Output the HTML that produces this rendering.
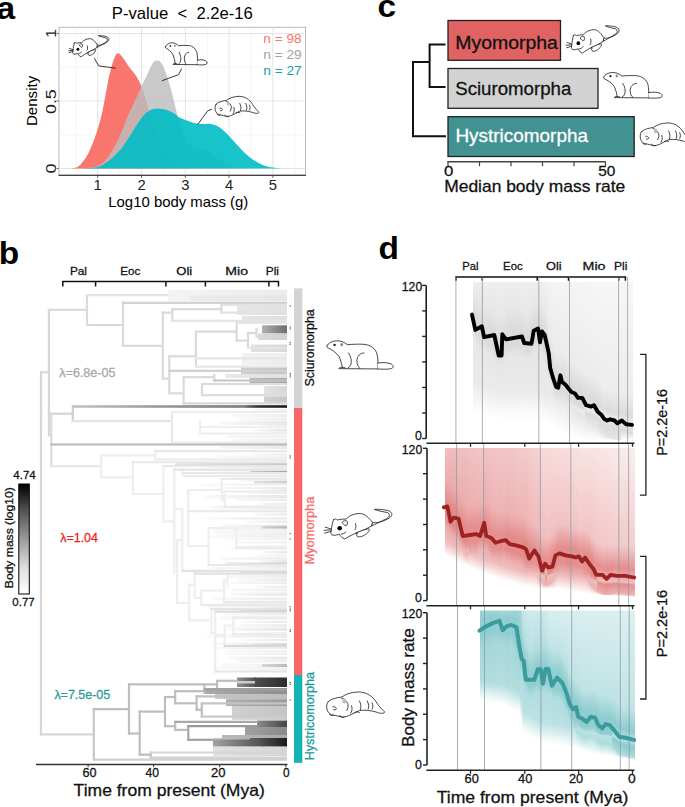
<!DOCTYPE html>
<html><head><meta charset="utf-8"><style>
html,body{margin:0;padding:0;background:#fff;width:685px;height:807px;overflow:hidden}
svg text{font-family:"Liberation Sans",sans-serif;stroke-width:0}
.cal text{stroke-width:0.28px;paint-order:stroke}
</style></head><body>
<svg width="685" height="807" viewBox="0 0 685 807" style="display:block">
<defs>
<linearGradient id="bg0" x1="0" x2="1" y1="0" y2="0"><stop offset="0" stop-color="#f4f4f4"/><stop offset="1" stop-color="#ececec"/></linearGradient>
<linearGradient id="bg1" x1="0" x2="1" y1="0" y2="0"><stop offset="0" stop-color="#ebebeb"/><stop offset="1" stop-color="#e6e6e6"/></linearGradient>
<linearGradient id="bg2" x1="0" x2="1" y1="0" y2="0"><stop offset="0" stop-color="#e6e6e6"/><stop offset="1" stop-color="#e0e0e0"/></linearGradient>
<linearGradient id="bg3" x1="0" x2="1" y1="0" y2="0"><stop offset="0" stop-color="#e4e4e4"/><stop offset="1" stop-color="#dedede"/></linearGradient>
<linearGradient id="bg4" x1="0" x2="1" y1="0" y2="0"><stop offset="0" stop-color="#b0b0b0"/><stop offset="1" stop-color="#6e6e6e"/></linearGradient>
<linearGradient id="bg5" x1="0" x2="1" y1="0" y2="0"><stop offset="0" stop-color="#dadada"/><stop offset="1" stop-color="#d0d0d0"/></linearGradient>
<linearGradient id="bg6" x1="0" x2="1" y1="0" y2="0"><stop offset="0" stop-color="#e2e2e2"/><stop offset="1" stop-color="#d8d8d8"/></linearGradient>
<linearGradient id="bg7" x1="0" x2="1" y1="0" y2="0"><stop offset="0" stop-color="#f2f2f2"/><stop offset="1" stop-color="#ececec"/></linearGradient>
<linearGradient id="bg8" x1="0" x2="1" y1="0" y2="0"><stop offset="0" stop-color="#cecece"/><stop offset="1" stop-color="#c4c4c4"/></linearGradient>
<linearGradient id="bg9" x1="0" x2="1" y1="0" y2="0"><stop offset="0" stop-color="#e8e8e8"/><stop offset="1" stop-color="#e0e0e0"/></linearGradient>
<linearGradient id="bg10" x1="0" x2="1" y1="0" y2="0"><stop offset="0" stop-color="#b8b8b8"/><stop offset="1" stop-color="#aaaaaa"/></linearGradient>
<linearGradient id="bg11" x1="0" x2="1" y1="0" y2="0"><stop offset="0" stop-color="#e2e2e2"/><stop offset="1" stop-color="#d8d8d8"/></linearGradient>
<linearGradient id="bg12" x1="0" x2="1" y1="0" y2="0"><stop offset="0" stop-color="#d0d0d0"/><stop offset="1" stop-color="#c8c8c8"/></linearGradient>
<linearGradient id="bg13" x1="0" x2="1" y1="0" y2="0"><stop offset="0" stop-color="#8e8e8e"/><stop offset="1" stop-color="#4e4e4e"/></linearGradient>
<linearGradient id="bg14" x1="0" x2="1" y1="0" y2="0"><stop offset="0" stop-color="#4e4e4e"/><stop offset="1" stop-color="#2c2c2c"/></linearGradient>
<linearGradient id="bg15" x1="0" x2="1" y1="0" y2="0"><stop offset="0" stop-color="#f9f9f9"/><stop offset="1" stop-color="#f0f0f0"/></linearGradient>
<linearGradient id="bg16" x1="0" x2="1" y1="0" y2="0"><stop offset="0" stop-color="#f9f9f9"/><stop offset="1" stop-color="#ededed"/></linearGradient>
<linearGradient id="bg17" x1="0" x2="1" y1="0" y2="0"><stop offset="0" stop-color="#f9f9f9"/><stop offset="1" stop-color="#f0f0f0"/></linearGradient>
<linearGradient id="bg18" x1="0" x2="1" y1="0" y2="0"><stop offset="0" stop-color="#f9f9f9"/><stop offset="1" stop-color="#e6e6e6"/></linearGradient>
<linearGradient id="bg19" x1="0" x2="1" y1="0" y2="0"><stop offset="0" stop-color="#f9f9f9"/><stop offset="1" stop-color="#eeeeee"/></linearGradient>
<linearGradient id="bg20" x1="0" x2="1" y1="0" y2="0"><stop offset="0" stop-color="#f9f9f9"/><stop offset="1" stop-color="#e5e5e5"/></linearGradient>
<linearGradient id="bg21" x1="0" x2="1" y1="0" y2="0"><stop offset="0" stop-color="#f9f9f9"/><stop offset="1" stop-color="#ededed"/></linearGradient>
<linearGradient id="bg22" x1="0" x2="1" y1="0" y2="0"><stop offset="0" stop-color="#f9f9f9"/><stop offset="1" stop-color="#f0f0f0"/></linearGradient>
<linearGradient id="bg23" x1="0" x2="1" y1="0" y2="0"><stop offset="0" stop-color="#f9f9f9"/><stop offset="1" stop-color="#eeeeee"/></linearGradient>
<linearGradient id="bg24" x1="0" x2="1" y1="0" y2="0"><stop offset="0" stop-color="#f9f9f9"/><stop offset="1" stop-color="#ececec"/></linearGradient>
<linearGradient id="bg25" x1="0" x2="1" y1="0" y2="0"><stop offset="0" stop-color="#f9f9f9"/><stop offset="1" stop-color="#e8e8e8"/></linearGradient>
<linearGradient id="bg26" x1="0" x2="1" y1="0" y2="0"><stop offset="0" stop-color="#f9f9f9"/><stop offset="1" stop-color="#efefef"/></linearGradient>
<linearGradient id="bg27" x1="0" x2="1" y1="0" y2="0"><stop offset="0" stop-color="#f9f9f9"/><stop offset="1" stop-color="#eaeaea"/></linearGradient>
<linearGradient id="bg28" x1="0" x2="1" y1="0" y2="0"><stop offset="0" stop-color="#f9f9f9"/><stop offset="1" stop-color="#f1f1f1"/></linearGradient>
<linearGradient id="bg29" x1="0" x2="1" y1="0" y2="0"><stop offset="0" stop-color="#f9f9f9"/><stop offset="1" stop-color="#eeeeee"/></linearGradient>
<linearGradient id="bg30" x1="0" x2="1" y1="0" y2="0"><stop offset="0" stop-color="#f9f9f9"/><stop offset="1" stop-color="#e7e7e7"/></linearGradient>
<linearGradient id="bg31" x1="0" x2="1" y1="0" y2="0"><stop offset="0" stop-color="#f9f9f9"/><stop offset="1" stop-color="#e9e9e9"/></linearGradient>
<linearGradient id="bg32" x1="0" x2="1" y1="0" y2="0"><stop offset="0" stop-color="#f9f9f9"/><stop offset="1" stop-color="#eeeeee"/></linearGradient>
<linearGradient id="bg33" x1="0" x2="1" y1="0" y2="0"><stop offset="0" stop-color="#f9f9f9"/><stop offset="1" stop-color="#ebebeb"/></linearGradient>
<linearGradient id="bg34" x1="0" x2="1" y1="0" y2="0"><stop offset="0" stop-color="#f9f9f9"/><stop offset="1" stop-color="#f2f2f2"/></linearGradient>
<linearGradient id="bg35" x1="0" x2="1" y1="0" y2="0"><stop offset="0" stop-color="#f9f9f9"/><stop offset="1" stop-color="#e6e6e6"/></linearGradient>
<linearGradient id="bg36" x1="0" x2="1" y1="0" y2="0"><stop offset="0" stop-color="#f9f9f9"/><stop offset="1" stop-color="#f1f1f1"/></linearGradient>
<linearGradient id="bg37" x1="0" x2="1" y1="0" y2="0"><stop offset="0" stop-color="#f9f9f9"/><stop offset="1" stop-color="#eaeaea"/></linearGradient>
<linearGradient id="bg38" x1="0" x2="1" y1="0" y2="0"><stop offset="0" stop-color="#f9f9f9"/><stop offset="1" stop-color="#e7e7e7"/></linearGradient>
<linearGradient id="bg39" x1="0" x2="1" y1="0" y2="0"><stop offset="0" stop-color="#f9f9f9"/><stop offset="1" stop-color="#e9e9e9"/></linearGradient>
<linearGradient id="bg40" x1="0" x2="1" y1="0" y2="0"><stop offset="0" stop-color="#f9f9f9"/><stop offset="1" stop-color="#e6e6e6"/></linearGradient>
<linearGradient id="bg41" x1="0" x2="1" y1="0" y2="0"><stop offset="0" stop-color="#f9f9f9"/><stop offset="1" stop-color="#eaeaea"/></linearGradient>
<linearGradient id="bg42" x1="0" x2="1" y1="0" y2="0"><stop offset="0" stop-color="#f9f9f9"/><stop offset="1" stop-color="#ebebeb"/></linearGradient>
<linearGradient id="bg43" x1="0" x2="1" y1="0" y2="0"><stop offset="0" stop-color="#f9f9f9"/><stop offset="1" stop-color="#e7e7e7"/></linearGradient>
<linearGradient id="bg44" x1="0" x2="1" y1="0" y2="0"><stop offset="0" stop-color="#f9f9f9"/><stop offset="1" stop-color="#e7e7e7"/></linearGradient>
<linearGradient id="bg45" x1="0" x2="1" y1="0" y2="0"><stop offset="0" stop-color="#f9f9f9"/><stop offset="1" stop-color="#ededed"/></linearGradient>
<linearGradient id="bg46" x1="0" x2="1" y1="0" y2="0"><stop offset="0" stop-color="#f9f9f9"/><stop offset="1" stop-color="#e5e5e5"/></linearGradient>
<linearGradient id="bg47" x1="0" x2="1" y1="0" y2="0"><stop offset="0" stop-color="#f9f9f9"/><stop offset="1" stop-color="#eaeaea"/></linearGradient>
<linearGradient id="bg48" x1="0" x2="1" y1="0" y2="0"><stop offset="0" stop-color="#f9f9f9"/><stop offset="1" stop-color="#e7e7e7"/></linearGradient>
<linearGradient id="bg49" x1="0" x2="1" y1="0" y2="0"><stop offset="0" stop-color="#f9f9f9"/><stop offset="1" stop-color="#ececec"/></linearGradient>
<linearGradient id="bg50" x1="0" x2="1" y1="0" y2="0"><stop offset="0" stop-color="#f9f9f9"/><stop offset="1" stop-color="#f1f1f1"/></linearGradient>
<linearGradient id="bg51" x1="0" x2="1" y1="0" y2="0"><stop offset="0" stop-color="#f9f9f9"/><stop offset="1" stop-color="#ebebeb"/></linearGradient>
<linearGradient id="bg52" x1="0" x2="1" y1="0" y2="0"><stop offset="0" stop-color="#f9f9f9"/><stop offset="1" stop-color="#eaeaea"/></linearGradient>
<linearGradient id="bg53" x1="0" x2="1" y1="0" y2="0"><stop offset="0" stop-color="#f9f9f9"/><stop offset="1" stop-color="#f1f1f1"/></linearGradient>
<linearGradient id="bg54" x1="0" x2="1" y1="0" y2="0"><stop offset="0" stop-color="#f9f9f9"/><stop offset="1" stop-color="#f1f1f1"/></linearGradient>
<linearGradient id="bg55" x1="0" x2="1" y1="0" y2="0"><stop offset="0" stop-color="#f9f9f9"/><stop offset="1" stop-color="#f2f2f2"/></linearGradient>
<linearGradient id="bg56" x1="0" x2="1" y1="0" y2="0"><stop offset="0" stop-color="#f9f9f9"/><stop offset="1" stop-color="#efefef"/></linearGradient>
<linearGradient id="bg57" x1="0" x2="1" y1="0" y2="0"><stop offset="0" stop-color="#f9f9f9"/><stop offset="1" stop-color="#e6e6e6"/></linearGradient>
<linearGradient id="bg58" x1="0" x2="1" y1="0" y2="0"><stop offset="0" stop-color="#f9f9f9"/><stop offset="1" stop-color="#efefef"/></linearGradient>
<linearGradient id="bg59" x1="0" x2="1" y1="0" y2="0"><stop offset="0" stop-color="#f9f9f9"/><stop offset="1" stop-color="#eeeeee"/></linearGradient>
<linearGradient id="bg60" x1="0" x2="1" y1="0" y2="0"><stop offset="0" stop-color="#f9f9f9"/><stop offset="1" stop-color="#e5e5e5"/></linearGradient>
<linearGradient id="bg61" x1="0" x2="1" y1="0" y2="0"><stop offset="0" stop-color="#f9f9f9"/><stop offset="1" stop-color="#eaeaea"/></linearGradient>
<linearGradient id="bg62" x1="0" x2="1" y1="0" y2="0"><stop offset="0" stop-color="#f9f9f9"/><stop offset="1" stop-color="#ededed"/></linearGradient>
<linearGradient id="bg63" x1="0" x2="1" y1="0" y2="0"><stop offset="0" stop-color="#f9f9f9"/><stop offset="1" stop-color="#eaeaea"/></linearGradient>
<linearGradient id="bg64" x1="0" x2="1" y1="0" y2="0"><stop offset="0" stop-color="#f9f9f9"/><stop offset="1" stop-color="#ececec"/></linearGradient>
<linearGradient id="bg65" x1="0" x2="1" y1="0" y2="0"><stop offset="0" stop-color="#f9f9f9"/><stop offset="1" stop-color="#ebebeb"/></linearGradient>
<linearGradient id="bg66" x1="0" x2="1" y1="0" y2="0"><stop offset="0" stop-color="#f9f9f9"/><stop offset="1" stop-color="#ededed"/></linearGradient>
<linearGradient id="bg67" x1="0" x2="1" y1="0" y2="0"><stop offset="0" stop-color="#f9f9f9"/><stop offset="1" stop-color="#eaeaea"/></linearGradient>
<linearGradient id="bg68" x1="0" x2="1" y1="0" y2="0"><stop offset="0" stop-color="#f9f9f9"/><stop offset="1" stop-color="#efefef"/></linearGradient>
<linearGradient id="bg69" x1="0" x2="1" y1="0" y2="0"><stop offset="0" stop-color="#f9f9f9"/><stop offset="1" stop-color="#e8e8e8"/></linearGradient>
<linearGradient id="bg70" x1="0" x2="1" y1="0" y2="0"><stop offset="0" stop-color="#f9f9f9"/><stop offset="1" stop-color="#ebebeb"/></linearGradient>
<linearGradient id="bg71" x1="0" x2="1" y1="0" y2="0"><stop offset="0" stop-color="#f9f9f9"/><stop offset="1" stop-color="#ededed"/></linearGradient>
<linearGradient id="bg72" x1="0" x2="1" y1="0" y2="0"><stop offset="0" stop-color="#f9f9f9"/><stop offset="1" stop-color="#ebebeb"/></linearGradient>
<linearGradient id="bg73" x1="0" x2="1" y1="0" y2="0"><stop offset="0" stop-color="#f9f9f9"/><stop offset="1" stop-color="#e8e8e8"/></linearGradient>
<linearGradient id="bg74" x1="0" x2="1" y1="0" y2="0"><stop offset="0" stop-color="#f9f9f9"/><stop offset="1" stop-color="#e8e8e8"/></linearGradient>
<linearGradient id="bg75" x1="0" x2="1" y1="0" y2="0"><stop offset="0" stop-color="#f9f9f9"/><stop offset="1" stop-color="#ececec"/></linearGradient>
<linearGradient id="bg76" x1="0" x2="1" y1="0" y2="0"><stop offset="0" stop-color="#f9f9f9"/><stop offset="1" stop-color="#f0f0f0"/></linearGradient>
<linearGradient id="bg77" x1="0" x2="1" y1="0" y2="0"><stop offset="0" stop-color="#f9f9f9"/><stop offset="1" stop-color="#e8e8e8"/></linearGradient>
<linearGradient id="bg78" x1="0" x2="1" y1="0" y2="0"><stop offset="0" stop-color="#f9f9f9"/><stop offset="1" stop-color="#ececec"/></linearGradient>
<linearGradient id="bg79" x1="0" x2="1" y1="0" y2="0"><stop offset="0" stop-color="#f9f9f9"/><stop offset="1" stop-color="#e5e5e5"/></linearGradient>
<linearGradient id="bg80" x1="0" x2="1" y1="0" y2="0"><stop offset="0" stop-color="#f9f9f9"/><stop offset="1" stop-color="#f0f0f0"/></linearGradient>
<linearGradient id="bg81" x1="0" x2="1" y1="0" y2="0"><stop offset="0" stop-color="#f9f9f9"/><stop offset="1" stop-color="#ececec"/></linearGradient>
<linearGradient id="bg82" x1="0" x2="1" y1="0" y2="0"><stop offset="0" stop-color="#f9f9f9"/><stop offset="1" stop-color="#e7e7e7"/></linearGradient>
<linearGradient id="bg83" x1="0" x2="1" y1="0" y2="0"><stop offset="0" stop-color="#f9f9f9"/><stop offset="1" stop-color="#e5e5e5"/></linearGradient>
<linearGradient id="bg84" x1="0" x2="1" y1="0" y2="0"><stop offset="0" stop-color="#f9f9f9"/><stop offset="1" stop-color="#e8e8e8"/></linearGradient>
<linearGradient id="bg85" x1="0" x2="1" y1="0" y2="0"><stop offset="0" stop-color="#f9f9f9"/><stop offset="1" stop-color="#f0f0f0"/></linearGradient>
<linearGradient id="bg86" x1="0" x2="1" y1="0" y2="0"><stop offset="0" stop-color="#f9f9f9"/><stop offset="1" stop-color="#f1f1f1"/></linearGradient>
<linearGradient id="bg87" x1="0" x2="1" y1="0" y2="0"><stop offset="0" stop-color="#f9f9f9"/><stop offset="1" stop-color="#e7e7e7"/></linearGradient>
<linearGradient id="bg88" x1="0" x2="1" y1="0" y2="0"><stop offset="0" stop-color="#f9f9f9"/><stop offset="1" stop-color="#eeeeee"/></linearGradient>
<linearGradient id="bg89" x1="0" x2="1" y1="0" y2="0"><stop offset="0" stop-color="#f9f9f9"/><stop offset="1" stop-color="#f2f2f2"/></linearGradient>
<linearGradient id="bg90" x1="0" x2="1" y1="0" y2="0"><stop offset="0" stop-color="#f9f9f9"/><stop offset="1" stop-color="#f1f1f1"/></linearGradient>
<linearGradient id="bg91" x1="0" x2="1" y1="0" y2="0"><stop offset="0" stop-color="#f9f9f9"/><stop offset="1" stop-color="#f0f0f0"/></linearGradient>
<linearGradient id="bg92" x1="0" x2="1" y1="0" y2="0"><stop offset="0" stop-color="#e2e2e2"/><stop offset="1" stop-color="#c8c8c8"/></linearGradient>
<linearGradient id="bg93" x1="0" x2="1" y1="0" y2="0"><stop offset="0" stop-color="#cfcfcf"/><stop offset="1" stop-color="#a0a0a0"/></linearGradient>
<linearGradient id="bg94" x1="0" x2="1" y1="0" y2="0"><stop offset="0" stop-color="#e0e0e0"/><stop offset="1" stop-color="#cfcfcf"/></linearGradient>
<linearGradient id="bg95" x1="0" x2="1" y1="0" y2="0"><stop offset="0" stop-color="#d4d4d4"/><stop offset="1" stop-color="#b8b8b8"/></linearGradient>
<linearGradient id="bg96" x1="0" x2="1" y1="0" y2="0"><stop offset="0" stop-color="#e8e8e8"/><stop offset="1" stop-color="#d2d2d2"/></linearGradient>
<linearGradient id="bg97" x1="0" x2="1" y1="0" y2="0"><stop offset="0" stop-color="#dcdcdc"/><stop offset="1" stop-color="#c8c8c8"/></linearGradient>
<linearGradient id="bg98" x1="0" x2="1" y1="0" y2="0"><stop offset="0" stop-color="#dadada"/><stop offset="1" stop-color="#c0c0c0"/></linearGradient>
<linearGradient id="bg99" x1="0" x2="1" y1="0" y2="0"><stop offset="0" stop-color="#d4d4d4"/><stop offset="1" stop-color="#b4b4b4"/></linearGradient>
<linearGradient id="bg100" x1="0" x2="1" y1="0" y2="0"><stop offset="0" stop-color="#d8d8d8"/><stop offset="1" stop-color="#b8b8b8"/></linearGradient>
<linearGradient id="bg101" x1="0" x2="1" y1="0" y2="0"><stop offset="0" stop-color="#d0d0d0"/><stop offset="1" stop-color="#c8c8c8"/></linearGradient>
<linearGradient id="bg102" x1="0" x2="1" y1="0" y2="0"><stop offset="0" stop-color="#aaaaaa"/><stop offset="1" stop-color="#8e8e8e"/></linearGradient>
<linearGradient id="bg103" x1="0" x2="1" y1="0" y2="0"><stop offset="0" stop-color="#c8c8c8"/><stop offset="1" stop-color="#bbbbbb"/></linearGradient>
<linearGradient id="bg104" x1="0" x2="1" y1="0" y2="0"><stop offset="0" stop-color="#b0b0b0"/><stop offset="1" stop-color="#9a9a9a"/></linearGradient>
<linearGradient id="bg105" x1="0" x2="1" y1="0" y2="0"><stop offset="0" stop-color="#d0d0d0"/><stop offset="1" stop-color="#c4c4c4"/></linearGradient>
<linearGradient id="bg106" x1="0" x2="1" y1="0" y2="0"><stop offset="0" stop-color="#d8d8d8"/><stop offset="1" stop-color="#cccccc"/></linearGradient>
<linearGradient id="bg107" x1="0" x2="1" y1="0" y2="0"><stop offset="0" stop-color="#8a8a8a"/><stop offset="1" stop-color="#444444"/></linearGradient>
<linearGradient id="bg108" x1="0" x2="1" y1="0" y2="0"><stop offset="0" stop-color="#a0a0a0"/><stop offset="1" stop-color="#8a8a8a"/></linearGradient>
<linearGradient id="bg109" x1="0" x2="1" y1="0" y2="0"><stop offset="0" stop-color="#b8b8b8"/><stop offset="1" stop-color="#aaaaaa"/></linearGradient>
<linearGradient id="bg110" x1="0" x2="1" y1="0" y2="0"><stop offset="0" stop-color="#a2a2a2"/><stop offset="1" stop-color="#4c4c4c"/></linearGradient>
<linearGradient id="bg111" x1="0" x2="1" y1="0" y2="0"><stop offset="0" stop-color="#4c4c4c"/><stop offset="1" stop-color="#1c1c1c"/></linearGradient>
<linearGradient id="bg112" x1="0" x2="1" y1="0" y2="0"><stop offset="0" stop-color="#c8c8c8"/><stop offset="1" stop-color="#b0b0b0"/></linearGradient>
<linearGradient id="bg113" x1="0" x2="1" y1="0" y2="0"><stop offset="0" stop-color="#e0e0e0"/><stop offset="1" stop-color="#d6d6d6"/></linearGradient>
<linearGradient id="darkl" x1="0" x2="1" y1="0" y2="0"><stop offset="0" stop-color="#c4c4c4"/><stop offset="0.4" stop-color="#9a9a9a"/><stop offset="0.8" stop-color="#7a7a7a"/><stop offset="0.86" stop-color="#333"/><stop offset="1" stop-color="#1a1a1a"/></linearGradient>
<linearGradient id="cbar" x1="0" x2="0" y1="0" y2="1"><stop offset="0" stop-color="#000"/><stop offset="0.25" stop-color="#555"/><stop offset="0.5" stop-color="#9a9a9a"/><stop offset="0.75" stop-color="#dcdcdc"/><stop offset="1" stop-color="#fff"/></linearGradient>
<linearGradient id="gt0" x1="0" x2="0" y1="0" y2="1"><stop offset="0.000" stop-color="#000" stop-opacity="0.069"/><stop offset="0.065" stop-color="#000" stop-opacity="0.093"/><stop offset="0.204" stop-color="#000" stop-opacity="0.138"/><stop offset="0.305" stop-color="#000" stop-opacity="0.138"/><stop offset="0.368" stop-color="#000" stop-opacity="0.093"/><stop offset="0.641" stop-color="#000" stop-opacity="0.079"/><stop offset="0.831" stop-color="#000" stop-opacity="0.000"/><stop offset="1.000" stop-color="#000" stop-opacity="0.000"/></linearGradient>
<linearGradient id="gt1" x1="0" x2="0" y1="0" y2="1"><stop offset="0.000" stop-color="#000" stop-opacity="0.069"/><stop offset="0.081" stop-color="#000" stop-opacity="0.094"/><stop offset="0.220" stop-color="#000" stop-opacity="0.139"/><stop offset="0.321" stop-color="#000" stop-opacity="0.139"/><stop offset="0.384" stop-color="#000" stop-opacity="0.094"/><stop offset="0.644" stop-color="#000" stop-opacity="0.080"/><stop offset="0.834" stop-color="#000" stop-opacity="0.000"/><stop offset="1.000" stop-color="#000" stop-opacity="0.000"/></linearGradient>
<linearGradient id="gt2" x1="0" x2="0" y1="0" y2="1"><stop offset="0.000" stop-color="#000" stop-opacity="0.069"/><stop offset="0.096" stop-color="#000" stop-opacity="0.093"/><stop offset="0.235" stop-color="#000" stop-opacity="0.138"/><stop offset="0.337" stop-color="#000" stop-opacity="0.138"/><stop offset="0.400" stop-color="#000" stop-opacity="0.094"/><stop offset="0.647" stop-color="#000" stop-opacity="0.080"/><stop offset="0.837" stop-color="#000" stop-opacity="0.000"/><stop offset="1.000" stop-color="#000" stop-opacity="0.000"/></linearGradient>
<linearGradient id="gt3" x1="0" x2="0" y1="0" y2="1"><stop offset="0.000" stop-color="#000" stop-opacity="0.069"/><stop offset="0.112" stop-color="#000" stop-opacity="0.094"/><stop offset="0.252" stop-color="#000" stop-opacity="0.140"/><stop offset="0.353" stop-color="#000" stop-opacity="0.140"/><stop offset="0.416" stop-color="#000" stop-opacity="0.095"/><stop offset="0.651" stop-color="#000" stop-opacity="0.081"/><stop offset="0.841" stop-color="#000" stop-opacity="0.000"/><stop offset="1.000" stop-color="#000" stop-opacity="0.000"/></linearGradient>
<linearGradient id="gt4" x1="0" x2="0" y1="0" y2="1"><stop offset="0.000" stop-color="#000" stop-opacity="0.070"/><stop offset="0.122" stop-color="#000" stop-opacity="0.095"/><stop offset="0.261" stop-color="#000" stop-opacity="0.141"/><stop offset="0.362" stop-color="#000" stop-opacity="0.141"/><stop offset="0.425" stop-color="#000" stop-opacity="0.096"/><stop offset="0.654" stop-color="#000" stop-opacity="0.081"/><stop offset="0.844" stop-color="#000" stop-opacity="0.000"/><stop offset="1.000" stop-color="#000" stop-opacity="0.000"/></linearGradient>
<linearGradient id="gt5" x1="0" x2="0" y1="0" y2="1"><stop offset="0.000" stop-color="#000" stop-opacity="0.068"/><stop offset="0.132" stop-color="#000" stop-opacity="0.092"/><stop offset="0.271" stop-color="#000" stop-opacity="0.137"/><stop offset="0.372" stop-color="#000" stop-opacity="0.137"/><stop offset="0.435" stop-color="#000" stop-opacity="0.093"/><stop offset="0.657" stop-color="#000" stop-opacity="0.079"/><stop offset="0.847" stop-color="#000" stop-opacity="0.000"/><stop offset="1.000" stop-color="#000" stop-opacity="0.000"/></linearGradient>
<linearGradient id="gt6" x1="0" x2="0" y1="0" y2="1"><stop offset="0.000" stop-color="#000" stop-opacity="0.066"/><stop offset="0.143" stop-color="#000" stop-opacity="0.090"/><stop offset="0.282" stop-color="#000" stop-opacity="0.134"/><stop offset="0.383" stop-color="#000" stop-opacity="0.134"/><stop offset="0.446" stop-color="#000" stop-opacity="0.091"/><stop offset="0.661" stop-color="#000" stop-opacity="0.077"/><stop offset="0.850" stop-color="#000" stop-opacity="0.000"/><stop offset="1.000" stop-color="#000" stop-opacity="0.000"/></linearGradient>
<linearGradient id="gt7" x1="0" x2="0" y1="0" y2="1"><stop offset="0.000" stop-color="#000" stop-opacity="0.069"/><stop offset="0.154" stop-color="#000" stop-opacity="0.093"/><stop offset="0.293" stop-color="#000" stop-opacity="0.139"/><stop offset="0.394" stop-color="#000" stop-opacity="0.139"/><stop offset="0.457" stop-color="#000" stop-opacity="0.094"/><stop offset="0.664" stop-color="#000" stop-opacity="0.080"/><stop offset="0.854" stop-color="#000" stop-opacity="0.000"/><stop offset="1.000" stop-color="#000" stop-opacity="0.000"/></linearGradient>
<linearGradient id="gt8" x1="0" x2="0" y1="0" y2="1"><stop offset="0.000" stop-color="#000" stop-opacity="0.067"/><stop offset="0.151" stop-color="#000" stop-opacity="0.092"/><stop offset="0.291" stop-color="#000" stop-opacity="0.137"/><stop offset="0.392" stop-color="#000" stop-opacity="0.137"/><stop offset="0.455" stop-color="#000" stop-opacity="0.093"/><stop offset="0.667" stop-color="#000" stop-opacity="0.079"/><stop offset="0.857" stop-color="#000" stop-opacity="0.000"/><stop offset="1.000" stop-color="#000" stop-opacity="0.000"/></linearGradient>
<linearGradient id="gt9" x1="0" x2="0" y1="0" y2="1"><stop offset="0.000" stop-color="#000" stop-opacity="0.067"/><stop offset="0.159" stop-color="#000" stop-opacity="0.091"/><stop offset="0.298" stop-color="#000" stop-opacity="0.136"/><stop offset="0.400" stop-color="#000" stop-opacity="0.136"/><stop offset="0.463" stop-color="#000" stop-opacity="0.092"/><stop offset="0.670" stop-color="#000" stop-opacity="0.078"/><stop offset="0.860" stop-color="#000" stop-opacity="0.000"/><stop offset="1.000" stop-color="#000" stop-opacity="0.000"/></linearGradient>
<linearGradient id="gt10" x1="0" x2="0" y1="0" y2="1"><stop offset="0.000" stop-color="#000" stop-opacity="0.069"/><stop offset="0.179" stop-color="#000" stop-opacity="0.095"/><stop offset="0.319" stop-color="#000" stop-opacity="0.142"/><stop offset="0.420" stop-color="#000" stop-opacity="0.142"/><stop offset="0.483" stop-color="#000" stop-opacity="0.096"/><stop offset="0.674" stop-color="#000" stop-opacity="0.082"/><stop offset="0.864" stop-color="#000" stop-opacity="0.000"/><stop offset="1.000" stop-color="#000" stop-opacity="0.000"/></linearGradient>
<linearGradient id="gt11" x1="0" x2="0" y1="0" y2="1"><stop offset="0.000" stop-color="#000" stop-opacity="0.069"/><stop offset="0.204" stop-color="#000" stop-opacity="0.094"/><stop offset="0.343" stop-color="#000" stop-opacity="0.141"/><stop offset="0.445" stop-color="#000" stop-opacity="0.141"/><stop offset="0.508" stop-color="#000" stop-opacity="0.096"/><stop offset="0.677" stop-color="#000" stop-opacity="0.081"/><stop offset="0.867" stop-color="#000" stop-opacity="0.000"/><stop offset="1.000" stop-color="#000" stop-opacity="0.000"/></linearGradient>
<linearGradient id="gt12" x1="0" x2="0" y1="0" y2="1"><stop offset="0.000" stop-color="#000" stop-opacity="0.070"/><stop offset="0.214" stop-color="#000" stop-opacity="0.096"/><stop offset="0.353" stop-color="#000" stop-opacity="0.144"/><stop offset="0.455" stop-color="#000" stop-opacity="0.144"/><stop offset="0.518" stop-color="#000" stop-opacity="0.097"/><stop offset="0.680" stop-color="#000" stop-opacity="0.083"/><stop offset="0.870" stop-color="#000" stop-opacity="0.000"/><stop offset="1.000" stop-color="#000" stop-opacity="0.000"/></linearGradient>
<linearGradient id="gt13" x1="0" x2="0" y1="0" y2="1"><stop offset="0.000" stop-color="#000" stop-opacity="0.069"/><stop offset="0.216" stop-color="#000" stop-opacity="0.094"/><stop offset="0.355" stop-color="#000" stop-opacity="0.142"/><stop offset="0.457" stop-color="#000" stop-opacity="0.142"/><stop offset="0.520" stop-color="#000" stop-opacity="0.096"/><stop offset="0.684" stop-color="#000" stop-opacity="0.082"/><stop offset="0.873" stop-color="#000" stop-opacity="0.000"/><stop offset="1.000" stop-color="#000" stop-opacity="0.000"/></linearGradient>
<linearGradient id="gt14" x1="0" x2="0" y1="0" y2="1"><stop offset="0.000" stop-color="#000" stop-opacity="0.069"/><stop offset="0.212" stop-color="#000" stop-opacity="0.095"/><stop offset="0.351" stop-color="#000" stop-opacity="0.142"/><stop offset="0.452" stop-color="#000" stop-opacity="0.142"/><stop offset="0.515" stop-color="#000" stop-opacity="0.097"/><stop offset="0.684" stop-color="#000" stop-opacity="0.082"/><stop offset="0.873" stop-color="#000" stop-opacity="0.000"/><stop offset="1.000" stop-color="#000" stop-opacity="0.000"/></linearGradient>
<linearGradient id="gt15" x1="0" x2="0" y1="0" y2="1"><stop offset="0.000" stop-color="#000" stop-opacity="0.067"/><stop offset="0.195" stop-color="#000" stop-opacity="0.092"/><stop offset="0.334" stop-color="#000" stop-opacity="0.138"/><stop offset="0.435" stop-color="#000" stop-opacity="0.138"/><stop offset="0.499" stop-color="#000" stop-opacity="0.094"/><stop offset="0.684" stop-color="#000" stop-opacity="0.080"/><stop offset="0.873" stop-color="#000" stop-opacity="0.000"/><stop offset="1.000" stop-color="#000" stop-opacity="0.000"/></linearGradient>
<linearGradient id="gt16" x1="0" x2="0" y1="0" y2="1"><stop offset="0.000" stop-color="#000" stop-opacity="0.068"/><stop offset="0.174" stop-color="#000" stop-opacity="0.093"/><stop offset="0.313" stop-color="#000" stop-opacity="0.140"/><stop offset="0.414" stop-color="#000" stop-opacity="0.140"/><stop offset="0.477" stop-color="#000" stop-opacity="0.095"/><stop offset="0.684" stop-color="#000" stop-opacity="0.081"/><stop offset="0.873" stop-color="#000" stop-opacity="0.000"/><stop offset="1.000" stop-color="#000" stop-opacity="0.000"/></linearGradient>
<linearGradient id="gt17" x1="0" x2="0" y1="0" y2="1"><stop offset="0.000" stop-color="#000" stop-opacity="0.069"/><stop offset="0.167" stop-color="#000" stop-opacity="0.095"/><stop offset="0.306" stop-color="#000" stop-opacity="0.143"/><stop offset="0.408" stop-color="#000" stop-opacity="0.143"/><stop offset="0.471" stop-color="#000" stop-opacity="0.097"/><stop offset="0.684" stop-color="#000" stop-opacity="0.083"/><stop offset="0.873" stop-color="#000" stop-opacity="0.000"/><stop offset="1.000" stop-color="#000" stop-opacity="0.000"/></linearGradient>
<linearGradient id="gt18" x1="0" x2="0" y1="0" y2="1"><stop offset="0.000" stop-color="#000" stop-opacity="0.068"/><stop offset="0.169" stop-color="#000" stop-opacity="0.094"/><stop offset="0.308" stop-color="#000" stop-opacity="0.142"/><stop offset="0.409" stop-color="#000" stop-opacity="0.142"/><stop offset="0.473" stop-color="#000" stop-opacity="0.097"/><stop offset="0.684" stop-color="#000" stop-opacity="0.082"/><stop offset="0.873" stop-color="#000" stop-opacity="0.000"/><stop offset="1.000" stop-color="#000" stop-opacity="0.000"/></linearGradient>
<linearGradient id="gt19" x1="0" x2="0" y1="0" y2="1"><stop offset="0.000" stop-color="#000" stop-opacity="0.069"/><stop offset="0.167" stop-color="#000" stop-opacity="0.095"/><stop offset="0.306" stop-color="#000" stop-opacity="0.144"/><stop offset="0.407" stop-color="#000" stop-opacity="0.144"/><stop offset="0.470" stop-color="#000" stop-opacity="0.097"/><stop offset="0.684" stop-color="#000" stop-opacity="0.083"/><stop offset="0.873" stop-color="#000" stop-opacity="0.000"/><stop offset="1.000" stop-color="#000" stop-opacity="0.000"/></linearGradient>
<linearGradient id="gt20" x1="0" x2="0" y1="0" y2="1"><stop offset="0.000" stop-color="#000" stop-opacity="0.069"/><stop offset="0.164" stop-color="#000" stop-opacity="0.095"/><stop offset="0.303" stop-color="#000" stop-opacity="0.144"/><stop offset="0.405" stop-color="#000" stop-opacity="0.144"/><stop offset="0.468" stop-color="#000" stop-opacity="0.097"/><stop offset="0.684" stop-color="#000" stop-opacity="0.083"/><stop offset="0.873" stop-color="#000" stop-opacity="0.000"/><stop offset="1.000" stop-color="#000" stop-opacity="0.000"/></linearGradient>
<linearGradient id="gt21" x1="0" x2="0" y1="0" y2="1"><stop offset="0.000" stop-color="#000" stop-opacity="0.066"/><stop offset="0.162" stop-color="#000" stop-opacity="0.091"/><stop offset="0.301" stop-color="#000" stop-opacity="0.138"/><stop offset="0.402" stop-color="#000" stop-opacity="0.138"/><stop offset="0.466" stop-color="#000" stop-opacity="0.094"/><stop offset="0.684" stop-color="#000" stop-opacity="0.080"/><stop offset="0.873" stop-color="#000" stop-opacity="0.000"/><stop offset="1.000" stop-color="#000" stop-opacity="0.000"/></linearGradient>
<linearGradient id="gt22" x1="0" x2="0" y1="0" y2="1"><stop offset="0.000" stop-color="#000" stop-opacity="0.067"/><stop offset="0.160" stop-color="#000" stop-opacity="0.093"/><stop offset="0.299" stop-color="#000" stop-opacity="0.141"/><stop offset="0.400" stop-color="#000" stop-opacity="0.141"/><stop offset="0.463" stop-color="#000" stop-opacity="0.096"/><stop offset="0.684" stop-color="#000" stop-opacity="0.081"/><stop offset="0.873" stop-color="#000" stop-opacity="0.000"/><stop offset="1.000" stop-color="#000" stop-opacity="0.000"/></linearGradient>
<linearGradient id="gt23" x1="0" x2="0" y1="0" y2="1"><stop offset="0.000" stop-color="#000" stop-opacity="0.067"/><stop offset="0.165" stop-color="#000" stop-opacity="0.093"/><stop offset="0.305" stop-color="#000" stop-opacity="0.142"/><stop offset="0.406" stop-color="#000" stop-opacity="0.142"/><stop offset="0.469" stop-color="#000" stop-opacity="0.096"/><stop offset="0.684" stop-color="#000" stop-opacity="0.082"/><stop offset="0.873" stop-color="#000" stop-opacity="0.000"/><stop offset="1.000" stop-color="#000" stop-opacity="0.000"/></linearGradient>
<linearGradient id="gt24" x1="0" x2="0" y1="0" y2="1"><stop offset="0.000" stop-color="#000" stop-opacity="0.066"/><stop offset="0.172" stop-color="#000" stop-opacity="0.092"/><stop offset="0.312" stop-color="#000" stop-opacity="0.139"/><stop offset="0.413" stop-color="#000" stop-opacity="0.139"/><stop offset="0.476" stop-color="#000" stop-opacity="0.094"/><stop offset="0.684" stop-color="#000" stop-opacity="0.080"/><stop offset="0.873" stop-color="#000" stop-opacity="0.000"/><stop offset="1.000" stop-color="#000" stop-opacity="0.000"/></linearGradient>
<linearGradient id="gt25" x1="0" x2="0" y1="0" y2="1"><stop offset="0.000" stop-color="#000" stop-opacity="0.064"/><stop offset="0.180" stop-color="#000" stop-opacity="0.089"/><stop offset="0.319" stop-color="#000" stop-opacity="0.135"/><stop offset="0.421" stop-color="#000" stop-opacity="0.135"/><stop offset="0.484" stop-color="#000" stop-opacity="0.092"/><stop offset="0.684" stop-color="#000" stop-opacity="0.078"/><stop offset="0.873" stop-color="#000" stop-opacity="0.000"/><stop offset="1.000" stop-color="#000" stop-opacity="0.000"/></linearGradient>
<linearGradient id="gt26" x1="0" x2="0" y1="0" y2="1"><stop offset="0.000" stop-color="#000" stop-opacity="0.066"/><stop offset="0.189" stop-color="#000" stop-opacity="0.092"/><stop offset="0.328" stop-color="#000" stop-opacity="0.140"/><stop offset="0.429" stop-color="#000" stop-opacity="0.140"/><stop offset="0.493" stop-color="#000" stop-opacity="0.095"/><stop offset="0.684" stop-color="#000" stop-opacity="0.081"/><stop offset="0.873" stop-color="#000" stop-opacity="0.000"/><stop offset="1.000" stop-color="#000" stop-opacity="0.000"/></linearGradient>
<linearGradient id="gt27" x1="0" x2="0" y1="0" y2="1"><stop offset="0.000" stop-color="#000" stop-opacity="0.066"/><stop offset="0.194" stop-color="#000" stop-opacity="0.092"/><stop offset="0.334" stop-color="#000" stop-opacity="0.140"/><stop offset="0.435" stop-color="#000" stop-opacity="0.140"/><stop offset="0.498" stop-color="#000" stop-opacity="0.095"/><stop offset="0.684" stop-color="#000" stop-opacity="0.081"/><stop offset="0.873" stop-color="#000" stop-opacity="0.000"/><stop offset="1.000" stop-color="#000" stop-opacity="0.000"/></linearGradient>
<linearGradient id="gt28" x1="0" x2="0" y1="0" y2="1"><stop offset="0.000" stop-color="#000" stop-opacity="0.067"/><stop offset="0.179" stop-color="#000" stop-opacity="0.093"/><stop offset="0.319" stop-color="#000" stop-opacity="0.142"/><stop offset="0.420" stop-color="#000" stop-opacity="0.142"/><stop offset="0.483" stop-color="#000" stop-opacity="0.096"/><stop offset="0.684" stop-color="#000" stop-opacity="0.082"/><stop offset="0.873" stop-color="#000" stop-opacity="0.000"/><stop offset="1.000" stop-color="#000" stop-opacity="0.000"/></linearGradient>
<linearGradient id="gt29" x1="0" x2="0" y1="0" y2="1"><stop offset="0.000" stop-color="#000" stop-opacity="0.068"/><stop offset="0.162" stop-color="#000" stop-opacity="0.095"/><stop offset="0.301" stop-color="#000" stop-opacity="0.145"/><stop offset="0.402" stop-color="#000" stop-opacity="0.145"/><stop offset="0.466" stop-color="#000" stop-opacity="0.098"/><stop offset="0.684" stop-color="#000" stop-opacity="0.083"/><stop offset="0.873" stop-color="#000" stop-opacity="0.000"/><stop offset="1.000" stop-color="#000" stop-opacity="0.000"/></linearGradient>
<linearGradient id="gt30" x1="0" x2="0" y1="0" y2="1"><stop offset="0.000" stop-color="#000" stop-opacity="0.068"/><stop offset="0.143" stop-color="#000" stop-opacity="0.095"/><stop offset="0.282" stop-color="#000" stop-opacity="0.145"/><stop offset="0.384" stop-color="#000" stop-opacity="0.145"/><stop offset="0.447" stop-color="#000" stop-opacity="0.098"/><stop offset="0.684" stop-color="#000" stop-opacity="0.083"/><stop offset="0.873" stop-color="#000" stop-opacity="0.000"/><stop offset="1.000" stop-color="#000" stop-opacity="0.000"/></linearGradient>
<linearGradient id="gt31" x1="0" x2="0" y1="0" y2="1"><stop offset="0.000" stop-color="#000" stop-opacity="0.068"/><stop offset="0.141" stop-color="#000" stop-opacity="0.096"/><stop offset="0.281" stop-color="#000" stop-opacity="0.147"/><stop offset="0.382" stop-color="#000" stop-opacity="0.147"/><stop offset="0.445" stop-color="#000" stop-opacity="0.099"/><stop offset="0.684" stop-color="#000" stop-opacity="0.085"/><stop offset="0.873" stop-color="#000" stop-opacity="0.000"/><stop offset="1.000" stop-color="#000" stop-opacity="0.000"/></linearGradient>
<linearGradient id="gt32" x1="0" x2="0" y1="0" y2="1"><stop offset="0.000" stop-color="#000" stop-opacity="0.067"/><stop offset="0.130" stop-color="#000" stop-opacity="0.093"/><stop offset="0.269" stop-color="#000" stop-opacity="0.143"/><stop offset="0.370" stop-color="#000" stop-opacity="0.143"/><stop offset="0.433" stop-color="#000" stop-opacity="0.097"/><stop offset="0.684" stop-color="#000" stop-opacity="0.082"/><stop offset="0.873" stop-color="#000" stop-opacity="0.000"/><stop offset="1.000" stop-color="#000" stop-opacity="0.000"/></linearGradient>
<linearGradient id="gt33" x1="0" x2="0" y1="0" y2="1"><stop offset="0.000" stop-color="#000" stop-opacity="0.067"/><stop offset="0.134" stop-color="#000" stop-opacity="0.094"/><stop offset="0.273" stop-color="#000" stop-opacity="0.144"/><stop offset="0.375" stop-color="#000" stop-opacity="0.144"/><stop offset="0.438" stop-color="#000" stop-opacity="0.098"/><stop offset="0.684" stop-color="#000" stop-opacity="0.083"/><stop offset="0.873" stop-color="#000" stop-opacity="0.000"/><stop offset="1.000" stop-color="#000" stop-opacity="0.000"/></linearGradient>
<linearGradient id="gt34" x1="0" x2="0" y1="0" y2="1"><stop offset="0.000" stop-color="#000" stop-opacity="0.062"/><stop offset="0.148" stop-color="#000" stop-opacity="0.090"/><stop offset="0.288" stop-color="#000" stop-opacity="0.142"/><stop offset="0.389" stop-color="#000" stop-opacity="0.142"/><stop offset="0.452" stop-color="#000" stop-opacity="0.096"/><stop offset="0.692" stop-color="#000" stop-opacity="0.082"/><stop offset="0.882" stop-color="#000" stop-opacity="0.000"/><stop offset="1.000" stop-color="#000" stop-opacity="0.000"/></linearGradient>
<linearGradient id="gt35" x1="0" x2="0" y1="0" y2="1"><stop offset="0.000" stop-color="#000" stop-opacity="0.059"/><stop offset="0.175" stop-color="#000" stop-opacity="0.089"/><stop offset="0.314" stop-color="#000" stop-opacity="0.145"/><stop offset="0.416" stop-color="#000" stop-opacity="0.145"/><stop offset="0.479" stop-color="#000" stop-opacity="0.099"/><stop offset="0.700" stop-color="#000" stop-opacity="0.084"/><stop offset="0.890" stop-color="#000" stop-opacity="0.000"/><stop offset="1.000" stop-color="#000" stop-opacity="0.000"/></linearGradient>
<linearGradient id="gt36" x1="0" x2="0" y1="0" y2="1"><stop offset="0.000" stop-color="#000" stop-opacity="0.055"/><stop offset="0.205" stop-color="#000" stop-opacity="0.087"/><stop offset="0.344" stop-color="#000" stop-opacity="0.147"/><stop offset="0.446" stop-color="#000" stop-opacity="0.147"/><stop offset="0.509" stop-color="#000" stop-opacity="0.099"/><stop offset="0.708" stop-color="#000" stop-opacity="0.085"/><stop offset="0.898" stop-color="#000" stop-opacity="0.000"/><stop offset="1.000" stop-color="#000" stop-opacity="0.000"/></linearGradient>
<linearGradient id="gt37" x1="0" x2="0" y1="0" y2="1"><stop offset="0.000" stop-color="#000" stop-opacity="0.049"/><stop offset="0.259" stop-color="#000" stop-opacity="0.081"/><stop offset="0.399" stop-color="#000" stop-opacity="0.140"/><stop offset="0.500" stop-color="#000" stop-opacity="0.140"/><stop offset="0.563" stop-color="#000" stop-opacity="0.095"/><stop offset="0.716" stop-color="#000" stop-opacity="0.081"/><stop offset="0.906" stop-color="#000" stop-opacity="0.000"/><stop offset="1.000" stop-color="#000" stop-opacity="0.000"/></linearGradient>
<linearGradient id="gt38" x1="0" x2="0" y1="0" y2="1"><stop offset="0.000" stop-color="#000" stop-opacity="0.044"/><stop offset="0.319" stop-color="#000" stop-opacity="0.077"/><stop offset="0.458" stop-color="#000" stop-opacity="0.137"/><stop offset="0.559" stop-color="#000" stop-opacity="0.137"/><stop offset="0.622" stop-color="#000" stop-opacity="0.093"/><stop offset="0.725" stop-color="#000" stop-opacity="0.079"/><stop offset="0.915" stop-color="#000" stop-opacity="0.000"/><stop offset="1.000" stop-color="#000" stop-opacity="0.000"/></linearGradient>
<linearGradient id="gt39" x1="0" x2="0" y1="0" y2="1"><stop offset="0.000" stop-color="#000" stop-opacity="0.043"/><stop offset="0.377" stop-color="#000" stop-opacity="0.076"/><stop offset="0.516" stop-color="#000" stop-opacity="0.136"/><stop offset="0.617" stop-color="#000" stop-opacity="0.136"/><stop offset="0.680" stop-color="#000" stop-opacity="0.092"/><stop offset="0.733" stop-color="#000" stop-opacity="0.078"/><stop offset="0.923" stop-color="#000" stop-opacity="0.000"/><stop offset="1.000" stop-color="#000" stop-opacity="0.000"/></linearGradient>
<linearGradient id="gt40" x1="0" x2="0" y1="0" y2="1"><stop offset="0.000" stop-color="#000" stop-opacity="0.045"/><stop offset="0.424" stop-color="#000" stop-opacity="0.079"/><stop offset="0.564" stop-color="#000" stop-opacity="0.142"/><stop offset="0.665" stop-color="#000" stop-opacity="0.142"/><stop offset="0.728" stop-color="#000" stop-opacity="0.096"/><stop offset="0.741" stop-color="#000" stop-opacity="0.082"/><stop offset="0.931" stop-color="#000" stop-opacity="0.000"/><stop offset="1.000" stop-color="#000" stop-opacity="0.000"/></linearGradient>
<linearGradient id="gt41" x1="0" x2="0" y1="0" y2="1"><stop offset="0.000" stop-color="#000" stop-opacity="0.044"/><stop offset="0.439" stop-color="#000" stop-opacity="0.078"/><stop offset="0.578" stop-color="#000" stop-opacity="0.140"/><stop offset="0.680" stop-color="#000" stop-opacity="0.140"/><stop offset="0.743" stop-color="#000" stop-opacity="0.095"/><stop offset="0.749" stop-color="#000" stop-opacity="0.081"/><stop offset="0.939" stop-color="#000" stop-opacity="0.000"/><stop offset="1.000" stop-color="#000" stop-opacity="0.000"/></linearGradient>
<linearGradient id="gt42" x1="0" x2="0" y1="0" y2="1"><stop offset="0.000" stop-color="#000" stop-opacity="0.044"/><stop offset="0.449" stop-color="#000" stop-opacity="0.078"/><stop offset="0.588" stop-color="#000" stop-opacity="0.141"/><stop offset="0.689" stop-color="#000" stop-opacity="0.141"/><stop offset="0.753" stop-color="#000" stop-opacity="0.096"/><stop offset="0.758" stop-color="#000" stop-opacity="0.082"/><stop offset="0.947" stop-color="#000" stop-opacity="0.000"/><stop offset="1.000" stop-color="#000" stop-opacity="0.000"/></linearGradient>
<linearGradient id="gt43" x1="0" x2="0" y1="0" y2="1"><stop offset="0.000" stop-color="#000" stop-opacity="0.043"/><stop offset="0.452" stop-color="#000" stop-opacity="0.076"/><stop offset="0.591" stop-color="#000" stop-opacity="0.139"/><stop offset="0.693" stop-color="#000" stop-opacity="0.139"/><stop offset="0.756" stop-color="#000" stop-opacity="0.094"/><stop offset="0.766" stop-color="#000" stop-opacity="0.080"/><stop offset="0.956" stop-color="#000" stop-opacity="0.000"/><stop offset="1.000" stop-color="#000" stop-opacity="0.000"/></linearGradient>
<linearGradient id="gt44" x1="0" x2="0" y1="0" y2="1"><stop offset="0.000" stop-color="#000" stop-opacity="0.042"/><stop offset="0.450" stop-color="#000" stop-opacity="0.076"/><stop offset="0.590" stop-color="#000" stop-opacity="0.139"/><stop offset="0.691" stop-color="#000" stop-opacity="0.139"/><stop offset="0.754" stop-color="#000" stop-opacity="0.095"/><stop offset="0.770" stop-color="#000" stop-opacity="0.080"/><stop offset="0.959" stop-color="#000" stop-opacity="0.000"/><stop offset="1.000" stop-color="#000" stop-opacity="0.000"/></linearGradient>
<linearGradient id="gt45" x1="0" x2="0" y1="0" y2="1"><stop offset="0.000" stop-color="#000" stop-opacity="0.042"/><stop offset="0.451" stop-color="#000" stop-opacity="0.076"/><stop offset="0.590" stop-color="#000" stop-opacity="0.139"/><stop offset="0.691" stop-color="#000" stop-opacity="0.139"/><stop offset="0.754" stop-color="#000" stop-opacity="0.094"/><stop offset="0.773" stop-color="#000" stop-opacity="0.080"/><stop offset="0.963" stop-color="#000" stop-opacity="0.000"/><stop offset="1.000" stop-color="#000" stop-opacity="0.000"/></linearGradient>
<linearGradient id="gt46" x1="0" x2="0" y1="0" y2="1"><stop offset="0.000" stop-color="#000" stop-opacity="0.041"/><stop offset="0.467" stop-color="#000" stop-opacity="0.075"/><stop offset="0.606" stop-color="#000" stop-opacity="0.138"/><stop offset="0.707" stop-color="#000" stop-opacity="0.138"/><stop offset="0.771" stop-color="#000" stop-opacity="0.094"/><stop offset="0.777" stop-color="#000" stop-opacity="0.080"/><stop offset="0.967" stop-color="#000" stop-opacity="0.000"/><stop offset="1.000" stop-color="#000" stop-opacity="0.000"/></linearGradient>
<linearGradient id="gt47" x1="0" x2="0" y1="0" y2="1"><stop offset="0.000" stop-color="#000" stop-opacity="0.041"/><stop offset="0.480" stop-color="#000" stop-opacity="0.076"/><stop offset="0.619" stop-color="#000" stop-opacity="0.139"/><stop offset="0.720" stop-color="#000" stop-opacity="0.139"/><stop offset="0.781" stop-color="#000" stop-opacity="0.080"/><stop offset="0.784" stop-color="#000" stop-opacity="0.095"/><stop offset="0.971" stop-color="#000" stop-opacity="0.000"/><stop offset="1.000" stop-color="#000" stop-opacity="0.000"/></linearGradient>
<linearGradient id="gt48" x1="0" x2="0" y1="0" y2="1"><stop offset="0.000" stop-color="#000" stop-opacity="0.041"/><stop offset="0.492" stop-color="#000" stop-opacity="0.076"/><stop offset="0.631" stop-color="#000" stop-opacity="0.140"/><stop offset="0.733" stop-color="#000" stop-opacity="0.140"/><stop offset="0.785" stop-color="#000" stop-opacity="0.081"/><stop offset="0.796" stop-color="#000" stop-opacity="0.095"/><stop offset="0.975" stop-color="#000" stop-opacity="0.000"/><stop offset="1.000" stop-color="#000" stop-opacity="0.000"/></linearGradient>
<linearGradient id="gt49" x1="0" x2="0" y1="0" y2="1"><stop offset="0.000" stop-color="#000" stop-opacity="0.042"/><stop offset="0.504" stop-color="#000" stop-opacity="0.077"/><stop offset="0.643" stop-color="#000" stop-opacity="0.144"/><stop offset="0.745" stop-color="#000" stop-opacity="0.144"/><stop offset="0.789" stop-color="#000" stop-opacity="0.083"/><stop offset="0.808" stop-color="#000" stop-opacity="0.098"/><stop offset="0.978" stop-color="#000" stop-opacity="0.000"/><stop offset="1.000" stop-color="#000" stop-opacity="0.000"/></linearGradient>
<linearGradient id="gt50" x1="0" x2="0" y1="0" y2="1"><stop offset="0.000" stop-color="#000" stop-opacity="0.041"/><stop offset="0.517" stop-color="#000" stop-opacity="0.077"/><stop offset="0.656" stop-color="#000" stop-opacity="0.144"/><stop offset="0.758" stop-color="#000" stop-opacity="0.144"/><stop offset="0.792" stop-color="#000" stop-opacity="0.083"/><stop offset="0.821" stop-color="#000" stop-opacity="0.098"/><stop offset="0.982" stop-color="#000" stop-opacity="0.000"/><stop offset="1.000" stop-color="#000" stop-opacity="0.000"/></linearGradient>
<linearGradient id="gt51" x1="0" x2="0" y1="0" y2="1"><stop offset="0.000" stop-color="#000" stop-opacity="0.042"/><stop offset="0.527" stop-color="#000" stop-opacity="0.078"/><stop offset="0.666" stop-color="#000" stop-opacity="0.146"/><stop offset="0.767" stop-color="#000" stop-opacity="0.146"/><stop offset="0.796" stop-color="#000" stop-opacity="0.084"/><stop offset="0.831" stop-color="#000" stop-opacity="0.099"/><stop offset="0.986" stop-color="#000" stop-opacity="0.000"/><stop offset="1.000" stop-color="#000" stop-opacity="0.000"/></linearGradient>
<linearGradient id="gt52" x1="0" x2="0" y1="0" y2="1"><stop offset="0.000" stop-color="#000" stop-opacity="0.041"/><stop offset="0.534" stop-color="#000" stop-opacity="0.078"/><stop offset="0.673" stop-color="#000" stop-opacity="0.147"/><stop offset="0.774" stop-color="#000" stop-opacity="0.147"/><stop offset="0.800" stop-color="#000" stop-opacity="0.085"/><stop offset="0.838" stop-color="#000" stop-opacity="0.100"/><stop offset="0.990" stop-color="#000" stop-opacity="0.000"/><stop offset="1.000" stop-color="#000" stop-opacity="0.000"/></linearGradient>
<linearGradient id="gt53" x1="0" x2="0" y1="0" y2="1"><stop offset="0.000" stop-color="#000" stop-opacity="0.041"/><stop offset="0.544" stop-color="#000" stop-opacity="0.079"/><stop offset="0.683" stop-color="#000" stop-opacity="0.149"/><stop offset="0.785" stop-color="#000" stop-opacity="0.149"/><stop offset="0.804" stop-color="#000" stop-opacity="0.086"/><stop offset="0.848" stop-color="#000" stop-opacity="0.101"/><stop offset="0.994" stop-color="#000" stop-opacity="0.000"/><stop offset="1.000" stop-color="#000" stop-opacity="0.000"/></linearGradient>
<linearGradient id="gt54" x1="0" x2="0" y1="0" y2="1"><stop offset="0.000" stop-color="#000" stop-opacity="0.040"/><stop offset="0.557" stop-color="#000" stop-opacity="0.078"/><stop offset="0.696" stop-color="#000" stop-opacity="0.147"/><stop offset="0.798" stop-color="#000" stop-opacity="0.147"/><stop offset="0.808" stop-color="#000" stop-opacity="0.085"/><stop offset="0.861" stop-color="#000" stop-opacity="0.100"/><stop offset="0.997" stop-color="#000" stop-opacity="0.000"/><stop offset="1.000" stop-color="#000" stop-opacity="0.000"/></linearGradient>
<linearGradient id="gt55" x1="0" x2="0" y1="0" y2="1"><stop offset="0.000" stop-color="#000" stop-opacity="0.038"/><stop offset="0.567" stop-color="#000" stop-opacity="0.074"/><stop offset="0.706" stop-color="#000" stop-opacity="0.141"/><stop offset="0.808" stop-color="#000" stop-opacity="0.141"/><stop offset="0.811" stop-color="#000" stop-opacity="0.081"/><stop offset="0.871" stop-color="#000" stop-opacity="0.096"/><stop offset="1.000" stop-color="#000" stop-opacity="0.000"/><stop offset="1.000" stop-color="#000" stop-opacity="0.000"/></linearGradient>
<linearGradient id="gt56" x1="0" x2="0" y1="0" y2="1"><stop offset="0.000" stop-color="#000" stop-opacity="0.039"/><stop offset="0.578" stop-color="#000" stop-opacity="0.076"/><stop offset="0.717" stop-color="#000" stop-opacity="0.144"/><stop offset="0.815" stop-color="#000" stop-opacity="0.083"/><stop offset="0.818" stop-color="#000" stop-opacity="0.144"/><stop offset="0.882" stop-color="#000" stop-opacity="0.098"/><stop offset="1.000" stop-color="#000" stop-opacity="0.000"/><stop offset="1.000" stop-color="#000" stop-opacity="0.000"/></linearGradient>
<linearGradient id="gt57" x1="0" x2="0" y1="0" y2="1"><stop offset="0.000" stop-color="#000" stop-opacity="0.039"/><stop offset="0.588" stop-color="#000" stop-opacity="0.077"/><stop offset="0.727" stop-color="#000" stop-opacity="0.146"/><stop offset="0.819" stop-color="#000" stop-opacity="0.084"/><stop offset="0.829" stop-color="#000" stop-opacity="0.146"/><stop offset="0.892" stop-color="#000" stop-opacity="0.099"/><stop offset="1.000" stop-color="#000" stop-opacity="0.000"/><stop offset="1.000" stop-color="#000" stop-opacity="0.000"/></linearGradient>
<linearGradient id="gt58" x1="0" x2="0" y1="0" y2="1"><stop offset="0.000" stop-color="#000" stop-opacity="0.039"/><stop offset="0.593" stop-color="#000" stop-opacity="0.077"/><stop offset="0.732" stop-color="#000" stop-opacity="0.147"/><stop offset="0.823" stop-color="#000" stop-opacity="0.085"/><stop offset="0.834" stop-color="#000" stop-opacity="0.147"/><stop offset="0.897" stop-color="#000" stop-opacity="0.100"/><stop offset="1.000" stop-color="#000" stop-opacity="0.000"/><stop offset="1.000" stop-color="#000" stop-opacity="0.000"/></linearGradient>
<linearGradient id="gt59" x1="0" x2="0" y1="0" y2="1"><stop offset="0.000" stop-color="#000" stop-opacity="0.038"/><stop offset="0.598" stop-color="#000" stop-opacity="0.075"/><stop offset="0.737" stop-color="#000" stop-opacity="0.145"/><stop offset="0.827" stop-color="#000" stop-opacity="0.084"/><stop offset="0.838" stop-color="#000" stop-opacity="0.145"/><stop offset="0.901" stop-color="#000" stop-opacity="0.098"/><stop offset="1.000" stop-color="#000" stop-opacity="0.000"/><stop offset="1.000" stop-color="#000" stop-opacity="0.000"/></linearGradient>
<linearGradient id="gt60" x1="0" x2="0" y1="0" y2="1"><stop offset="0.000" stop-color="#000" stop-opacity="0.037"/><stop offset="0.606" stop-color="#000" stop-opacity="0.075"/><stop offset="0.745" stop-color="#000" stop-opacity="0.145"/><stop offset="0.830" stop-color="#000" stop-opacity="0.084"/><stop offset="0.846" stop-color="#000" stop-opacity="0.145"/><stop offset="0.909" stop-color="#000" stop-opacity="0.098"/><stop offset="1.000" stop-color="#000" stop-opacity="0.000"/><stop offset="1.000" stop-color="#000" stop-opacity="0.000"/></linearGradient>
<linearGradient id="gt61" x1="0" x2="0" y1="0" y2="1"><stop offset="0.000" stop-color="#000" stop-opacity="0.036"/><stop offset="0.615" stop-color="#000" stop-opacity="0.072"/><stop offset="0.754" stop-color="#000" stop-opacity="0.140"/><stop offset="0.834" stop-color="#000" stop-opacity="0.081"/><stop offset="0.855" stop-color="#000" stop-opacity="0.140"/><stop offset="0.919" stop-color="#000" stop-opacity="0.095"/><stop offset="1.000" stop-color="#000" stop-opacity="0.000"/><stop offset="1.000" stop-color="#000" stop-opacity="0.000"/></linearGradient>
<linearGradient id="gt62" x1="0" x2="0" y1="0" y2="1"><stop offset="0.000" stop-color="#000" stop-opacity="0.036"/><stop offset="0.627" stop-color="#000" stop-opacity="0.074"/><stop offset="0.766" stop-color="#000" stop-opacity="0.143"/><stop offset="0.838" stop-color="#000" stop-opacity="0.083"/><stop offset="0.868" stop-color="#000" stop-opacity="0.143"/><stop offset="0.931" stop-color="#000" stop-opacity="0.097"/><stop offset="1.000" stop-color="#000" stop-opacity="0.000"/><stop offset="1.000" stop-color="#000" stop-opacity="0.000"/></linearGradient>
<linearGradient id="gt63" x1="0" x2="0" y1="0" y2="1"><stop offset="0.000" stop-color="#000" stop-opacity="0.036"/><stop offset="0.644" stop-color="#000" stop-opacity="0.073"/><stop offset="0.783" stop-color="#000" stop-opacity="0.143"/><stop offset="0.842" stop-color="#000" stop-opacity="0.082"/><stop offset="0.885" stop-color="#000" stop-opacity="0.143"/><stop offset="0.948" stop-color="#000" stop-opacity="0.097"/><stop offset="1.000" stop-color="#000" stop-opacity="0.000"/><stop offset="1.000" stop-color="#000" stop-opacity="0.000"/></linearGradient>
<linearGradient id="gt64" x1="0" x2="0" y1="0" y2="1"><stop offset="0.000" stop-color="#000" stop-opacity="0.035"/><stop offset="0.658" stop-color="#000" stop-opacity="0.072"/><stop offset="0.798" stop-color="#000" stop-opacity="0.140"/><stop offset="0.844" stop-color="#000" stop-opacity="0.081"/><stop offset="0.899" stop-color="#000" stop-opacity="0.140"/><stop offset="0.962" stop-color="#000" stop-opacity="0.095"/><stop offset="1.000" stop-color="#000" stop-opacity="0.000"/><stop offset="1.000" stop-color="#000" stop-opacity="0.000"/></linearGradient>
<linearGradient id="gt65" x1="0" x2="0" y1="0" y2="1"><stop offset="0.000" stop-color="#000" stop-opacity="0.034"/><stop offset="0.669" stop-color="#000" stop-opacity="0.070"/><stop offset="0.808" stop-color="#000" stop-opacity="0.136"/><stop offset="0.846" stop-color="#000" stop-opacity="0.078"/><stop offset="0.909" stop-color="#000" stop-opacity="0.136"/><stop offset="0.972" stop-color="#000" stop-opacity="0.092"/><stop offset="1.000" stop-color="#000" stop-opacity="0.000"/><stop offset="1.000" stop-color="#000" stop-opacity="0.000"/></linearGradient>
<linearGradient id="gt66" x1="0" x2="0" y1="0" y2="1"><stop offset="0.000" stop-color="#000" stop-opacity="0.035"/><stop offset="0.676" stop-color="#000" stop-opacity="0.072"/><stop offset="0.815" stop-color="#000" stop-opacity="0.141"/><stop offset="0.849" stop-color="#000" stop-opacity="0.081"/><stop offset="0.916" stop-color="#000" stop-opacity="0.141"/><stop offset="0.980" stop-color="#000" stop-opacity="0.095"/><stop offset="1.000" stop-color="#000" stop-opacity="0.000"/><stop offset="1.000" stop-color="#000" stop-opacity="0.000"/></linearGradient>
<linearGradient id="gt67" x1="0" x2="0" y1="0" y2="1"><stop offset="0.000" stop-color="#000" stop-opacity="0.036"/><stop offset="0.681" stop-color="#000" stop-opacity="0.074"/><stop offset="0.820" stop-color="#000" stop-opacity="0.145"/><stop offset="0.851" stop-color="#000" stop-opacity="0.084"/><stop offset="0.921" stop-color="#000" stop-opacity="0.145"/><stop offset="0.985" stop-color="#000" stop-opacity="0.098"/><stop offset="1.000" stop-color="#000" stop-opacity="0.000"/><stop offset="1.000" stop-color="#000" stop-opacity="0.000"/></linearGradient>
<linearGradient id="gt68" x1="0" x2="0" y1="0" y2="1"><stop offset="0.000" stop-color="#000" stop-opacity="0.035"/><stop offset="0.683" stop-color="#000" stop-opacity="0.071"/><stop offset="0.822" stop-color="#000" stop-opacity="0.139"/><stop offset="0.853" stop-color="#000" stop-opacity="0.080"/><stop offset="0.924" stop-color="#000" stop-opacity="0.139"/><stop offset="0.987" stop-color="#000" stop-opacity="0.094"/><stop offset="1.000" stop-color="#000" stop-opacity="0.000"/><stop offset="1.000" stop-color="#000" stop-opacity="0.000"/></linearGradient>
<linearGradient id="gt69" x1="0" x2="0" y1="0" y2="1"><stop offset="0.000" stop-color="#000" stop-opacity="0.036"/><stop offset="0.686" stop-color="#000" stop-opacity="0.073"/><stop offset="0.825" stop-color="#000" stop-opacity="0.142"/><stop offset="0.856" stop-color="#000" stop-opacity="0.082"/><stop offset="0.926" stop-color="#000" stop-opacity="0.142"/><stop offset="0.989" stop-color="#000" stop-opacity="0.096"/><stop offset="1.000" stop-color="#000" stop-opacity="0.000"/><stop offset="1.000" stop-color="#000" stop-opacity="0.000"/></linearGradient>
<linearGradient id="gt70" x1="0" x2="0" y1="0" y2="1"><stop offset="0.000" stop-color="#000" stop-opacity="0.035"/><stop offset="0.689" stop-color="#000" stop-opacity="0.072"/><stop offset="0.829" stop-color="#000" stop-opacity="0.141"/><stop offset="0.858" stop-color="#000" stop-opacity="0.081"/><stop offset="0.930" stop-color="#000" stop-opacity="0.141"/><stop offset="0.993" stop-color="#000" stop-opacity="0.095"/><stop offset="1.000" stop-color="#000" stop-opacity="0.000"/><stop offset="1.000" stop-color="#000" stop-opacity="0.000"/></linearGradient>
<linearGradient id="gt71" x1="0" x2="0" y1="0" y2="1"><stop offset="0.000" stop-color="#000" stop-opacity="0.034"/><stop offset="0.692" stop-color="#000" stop-opacity="0.070"/><stop offset="0.831" stop-color="#000" stop-opacity="0.137"/><stop offset="0.860" stop-color="#000" stop-opacity="0.079"/><stop offset="0.933" stop-color="#000" stop-opacity="0.137"/><stop offset="0.996" stop-color="#000" stop-opacity="0.093"/><stop offset="1.000" stop-color="#000" stop-opacity="0.000"/><stop offset="1.000" stop-color="#000" stop-opacity="0.000"/></linearGradient>
<linearGradient id="gt72" x1="0" x2="0" y1="0" y2="1"><stop offset="0.000" stop-color="#000" stop-opacity="0.034"/><stop offset="0.693" stop-color="#000" stop-opacity="0.070"/><stop offset="0.833" stop-color="#000" stop-opacity="0.136"/><stop offset="0.862" stop-color="#000" stop-opacity="0.079"/><stop offset="0.934" stop-color="#000" stop-opacity="0.136"/><stop offset="0.997" stop-color="#000" stop-opacity="0.093"/><stop offset="1.000" stop-color="#000" stop-opacity="0.000"/><stop offset="1.000" stop-color="#000" stop-opacity="0.000"/></linearGradient>
<linearGradient id="gt73" x1="0" x2="0" y1="0" y2="1"><stop offset="0.000" stop-color="#000" stop-opacity="0.035"/><stop offset="0.696" stop-color="#000" stop-opacity="0.072"/><stop offset="0.835" stop-color="#000" stop-opacity="0.140"/><stop offset="0.865" stop-color="#000" stop-opacity="0.081"/><stop offset="0.936" stop-color="#000" stop-opacity="0.140"/><stop offset="1.000" stop-color="#000" stop-opacity="0.095"/><stop offset="1.000" stop-color="#000" stop-opacity="0.000"/><stop offset="1.000" stop-color="#000" stop-opacity="0.000"/></linearGradient>
<linearGradient id="gt74" x1="0" x2="0" y1="0" y2="1"><stop offset="0.000" stop-color="#000" stop-opacity="0.036"/><stop offset="0.699" stop-color="#000" stop-opacity="0.074"/><stop offset="0.838" stop-color="#000" stop-opacity="0.144"/><stop offset="0.867" stop-color="#000" stop-opacity="0.083"/><stop offset="0.939" stop-color="#000" stop-opacity="0.144"/><stop offset="1.000" stop-color="#000" stop-opacity="0.000"/><stop offset="1.000" stop-color="#000" stop-opacity="0.000"/><stop offset="1.000" stop-color="#000" stop-opacity="0.097"/></linearGradient>
<linearGradient id="gt75" x1="0" x2="0" y1="0" y2="1"><stop offset="0.000" stop-color="#000" stop-opacity="0.035"/><stop offset="0.700" stop-color="#000" stop-opacity="0.071"/><stop offset="0.840" stop-color="#000" stop-opacity="0.138"/><stop offset="0.869" stop-color="#000" stop-opacity="0.080"/><stop offset="0.941" stop-color="#000" stop-opacity="0.138"/><stop offset="1.000" stop-color="#000" stop-opacity="0.000"/><stop offset="1.000" stop-color="#000" stop-opacity="0.000"/><stop offset="1.000" stop-color="#000" stop-opacity="0.094"/></linearGradient>
<linearGradient id="gt76" x1="0" x2="0" y1="0" y2="1"><stop offset="0.000" stop-color="#000" stop-opacity="0.035"/><stop offset="0.704" stop-color="#000" stop-opacity="0.072"/><stop offset="0.843" stop-color="#000" stop-opacity="0.140"/><stop offset="0.872" stop-color="#000" stop-opacity="0.081"/><stop offset="0.945" stop-color="#000" stop-opacity="0.140"/><stop offset="1.000" stop-color="#000" stop-opacity="0.000"/><stop offset="1.000" stop-color="#000" stop-opacity="0.000"/><stop offset="1.000" stop-color="#000" stop-opacity="0.095"/></linearGradient>
<linearGradient id="gt77" x1="0" x2="0" y1="0" y2="1"><stop offset="0.000" stop-color="#000" stop-opacity="0.034"/><stop offset="0.709" stop-color="#000" stop-opacity="0.070"/><stop offset="0.849" stop-color="#000" stop-opacity="0.136"/><stop offset="0.874" stop-color="#000" stop-opacity="0.078"/><stop offset="0.950" stop-color="#000" stop-opacity="0.136"/><stop offset="1.000" stop-color="#000" stop-opacity="0.000"/><stop offset="1.000" stop-color="#000" stop-opacity="0.000"/><stop offset="1.000" stop-color="#000" stop-opacity="0.092"/></linearGradient>
<linearGradient id="gt78" x1="0" x2="0" y1="0" y2="1"><stop offset="0.000" stop-color="#000" stop-opacity="0.035"/><stop offset="0.713" stop-color="#000" stop-opacity="0.071"/><stop offset="0.852" stop-color="#000" stop-opacity="0.139"/><stop offset="0.876" stop-color="#000" stop-opacity="0.080"/><stop offset="0.953" stop-color="#000" stop-opacity="0.139"/><stop offset="1.000" stop-color="#000" stop-opacity="0.000"/><stop offset="1.000" stop-color="#000" stop-opacity="0.000"/><stop offset="1.000" stop-color="#000" stop-opacity="0.095"/></linearGradient>
<linearGradient id="gt79" x1="0" x2="0" y1="0" y2="1"><stop offset="0.000" stop-color="#000" stop-opacity="0.035"/><stop offset="0.714" stop-color="#000" stop-opacity="0.071"/><stop offset="0.853" stop-color="#000" stop-opacity="0.138"/><stop offset="0.879" stop-color="#000" stop-opacity="0.080"/><stop offset="0.954" stop-color="#000" stop-opacity="0.138"/><stop offset="1.000" stop-color="#000" stop-opacity="0.000"/><stop offset="1.000" stop-color="#000" stop-opacity="0.000"/><stop offset="1.000" stop-color="#000" stop-opacity="0.094"/></linearGradient>
<linearGradient id="gm0" x1="0" x2="0" y1="0" y2="1"><stop offset="0.000" stop-color="#D23C3C" stop-opacity="0.332"/><stop offset="0.211" stop-color="#D23C3C" stop-opacity="0.420"/><stop offset="0.355" stop-color="#D23C3C" stop-opacity="0.585"/><stop offset="0.461" stop-color="#D23C3C" stop-opacity="0.585"/><stop offset="0.527" stop-color="#D23C3C" stop-opacity="0.403"/><stop offset="0.615" stop-color="#D23C3C" stop-opacity="0.343"/><stop offset="0.707" stop-color="#D23C3C" stop-opacity="0.000"/><stop offset="1.000" stop-color="#D23C3C" stop-opacity="0.000"/></linearGradient>
<linearGradient id="gm1" x1="0" x2="0" y1="0" y2="1"><stop offset="0.000" stop-color="#D23C3C" stop-opacity="0.335"/><stop offset="0.227" stop-color="#D23C3C" stop-opacity="0.425"/><stop offset="0.372" stop-color="#D23C3C" stop-opacity="0.592"/><stop offset="0.477" stop-color="#D23C3C" stop-opacity="0.592"/><stop offset="0.543" stop-color="#D23C3C" stop-opacity="0.408"/><stop offset="0.622" stop-color="#D23C3C" stop-opacity="0.347"/><stop offset="0.714" stop-color="#D23C3C" stop-opacity="0.000"/><stop offset="1.000" stop-color="#D23C3C" stop-opacity="0.000"/></linearGradient>
<linearGradient id="gm2" x1="0" x2="0" y1="0" y2="1"><stop offset="0.000" stop-color="#D23C3C" stop-opacity="0.337"/><stop offset="0.240" stop-color="#D23C3C" stop-opacity="0.429"/><stop offset="0.385" stop-color="#D23C3C" stop-opacity="0.598"/><stop offset="0.490" stop-color="#D23C3C" stop-opacity="0.598"/><stop offset="0.556" stop-color="#D23C3C" stop-opacity="0.412"/><stop offset="0.629" stop-color="#D23C3C" stop-opacity="0.351"/><stop offset="0.721" stop-color="#D23C3C" stop-opacity="0.000"/><stop offset="1.000" stop-color="#D23C3C" stop-opacity="0.000"/></linearGradient>
<linearGradient id="gm3" x1="0" x2="0" y1="0" y2="1"><stop offset="0.000" stop-color="#D23C3C" stop-opacity="0.341"/><stop offset="0.255" stop-color="#D23C3C" stop-opacity="0.434"/><stop offset="0.400" stop-color="#D23C3C" stop-opacity="0.607"/><stop offset="0.505" stop-color="#D23C3C" stop-opacity="0.607"/><stop offset="0.571" stop-color="#D23C3C" stop-opacity="0.419"/><stop offset="0.636" stop-color="#D23C3C" stop-opacity="0.356"/><stop offset="0.729" stop-color="#D23C3C" stop-opacity="0.000"/><stop offset="1.000" stop-color="#D23C3C" stop-opacity="0.000"/></linearGradient>
<linearGradient id="gm4" x1="0" x2="0" y1="0" y2="1"><stop offset="0.000" stop-color="#D23C3C" stop-opacity="0.339"/><stop offset="0.267" stop-color="#D23C3C" stop-opacity="0.432"/><stop offset="0.412" stop-color="#D23C3C" stop-opacity="0.605"/><stop offset="0.517" stop-color="#D23C3C" stop-opacity="0.605"/><stop offset="0.583" stop-color="#D23C3C" stop-opacity="0.417"/><stop offset="0.643" stop-color="#D23C3C" stop-opacity="0.355"/><stop offset="0.736" stop-color="#D23C3C" stop-opacity="0.000"/><stop offset="1.000" stop-color="#D23C3C" stop-opacity="0.000"/></linearGradient>
<linearGradient id="gm5" x1="0" x2="0" y1="0" y2="1"><stop offset="0.000" stop-color="#D23C3C" stop-opacity="0.341"/><stop offset="0.275" stop-color="#D23C3C" stop-opacity="0.436"/><stop offset="0.419" stop-color="#D23C3C" stop-opacity="0.611"/><stop offset="0.525" stop-color="#D23C3C" stop-opacity="0.611"/><stop offset="0.590" stop-color="#D23C3C" stop-opacity="0.421"/><stop offset="0.650" stop-color="#D23C3C" stop-opacity="0.358"/><stop offset="0.743" stop-color="#D23C3C" stop-opacity="0.000"/><stop offset="1.000" stop-color="#D23C3C" stop-opacity="0.000"/></linearGradient>
<linearGradient id="gm6" x1="0" x2="0" y1="0" y2="1"><stop offset="0.000" stop-color="#D23C3C" stop-opacity="0.323"/><stop offset="0.292" stop-color="#D23C3C" stop-opacity="0.414"/><stop offset="0.437" stop-color="#D23C3C" stop-opacity="0.581"/><stop offset="0.542" stop-color="#D23C3C" stop-opacity="0.581"/><stop offset="0.608" stop-color="#D23C3C" stop-opacity="0.401"/><stop offset="0.657" stop-color="#D23C3C" stop-opacity="0.341"/><stop offset="0.750" stop-color="#D23C3C" stop-opacity="0.000"/><stop offset="1.000" stop-color="#D23C3C" stop-opacity="0.000"/></linearGradient>
<linearGradient id="gm7" x1="0" x2="0" y1="0" y2="1"><stop offset="0.000" stop-color="#D23C3C" stop-opacity="0.321"/><stop offset="0.316" stop-color="#D23C3C" stop-opacity="0.412"/><stop offset="0.461" stop-color="#D23C3C" stop-opacity="0.579"/><stop offset="0.566" stop-color="#D23C3C" stop-opacity="0.579"/><stop offset="0.632" stop-color="#D23C3C" stop-opacity="0.400"/><stop offset="0.664" stop-color="#D23C3C" stop-opacity="0.340"/><stop offset="0.757" stop-color="#D23C3C" stop-opacity="0.000"/><stop offset="1.000" stop-color="#D23C3C" stop-opacity="0.000"/></linearGradient>
<linearGradient id="gm8" x1="0" x2="0" y1="0" y2="1"><stop offset="0.000" stop-color="#D23C3C" stop-opacity="0.330"/><stop offset="0.339" stop-color="#D23C3C" stop-opacity="0.423"/><stop offset="0.484" stop-color="#D23C3C" stop-opacity="0.596"/><stop offset="0.589" stop-color="#D23C3C" stop-opacity="0.596"/><stop offset="0.655" stop-color="#D23C3C" stop-opacity="0.411"/><stop offset="0.670" stop-color="#D23C3C" stop-opacity="0.349"/><stop offset="0.763" stop-color="#D23C3C" stop-opacity="0.000"/><stop offset="1.000" stop-color="#D23C3C" stop-opacity="0.000"/></linearGradient>
<linearGradient id="gm9" x1="0" x2="0" y1="0" y2="1"><stop offset="0.000" stop-color="#D23C3C" stop-opacity="0.328"/><stop offset="0.361" stop-color="#D23C3C" stop-opacity="0.422"/><stop offset="0.506" stop-color="#D23C3C" stop-opacity="0.595"/><stop offset="0.611" stop-color="#D23C3C" stop-opacity="0.595"/><stop offset="0.676" stop-color="#D23C3C" stop-opacity="0.349"/><stop offset="0.677" stop-color="#D23C3C" stop-opacity="0.410"/><stop offset="0.768" stop-color="#D23C3C" stop-opacity="0.000"/><stop offset="1.000" stop-color="#D23C3C" stop-opacity="0.000"/></linearGradient>
<linearGradient id="gm10" x1="0" x2="0" y1="0" y2="1"><stop offset="0.000" stop-color="#D23C3C" stop-opacity="0.332"/><stop offset="0.375" stop-color="#D23C3C" stop-opacity="0.427"/><stop offset="0.520" stop-color="#D23C3C" stop-opacity="0.604"/><stop offset="0.625" stop-color="#D23C3C" stop-opacity="0.604"/><stop offset="0.682" stop-color="#D23C3C" stop-opacity="0.354"/><stop offset="0.691" stop-color="#D23C3C" stop-opacity="0.417"/><stop offset="0.774" stop-color="#D23C3C" stop-opacity="0.000"/><stop offset="1.000" stop-color="#D23C3C" stop-opacity="0.000"/></linearGradient>
<linearGradient id="gm11" x1="0" x2="0" y1="0" y2="1"><stop offset="0.000" stop-color="#D23C3C" stop-opacity="0.317"/><stop offset="0.377" stop-color="#D23C3C" stop-opacity="0.409"/><stop offset="0.522" stop-color="#D23C3C" stop-opacity="0.580"/><stop offset="0.627" stop-color="#D23C3C" stop-opacity="0.580"/><stop offset="0.688" stop-color="#D23C3C" stop-opacity="0.340"/><stop offset="0.693" stop-color="#D23C3C" stop-opacity="0.400"/><stop offset="0.780" stop-color="#D23C3C" stop-opacity="0.000"/><stop offset="1.000" stop-color="#D23C3C" stop-opacity="0.000"/></linearGradient>
<linearGradient id="gm12" x1="0" x2="0" y1="0" y2="1"><stop offset="0.000" stop-color="#D23C3C" stop-opacity="0.316"/><stop offset="0.375" stop-color="#D23C3C" stop-opacity="0.408"/><stop offset="0.520" stop-color="#D23C3C" stop-opacity="0.579"/><stop offset="0.625" stop-color="#D23C3C" stop-opacity="0.579"/><stop offset="0.691" stop-color="#D23C3C" stop-opacity="0.399"/><stop offset="0.694" stop-color="#D23C3C" stop-opacity="0.339"/><stop offset="0.786" stop-color="#D23C3C" stop-opacity="0.000"/><stop offset="1.000" stop-color="#D23C3C" stop-opacity="0.000"/></linearGradient>
<linearGradient id="gm13" x1="0" x2="0" y1="0" y2="1"><stop offset="0.000" stop-color="#D23C3C" stop-opacity="0.310"/><stop offset="0.373" stop-color="#D23C3C" stop-opacity="0.401"/><stop offset="0.517" stop-color="#D23C3C" stop-opacity="0.570"/><stop offset="0.623" stop-color="#D23C3C" stop-opacity="0.570"/><stop offset="0.688" stop-color="#D23C3C" stop-opacity="0.393"/><stop offset="0.700" stop-color="#D23C3C" stop-opacity="0.334"/><stop offset="0.792" stop-color="#D23C3C" stop-opacity="0.000"/><stop offset="1.000" stop-color="#D23C3C" stop-opacity="0.000"/></linearGradient>
<linearGradient id="gm14" x1="0" x2="0" y1="0" y2="1"><stop offset="0.000" stop-color="#D23C3C" stop-opacity="0.312"/><stop offset="0.372" stop-color="#D23C3C" stop-opacity="0.404"/><stop offset="0.517" stop-color="#D23C3C" stop-opacity="0.576"/><stop offset="0.622" stop-color="#D23C3C" stop-opacity="0.576"/><stop offset="0.688" stop-color="#D23C3C" stop-opacity="0.397"/><stop offset="0.706" stop-color="#D23C3C" stop-opacity="0.337"/><stop offset="0.798" stop-color="#D23C3C" stop-opacity="0.000"/><stop offset="1.000" stop-color="#D23C3C" stop-opacity="0.000"/></linearGradient>
<linearGradient id="gm15" x1="0" x2="0" y1="0" y2="1"><stop offset="0.000" stop-color="#D23C3C" stop-opacity="0.313"/><stop offset="0.374" stop-color="#D23C3C" stop-opacity="0.407"/><stop offset="0.518" stop-color="#D23C3C" stop-opacity="0.580"/><stop offset="0.624" stop-color="#D23C3C" stop-opacity="0.580"/><stop offset="0.690" stop-color="#D23C3C" stop-opacity="0.400"/><stop offset="0.712" stop-color="#D23C3C" stop-opacity="0.340"/><stop offset="0.804" stop-color="#D23C3C" stop-opacity="0.000"/><stop offset="1.000" stop-color="#D23C3C" stop-opacity="0.000"/></linearGradient>
<linearGradient id="gm16" x1="0" x2="0" y1="0" y2="1"><stop offset="0.000" stop-color="#D23C3C" stop-opacity="0.302"/><stop offset="0.368" stop-color="#D23C3C" stop-opacity="0.393"/><stop offset="0.512" stop-color="#D23C3C" stop-opacity="0.562"/><stop offset="0.618" stop-color="#D23C3C" stop-opacity="0.562"/><stop offset="0.683" stop-color="#D23C3C" stop-opacity="0.388"/><stop offset="0.718" stop-color="#D23C3C" stop-opacity="0.329"/><stop offset="0.810" stop-color="#D23C3C" stop-opacity="0.000"/><stop offset="1.000" stop-color="#D23C3C" stop-opacity="0.000"/></linearGradient>
<linearGradient id="gm17" x1="0" x2="0" y1="0" y2="1"><stop offset="0.000" stop-color="#D23C3C" stop-opacity="0.299"/><stop offset="0.353" stop-color="#D23C3C" stop-opacity="0.390"/><stop offset="0.498" stop-color="#D23C3C" stop-opacity="0.559"/><stop offset="0.603" stop-color="#D23C3C" stop-opacity="0.559"/><stop offset="0.669" stop-color="#D23C3C" stop-opacity="0.385"/><stop offset="0.724" stop-color="#D23C3C" stop-opacity="0.327"/><stop offset="0.816" stop-color="#D23C3C" stop-opacity="0.000"/><stop offset="1.000" stop-color="#D23C3C" stop-opacity="0.000"/></linearGradient>
<linearGradient id="gm18" x1="0" x2="0" y1="0" y2="1"><stop offset="0.000" stop-color="#D23C3C" stop-opacity="0.299"/><stop offset="0.353" stop-color="#D23C3C" stop-opacity="0.390"/><stop offset="0.498" stop-color="#D23C3C" stop-opacity="0.559"/><stop offset="0.603" stop-color="#D23C3C" stop-opacity="0.559"/><stop offset="0.669" stop-color="#D23C3C" stop-opacity="0.386"/><stop offset="0.728" stop-color="#D23C3C" stop-opacity="0.328"/><stop offset="0.820" stop-color="#D23C3C" stop-opacity="0.000"/><stop offset="1.000" stop-color="#D23C3C" stop-opacity="0.000"/></linearGradient>
<linearGradient id="gm19" x1="0" x2="0" y1="0" y2="1"><stop offset="0.000" stop-color="#D23C3C" stop-opacity="0.310"/><stop offset="0.356" stop-color="#D23C3C" stop-opacity="0.406"/><stop offset="0.501" stop-color="#D23C3C" stop-opacity="0.583"/><stop offset="0.606" stop-color="#D23C3C" stop-opacity="0.583"/><stop offset="0.672" stop-color="#D23C3C" stop-opacity="0.402"/><stop offset="0.733" stop-color="#D23C3C" stop-opacity="0.342"/><stop offset="0.825" stop-color="#D23C3C" stop-opacity="0.000"/><stop offset="1.000" stop-color="#D23C3C" stop-opacity="0.000"/></linearGradient>
<linearGradient id="gm20" x1="0" x2="0" y1="0" y2="1"><stop offset="0.000" stop-color="#D23C3C" stop-opacity="0.314"/><stop offset="0.358" stop-color="#D23C3C" stop-opacity="0.411"/><stop offset="0.503" stop-color="#D23C3C" stop-opacity="0.592"/><stop offset="0.608" stop-color="#D23C3C" stop-opacity="0.592"/><stop offset="0.674" stop-color="#D23C3C" stop-opacity="0.408"/><stop offset="0.738" stop-color="#D23C3C" stop-opacity="0.347"/><stop offset="0.830" stop-color="#D23C3C" stop-opacity="0.000"/><stop offset="1.000" stop-color="#D23C3C" stop-opacity="0.000"/></linearGradient>
<linearGradient id="gm21" x1="0" x2="0" y1="0" y2="1"><stop offset="0.000" stop-color="#D23C3C" stop-opacity="0.304"/><stop offset="0.369" stop-color="#D23C3C" stop-opacity="0.398"/><stop offset="0.514" stop-color="#D23C3C" stop-opacity="0.574"/><stop offset="0.619" stop-color="#D23C3C" stop-opacity="0.574"/><stop offset="0.685" stop-color="#D23C3C" stop-opacity="0.396"/><stop offset="0.742" stop-color="#D23C3C" stop-opacity="0.337"/><stop offset="0.834" stop-color="#D23C3C" stop-opacity="0.000"/><stop offset="1.000" stop-color="#D23C3C" stop-opacity="0.000"/></linearGradient>
<linearGradient id="gm22" x1="0" x2="0" y1="0" y2="1"><stop offset="0.000" stop-color="#D23C3C" stop-opacity="0.309"/><stop offset="0.393" stop-color="#D23C3C" stop-opacity="0.407"/><stop offset="0.537" stop-color="#D23C3C" stop-opacity="0.588"/><stop offset="0.643" stop-color="#D23C3C" stop-opacity="0.588"/><stop offset="0.708" stop-color="#D23C3C" stop-opacity="0.405"/><stop offset="0.747" stop-color="#D23C3C" stop-opacity="0.344"/><stop offset="0.839" stop-color="#D23C3C" stop-opacity="0.000"/><stop offset="1.000" stop-color="#D23C3C" stop-opacity="0.000"/></linearGradient>
<linearGradient id="gm23" x1="0" x2="0" y1="0" y2="1"><stop offset="0.000" stop-color="#D23C3C" stop-opacity="0.300"/><stop offset="0.404" stop-color="#D23C3C" stop-opacity="0.395"/><stop offset="0.548" stop-color="#D23C3C" stop-opacity="0.571"/><stop offset="0.654" stop-color="#D23C3C" stop-opacity="0.571"/><stop offset="0.720" stop-color="#D23C3C" stop-opacity="0.394"/><stop offset="0.751" stop-color="#D23C3C" stop-opacity="0.335"/><stop offset="0.843" stop-color="#D23C3C" stop-opacity="0.000"/><stop offset="1.000" stop-color="#D23C3C" stop-opacity="0.000"/></linearGradient>
<linearGradient id="gm24" x1="0" x2="0" y1="0" y2="1"><stop offset="0.000" stop-color="#D23C3C" stop-opacity="0.303"/><stop offset="0.411" stop-color="#D23C3C" stop-opacity="0.399"/><stop offset="0.555" stop-color="#D23C3C" stop-opacity="0.579"/><stop offset="0.661" stop-color="#D23C3C" stop-opacity="0.579"/><stop offset="0.726" stop-color="#D23C3C" stop-opacity="0.399"/><stop offset="0.756" stop-color="#D23C3C" stop-opacity="0.339"/><stop offset="0.848" stop-color="#D23C3C" stop-opacity="0.000"/><stop offset="1.000" stop-color="#D23C3C" stop-opacity="0.000"/></linearGradient>
<linearGradient id="gm25" x1="0" x2="0" y1="0" y2="1"><stop offset="0.000" stop-color="#D23C3C" stop-opacity="0.295"/><stop offset="0.416" stop-color="#D23C3C" stop-opacity="0.389"/><stop offset="0.560" stop-color="#D23C3C" stop-opacity="0.566"/><stop offset="0.666" stop-color="#D23C3C" stop-opacity="0.566"/><stop offset="0.731" stop-color="#D23C3C" stop-opacity="0.390"/><stop offset="0.761" stop-color="#D23C3C" stop-opacity="0.332"/><stop offset="0.853" stop-color="#D23C3C" stop-opacity="0.000"/><stop offset="1.000" stop-color="#D23C3C" stop-opacity="0.000"/></linearGradient>
<linearGradient id="gm26" x1="0" x2="0" y1="0" y2="1"><stop offset="0.000" stop-color="#D23C3C" stop-opacity="0.287"/><stop offset="0.418" stop-color="#D23C3C" stop-opacity="0.380"/><stop offset="0.563" stop-color="#D23C3C" stop-opacity="0.553"/><stop offset="0.668" stop-color="#D23C3C" stop-opacity="0.553"/><stop offset="0.734" stop-color="#D23C3C" stop-opacity="0.381"/><stop offset="0.765" stop-color="#D23C3C" stop-opacity="0.324"/><stop offset="0.857" stop-color="#D23C3C" stop-opacity="0.000"/><stop offset="1.000" stop-color="#D23C3C" stop-opacity="0.000"/></linearGradient>
<linearGradient id="gm27" x1="0" x2="0" y1="0" y2="1"><stop offset="0.000" stop-color="#D23C3C" stop-opacity="0.299"/><stop offset="0.418" stop-color="#D23C3C" stop-opacity="0.396"/><stop offset="0.562" stop-color="#D23C3C" stop-opacity="0.577"/><stop offset="0.668" stop-color="#D23C3C" stop-opacity="0.577"/><stop offset="0.733" stop-color="#D23C3C" stop-opacity="0.398"/><stop offset="0.770" stop-color="#D23C3C" stop-opacity="0.339"/><stop offset="0.862" stop-color="#D23C3C" stop-opacity="0.000"/><stop offset="1.000" stop-color="#D23C3C" stop-opacity="0.000"/></linearGradient>
<linearGradient id="gm28" x1="0" x2="0" y1="0" y2="1"><stop offset="0.000" stop-color="#D23C3C" stop-opacity="0.291"/><stop offset="0.415" stop-color="#D23C3C" stop-opacity="0.388"/><stop offset="0.559" stop-color="#D23C3C" stop-opacity="0.568"/><stop offset="0.665" stop-color="#D23C3C" stop-opacity="0.568"/><stop offset="0.730" stop-color="#D23C3C" stop-opacity="0.392"/><stop offset="0.774" stop-color="#D23C3C" stop-opacity="0.333"/><stop offset="0.866" stop-color="#D23C3C" stop-opacity="0.000"/><stop offset="1.000" stop-color="#D23C3C" stop-opacity="0.000"/></linearGradient>
<linearGradient id="gm29" x1="0" x2="0" y1="0" y2="1"><stop offset="0.000" stop-color="#D23C3C" stop-opacity="0.285"/><stop offset="0.415" stop-color="#D23C3C" stop-opacity="0.382"/><stop offset="0.560" stop-color="#D23C3C" stop-opacity="0.562"/><stop offset="0.665" stop-color="#D23C3C" stop-opacity="0.562"/><stop offset="0.731" stop-color="#D23C3C" stop-opacity="0.388"/><stop offset="0.778" stop-color="#D23C3C" stop-opacity="0.329"/><stop offset="0.870" stop-color="#D23C3C" stop-opacity="0.000"/><stop offset="1.000" stop-color="#D23C3C" stop-opacity="0.000"/></linearGradient>
<linearGradient id="gm30" x1="0" x2="0" y1="0" y2="1"><stop offset="0.000" stop-color="#D23C3C" stop-opacity="0.294"/><stop offset="0.419" stop-color="#D23C3C" stop-opacity="0.397"/><stop offset="0.564" stop-color="#D23C3C" stop-opacity="0.587"/><stop offset="0.669" stop-color="#D23C3C" stop-opacity="0.587"/><stop offset="0.735" stop-color="#D23C3C" stop-opacity="0.405"/><stop offset="0.782" stop-color="#D23C3C" stop-opacity="0.344"/><stop offset="0.874" stop-color="#D23C3C" stop-opacity="0.000"/><stop offset="1.000" stop-color="#D23C3C" stop-opacity="0.000"/></linearGradient>
<linearGradient id="gm31" x1="0" x2="0" y1="0" y2="1"><stop offset="0.000" stop-color="#D23C3C" stop-opacity="0.296"/><stop offset="0.424" stop-color="#D23C3C" stop-opacity="0.402"/><stop offset="0.569" stop-color="#D23C3C" stop-opacity="0.598"/><stop offset="0.674" stop-color="#D23C3C" stop-opacity="0.598"/><stop offset="0.740" stop-color="#D23C3C" stop-opacity="0.412"/><stop offset="0.786" stop-color="#D23C3C" stop-opacity="0.351"/><stop offset="0.878" stop-color="#D23C3C" stop-opacity="0.000"/><stop offset="1.000" stop-color="#D23C3C" stop-opacity="0.000"/></linearGradient>
<linearGradient id="gm32" x1="0" x2="0" y1="0" y2="1"><stop offset="0.000" stop-color="#D23C3C" stop-opacity="0.286"/><stop offset="0.430" stop-color="#D23C3C" stop-opacity="0.390"/><stop offset="0.574" stop-color="#D23C3C" stop-opacity="0.583"/><stop offset="0.680" stop-color="#D23C3C" stop-opacity="0.583"/><stop offset="0.746" stop-color="#D23C3C" stop-opacity="0.402"/><stop offset="0.789" stop-color="#D23C3C" stop-opacity="0.342"/><stop offset="0.882" stop-color="#D23C3C" stop-opacity="0.000"/><stop offset="1.000" stop-color="#D23C3C" stop-opacity="0.000"/></linearGradient>
<linearGradient id="gm33" x1="0" x2="0" y1="0" y2="1"><stop offset="0.000" stop-color="#D23C3C" stop-opacity="0.290"/><stop offset="0.436" stop-color="#D23C3C" stop-opacity="0.398"/><stop offset="0.581" stop-color="#D23C3C" stop-opacity="0.599"/><stop offset="0.686" stop-color="#D23C3C" stop-opacity="0.599"/><stop offset="0.752" stop-color="#D23C3C" stop-opacity="0.413"/><stop offset="0.793" stop-color="#D23C3C" stop-opacity="0.351"/><stop offset="0.886" stop-color="#D23C3C" stop-opacity="0.000"/><stop offset="1.000" stop-color="#D23C3C" stop-opacity="0.000"/></linearGradient>
<linearGradient id="gm34" x1="0" x2="0" y1="0" y2="1"><stop offset="0.000" stop-color="#D23C3C" stop-opacity="0.284"/><stop offset="0.441" stop-color="#D23C3C" stop-opacity="0.392"/><stop offset="0.586" stop-color="#D23C3C" stop-opacity="0.593"/><stop offset="0.691" stop-color="#D23C3C" stop-opacity="0.593"/><stop offset="0.757" stop-color="#D23C3C" stop-opacity="0.409"/><stop offset="0.797" stop-color="#D23C3C" stop-opacity="0.348"/><stop offset="0.889" stop-color="#D23C3C" stop-opacity="0.000"/><stop offset="1.000" stop-color="#D23C3C" stop-opacity="0.000"/></linearGradient>
<linearGradient id="gm35" x1="0" x2="0" y1="0" y2="1"><stop offset="0.000" stop-color="#D23C3C" stop-opacity="0.282"/><stop offset="0.444" stop-color="#D23C3C" stop-opacity="0.391"/><stop offset="0.588" stop-color="#D23C3C" stop-opacity="0.594"/><stop offset="0.694" stop-color="#D23C3C" stop-opacity="0.594"/><stop offset="0.759" stop-color="#D23C3C" stop-opacity="0.410"/><stop offset="0.801" stop-color="#D23C3C" stop-opacity="0.348"/><stop offset="0.893" stop-color="#D23C3C" stop-opacity="0.000"/><stop offset="1.000" stop-color="#D23C3C" stop-opacity="0.000"/></linearGradient>
<linearGradient id="gm36" x1="0" x2="0" y1="0" y2="1"><stop offset="0.000" stop-color="#D23C3C" stop-opacity="0.270"/><stop offset="0.447" stop-color="#D23C3C" stop-opacity="0.378"/><stop offset="0.592" stop-color="#D23C3C" stop-opacity="0.578"/><stop offset="0.697" stop-color="#D23C3C" stop-opacity="0.578"/><stop offset="0.763" stop-color="#D23C3C" stop-opacity="0.398"/><stop offset="0.805" stop-color="#D23C3C" stop-opacity="0.339"/><stop offset="0.897" stop-color="#D23C3C" stop-opacity="0.000"/><stop offset="1.000" stop-color="#D23C3C" stop-opacity="0.000"/></linearGradient>
<linearGradient id="gm37" x1="0" x2="0" y1="0" y2="1"><stop offset="0.000" stop-color="#D23C3C" stop-opacity="0.275"/><stop offset="0.451" stop-color="#D23C3C" stop-opacity="0.387"/><stop offset="0.595" stop-color="#D23C3C" stop-opacity="0.595"/><stop offset="0.701" stop-color="#D23C3C" stop-opacity="0.595"/><stop offset="0.767" stop-color="#D23C3C" stop-opacity="0.410"/><stop offset="0.809" stop-color="#D23C3C" stop-opacity="0.349"/><stop offset="0.901" stop-color="#D23C3C" stop-opacity="0.000"/><stop offset="1.000" stop-color="#D23C3C" stop-opacity="0.000"/></linearGradient>
<linearGradient id="gm38" x1="0" x2="0" y1="0" y2="1"><stop offset="0.000" stop-color="#D23C3C" stop-opacity="0.273"/><stop offset="0.456" stop-color="#D23C3C" stop-opacity="0.386"/><stop offset="0.601" stop-color="#D23C3C" stop-opacity="0.596"/><stop offset="0.706" stop-color="#D23C3C" stop-opacity="0.596"/><stop offset="0.772" stop-color="#D23C3C" stop-opacity="0.411"/><stop offset="0.812" stop-color="#D23C3C" stop-opacity="0.349"/><stop offset="0.904" stop-color="#D23C3C" stop-opacity="0.000"/><stop offset="1.000" stop-color="#D23C3C" stop-opacity="0.000"/></linearGradient>
<linearGradient id="gm39" x1="0" x2="0" y1="0" y2="1"><stop offset="0.000" stop-color="#D23C3C" stop-opacity="0.274"/><stop offset="0.468" stop-color="#D23C3C" stop-opacity="0.391"/><stop offset="0.613" stop-color="#D23C3C" stop-opacity="0.607"/><stop offset="0.718" stop-color="#D23C3C" stop-opacity="0.607"/><stop offset="0.784" stop-color="#D23C3C" stop-opacity="0.419"/><stop offset="0.814" stop-color="#D23C3C" stop-opacity="0.356"/><stop offset="0.907" stop-color="#D23C3C" stop-opacity="0.000"/><stop offset="1.000" stop-color="#D23C3C" stop-opacity="0.000"/></linearGradient>
<linearGradient id="gm40" x1="0" x2="0" y1="0" y2="1"><stop offset="0.000" stop-color="#D23C3C" stop-opacity="0.273"/><stop offset="0.482" stop-color="#D23C3C" stop-opacity="0.391"/><stop offset="0.627" stop-color="#D23C3C" stop-opacity="0.611"/><stop offset="0.732" stop-color="#D23C3C" stop-opacity="0.611"/><stop offset="0.798" stop-color="#D23C3C" stop-opacity="0.421"/><stop offset="0.817" stop-color="#D23C3C" stop-opacity="0.358"/><stop offset="0.909" stop-color="#D23C3C" stop-opacity="0.000"/><stop offset="1.000" stop-color="#D23C3C" stop-opacity="0.000"/></linearGradient>
<linearGradient id="gm41" x1="0" x2="0" y1="0" y2="1"><stop offset="0.000" stop-color="#D23C3C" stop-opacity="0.261"/><stop offset="0.492" stop-color="#D23C3C" stop-opacity="0.376"/><stop offset="0.636" stop-color="#D23C3C" stop-opacity="0.591"/><stop offset="0.742" stop-color="#D23C3C" stop-opacity="0.591"/><stop offset="0.807" stop-color="#D23C3C" stop-opacity="0.408"/><stop offset="0.820" stop-color="#D23C3C" stop-opacity="0.346"/><stop offset="0.912" stop-color="#D23C3C" stop-opacity="0.000"/><stop offset="1.000" stop-color="#D23C3C" stop-opacity="0.000"/></linearGradient>
<linearGradient id="gm42" x1="0" x2="0" y1="0" y2="1"><stop offset="0.000" stop-color="#D23C3C" stop-opacity="0.253"/><stop offset="0.496" stop-color="#D23C3C" stop-opacity="0.368"/><stop offset="0.640" stop-color="#D23C3C" stop-opacity="0.581"/><stop offset="0.746" stop-color="#D23C3C" stop-opacity="0.581"/><stop offset="0.811" stop-color="#D23C3C" stop-opacity="0.401"/><stop offset="0.822" stop-color="#D23C3C" stop-opacity="0.341"/><stop offset="0.914" stop-color="#D23C3C" stop-opacity="0.000"/><stop offset="1.000" stop-color="#D23C3C" stop-opacity="0.000"/></linearGradient>
<linearGradient id="gm43" x1="0" x2="0" y1="0" y2="1"><stop offset="0.000" stop-color="#D23C3C" stop-opacity="0.245"/><stop offset="0.500" stop-color="#D23C3C" stop-opacity="0.358"/><stop offset="0.645" stop-color="#D23C3C" stop-opacity="0.568"/><stop offset="0.750" stop-color="#D23C3C" stop-opacity="0.568"/><stop offset="0.816" stop-color="#D23C3C" stop-opacity="0.392"/><stop offset="0.825" stop-color="#D23C3C" stop-opacity="0.333"/><stop offset="0.917" stop-color="#D23C3C" stop-opacity="0.000"/><stop offset="1.000" stop-color="#D23C3C" stop-opacity="0.000"/></linearGradient>
<linearGradient id="gm44" x1="0" x2="0" y1="0" y2="1"><stop offset="0.000" stop-color="#D23C3C" stop-opacity="0.238"/><stop offset="0.501" stop-color="#D23C3C" stop-opacity="0.351"/><stop offset="0.646" stop-color="#D23C3C" stop-opacity="0.560"/><stop offset="0.751" stop-color="#D23C3C" stop-opacity="0.560"/><stop offset="0.817" stop-color="#D23C3C" stop-opacity="0.386"/><stop offset="0.828" stop-color="#D23C3C" stop-opacity="0.328"/><stop offset="0.920" stop-color="#D23C3C" stop-opacity="0.000"/><stop offset="1.000" stop-color="#D23C3C" stop-opacity="0.000"/></linearGradient>
<linearGradient id="gm45" x1="0" x2="0" y1="0" y2="1"><stop offset="0.000" stop-color="#D23C3C" stop-opacity="0.231"/><stop offset="0.508" stop-color="#D23C3C" stop-opacity="0.344"/><stop offset="0.653" stop-color="#D23C3C" stop-opacity="0.552"/><stop offset="0.758" stop-color="#D23C3C" stop-opacity="0.552"/><stop offset="0.824" stop-color="#D23C3C" stop-opacity="0.381"/><stop offset="0.830" stop-color="#D23C3C" stop-opacity="0.323"/><stop offset="0.922" stop-color="#D23C3C" stop-opacity="0.000"/><stop offset="1.000" stop-color="#D23C3C" stop-opacity="0.000"/></linearGradient>
<linearGradient id="gm46" x1="0" x2="0" y1="0" y2="1"><stop offset="0.000" stop-color="#D23C3C" stop-opacity="0.230"/><stop offset="0.529" stop-color="#D23C3C" stop-opacity="0.344"/><stop offset="0.673" stop-color="#D23C3C" stop-opacity="0.556"/><stop offset="0.779" stop-color="#D23C3C" stop-opacity="0.556"/><stop offset="0.833" stop-color="#D23C3C" stop-opacity="0.326"/><stop offset="0.844" stop-color="#D23C3C" stop-opacity="0.383"/><stop offset="0.925" stop-color="#D23C3C" stop-opacity="0.000"/><stop offset="1.000" stop-color="#D23C3C" stop-opacity="0.000"/></linearGradient>
<linearGradient id="gm47" x1="0" x2="0" y1="0" y2="1"><stop offset="0.000" stop-color="#D23C3C" stop-opacity="0.222"/><stop offset="0.549" stop-color="#D23C3C" stop-opacity="0.343"/><stop offset="0.694" stop-color="#D23C3C" stop-opacity="0.569"/><stop offset="0.799" stop-color="#D23C3C" stop-opacity="0.569"/><stop offset="0.836" stop-color="#D23C3C" stop-opacity="0.334"/><stop offset="0.865" stop-color="#D23C3C" stop-opacity="0.393"/><stop offset="0.928" stop-color="#D23C3C" stop-opacity="0.000"/><stop offset="1.000" stop-color="#D23C3C" stop-opacity="0.000"/></linearGradient>
<linearGradient id="gm48" x1="0" x2="0" y1="0" y2="1"><stop offset="0.000" stop-color="#D23C3C" stop-opacity="0.202"/><stop offset="0.565" stop-color="#D23C3C" stop-opacity="0.326"/><stop offset="0.709" stop-color="#D23C3C" stop-opacity="0.555"/><stop offset="0.815" stop-color="#D23C3C" stop-opacity="0.555"/><stop offset="0.836" stop-color="#D23C3C" stop-opacity="0.325"/><stop offset="0.880" stop-color="#D23C3C" stop-opacity="0.383"/><stop offset="0.928" stop-color="#D23C3C" stop-opacity="0.000"/><stop offset="1.000" stop-color="#D23C3C" stop-opacity="0.000"/></linearGradient>
<linearGradient id="gm49" x1="0" x2="0" y1="0" y2="1"><stop offset="0.000" stop-color="#D23C3C" stop-opacity="0.194"/><stop offset="0.580" stop-color="#D23C3C" stop-opacity="0.326"/><stop offset="0.724" stop-color="#D23C3C" stop-opacity="0.572"/><stop offset="0.830" stop-color="#D23C3C" stop-opacity="0.572"/><stop offset="0.836" stop-color="#D23C3C" stop-opacity="0.335"/><stop offset="0.896" stop-color="#D23C3C" stop-opacity="0.394"/><stop offset="0.928" stop-color="#D23C3C" stop-opacity="0.000"/><stop offset="1.000" stop-color="#D23C3C" stop-opacity="0.000"/></linearGradient>
<linearGradient id="gm50" x1="0" x2="0" y1="0" y2="1"><stop offset="0.000" stop-color="#D23C3C" stop-opacity="0.185"/><stop offset="0.586" stop-color="#D23C3C" stop-opacity="0.320"/><stop offset="0.731" stop-color="#D23C3C" stop-opacity="0.569"/><stop offset="0.836" stop-color="#D23C3C" stop-opacity="0.334"/><stop offset="0.836" stop-color="#D23C3C" stop-opacity="0.569"/><stop offset="0.902" stop-color="#D23C3C" stop-opacity="0.392"/><stop offset="0.928" stop-color="#D23C3C" stop-opacity="0.000"/><stop offset="1.000" stop-color="#D23C3C" stop-opacity="0.000"/></linearGradient>
<linearGradient id="gm51" x1="0" x2="0" y1="0" y2="1"><stop offset="0.000" stop-color="#D23C3C" stop-opacity="0.182"/><stop offset="0.582" stop-color="#D23C3C" stop-opacity="0.317"/><stop offset="0.727" stop-color="#D23C3C" stop-opacity="0.566"/><stop offset="0.832" stop-color="#D23C3C" stop-opacity="0.566"/><stop offset="0.836" stop-color="#D23C3C" stop-opacity="0.332"/><stop offset="0.898" stop-color="#D23C3C" stop-opacity="0.391"/><stop offset="0.928" stop-color="#D23C3C" stop-opacity="0.000"/><stop offset="1.000" stop-color="#D23C3C" stop-opacity="0.000"/></linearGradient>
<linearGradient id="gm52" x1="0" x2="0" y1="0" y2="1"><stop offset="0.000" stop-color="#D23C3C" stop-opacity="0.186"/><stop offset="0.575" stop-color="#D23C3C" stop-opacity="0.325"/><stop offset="0.719" stop-color="#D23C3C" stop-opacity="0.584"/><stop offset="0.825" stop-color="#D23C3C" stop-opacity="0.584"/><stop offset="0.836" stop-color="#D23C3C" stop-opacity="0.342"/><stop offset="0.890" stop-color="#D23C3C" stop-opacity="0.403"/><stop offset="0.928" stop-color="#D23C3C" stop-opacity="0.000"/><stop offset="1.000" stop-color="#D23C3C" stop-opacity="0.000"/></linearGradient>
<linearGradient id="gm53" x1="0" x2="0" y1="0" y2="1"><stop offset="0.000" stop-color="#D23C3C" stop-opacity="0.183"/><stop offset="0.562" stop-color="#D23C3C" stop-opacity="0.322"/><stop offset="0.707" stop-color="#D23C3C" stop-opacity="0.581"/><stop offset="0.812" stop-color="#D23C3C" stop-opacity="0.581"/><stop offset="0.836" stop-color="#D23C3C" stop-opacity="0.341"/><stop offset="0.878" stop-color="#D23C3C" stop-opacity="0.401"/><stop offset="0.928" stop-color="#D23C3C" stop-opacity="0.000"/><stop offset="1.000" stop-color="#D23C3C" stop-opacity="0.000"/></linearGradient>
<linearGradient id="gm54" x1="0" x2="0" y1="0" y2="1"><stop offset="0.000" stop-color="#D23C3C" stop-opacity="0.178"/><stop offset="0.545" stop-color="#D23C3C" stop-opacity="0.317"/><stop offset="0.689" stop-color="#D23C3C" stop-opacity="0.574"/><stop offset="0.795" stop-color="#D23C3C" stop-opacity="0.574"/><stop offset="0.836" stop-color="#D23C3C" stop-opacity="0.337"/><stop offset="0.861" stop-color="#D23C3C" stop-opacity="0.396"/><stop offset="0.928" stop-color="#D23C3C" stop-opacity="0.000"/><stop offset="1.000" stop-color="#D23C3C" stop-opacity="0.000"/></linearGradient>
<linearGradient id="gm55" x1="0" x2="0" y1="0" y2="1"><stop offset="0.000" stop-color="#D23C3C" stop-opacity="0.177"/><stop offset="0.527" stop-color="#D23C3C" stop-opacity="0.316"/><stop offset="0.671" stop-color="#D23C3C" stop-opacity="0.576"/><stop offset="0.777" stop-color="#D23C3C" stop-opacity="0.576"/><stop offset="0.836" stop-color="#D23C3C" stop-opacity="0.337"/><stop offset="0.842" stop-color="#D23C3C" stop-opacity="0.397"/><stop offset="0.928" stop-color="#D23C3C" stop-opacity="0.000"/><stop offset="1.000" stop-color="#D23C3C" stop-opacity="0.000"/></linearGradient>
<linearGradient id="gm56" x1="0" x2="0" y1="0" y2="1"><stop offset="0.000" stop-color="#D23C3C" stop-opacity="0.177"/><stop offset="0.510" stop-color="#D23C3C" stop-opacity="0.320"/><stop offset="0.655" stop-color="#D23C3C" stop-opacity="0.585"/><stop offset="0.760" stop-color="#D23C3C" stop-opacity="0.585"/><stop offset="0.826" stop-color="#D23C3C" stop-opacity="0.403"/><stop offset="0.836" stop-color="#D23C3C" stop-opacity="0.343"/><stop offset="0.928" stop-color="#D23C3C" stop-opacity="0.000"/><stop offset="1.000" stop-color="#D23C3C" stop-opacity="0.000"/></linearGradient>
<linearGradient id="gm57" x1="0" x2="0" y1="0" y2="1"><stop offset="0.000" stop-color="#D23C3C" stop-opacity="0.170"/><stop offset="0.502" stop-color="#D23C3C" stop-opacity="0.309"/><stop offset="0.647" stop-color="#D23C3C" stop-opacity="0.567"/><stop offset="0.752" stop-color="#D23C3C" stop-opacity="0.567"/><stop offset="0.818" stop-color="#D23C3C" stop-opacity="0.391"/><stop offset="0.836" stop-color="#D23C3C" stop-opacity="0.332"/><stop offset="0.928" stop-color="#D23C3C" stop-opacity="0.000"/><stop offset="1.000" stop-color="#D23C3C" stop-opacity="0.000"/></linearGradient>
<linearGradient id="gm58" x1="0" x2="0" y1="0" y2="1"><stop offset="0.000" stop-color="#D23C3C" stop-opacity="0.174"/><stop offset="0.503" stop-color="#D23C3C" stop-opacity="0.320"/><stop offset="0.648" stop-color="#D23C3C" stop-opacity="0.590"/><stop offset="0.753" stop-color="#D23C3C" stop-opacity="0.590"/><stop offset="0.819" stop-color="#D23C3C" stop-opacity="0.407"/><stop offset="0.838" stop-color="#D23C3C" stop-opacity="0.346"/><stop offset="0.930" stop-color="#D23C3C" stop-opacity="0.000"/><stop offset="1.000" stop-color="#D23C3C" stop-opacity="0.000"/></linearGradient>
<linearGradient id="gm59" x1="0" x2="0" y1="0" y2="1"><stop offset="0.000" stop-color="#D23C3C" stop-opacity="0.166"/><stop offset="0.505" stop-color="#D23C3C" stop-opacity="0.307"/><stop offset="0.650" stop-color="#D23C3C" stop-opacity="0.568"/><stop offset="0.755" stop-color="#D23C3C" stop-opacity="0.568"/><stop offset="0.821" stop-color="#D23C3C" stop-opacity="0.392"/><stop offset="0.841" stop-color="#D23C3C" stop-opacity="0.333"/><stop offset="0.933" stop-color="#D23C3C" stop-opacity="0.000"/><stop offset="1.000" stop-color="#D23C3C" stop-opacity="0.000"/></linearGradient>
<linearGradient id="gm60" x1="0" x2="0" y1="0" y2="1"><stop offset="0.000" stop-color="#D23C3C" stop-opacity="0.168"/><stop offset="0.508" stop-color="#D23C3C" stop-opacity="0.313"/><stop offset="0.653" stop-color="#D23C3C" stop-opacity="0.582"/><stop offset="0.758" stop-color="#D23C3C" stop-opacity="0.582"/><stop offset="0.824" stop-color="#D23C3C" stop-opacity="0.401"/><stop offset="0.843" stop-color="#D23C3C" stop-opacity="0.341"/><stop offset="0.936" stop-color="#D23C3C" stop-opacity="0.000"/><stop offset="1.000" stop-color="#D23C3C" stop-opacity="0.000"/></linearGradient>
<linearGradient id="gm61" x1="0" x2="0" y1="0" y2="1"><stop offset="0.000" stop-color="#D23C3C" stop-opacity="0.169"/><stop offset="0.511" stop-color="#D23C3C" stop-opacity="0.318"/><stop offset="0.656" stop-color="#D23C3C" stop-opacity="0.594"/><stop offset="0.761" stop-color="#D23C3C" stop-opacity="0.594"/><stop offset="0.827" stop-color="#D23C3C" stop-opacity="0.410"/><stop offset="0.846" stop-color="#D23C3C" stop-opacity="0.348"/><stop offset="0.938" stop-color="#D23C3C" stop-opacity="0.000"/><stop offset="1.000" stop-color="#D23C3C" stop-opacity="0.000"/></linearGradient>
<linearGradient id="gm62" x1="0" x2="0" y1="0" y2="1"><stop offset="0.000" stop-color="#D23C3C" stop-opacity="0.160"/><stop offset="0.514" stop-color="#D23C3C" stop-opacity="0.304"/><stop offset="0.659" stop-color="#D23C3C" stop-opacity="0.571"/><stop offset="0.764" stop-color="#D23C3C" stop-opacity="0.571"/><stop offset="0.830" stop-color="#D23C3C" stop-opacity="0.393"/><stop offset="0.849" stop-color="#D23C3C" stop-opacity="0.334"/><stop offset="0.941" stop-color="#D23C3C" stop-opacity="0.000"/><stop offset="1.000" stop-color="#D23C3C" stop-opacity="0.000"/></linearGradient>
<linearGradient id="gm63" x1="0" x2="0" y1="0" y2="1"><stop offset="0.000" stop-color="#D23C3C" stop-opacity="0.162"/><stop offset="0.517" stop-color="#D23C3C" stop-opacity="0.310"/><stop offset="0.662" stop-color="#D23C3C" stop-opacity="0.585"/><stop offset="0.767" stop-color="#D23C3C" stop-opacity="0.585"/><stop offset="0.833" stop-color="#D23C3C" stop-opacity="0.403"/><stop offset="0.851" stop-color="#D23C3C" stop-opacity="0.343"/><stop offset="0.943" stop-color="#D23C3C" stop-opacity="0.000"/><stop offset="1.000" stop-color="#D23C3C" stop-opacity="0.000"/></linearGradient>
<linearGradient id="gm64" x1="0" x2="0" y1="0" y2="1"><stop offset="0.000" stop-color="#D23C3C" stop-opacity="0.158"/><stop offset="0.518" stop-color="#D23C3C" stop-opacity="0.305"/><stop offset="0.663" stop-color="#D23C3C" stop-opacity="0.578"/><stop offset="0.768" stop-color="#D23C3C" stop-opacity="0.578"/><stop offset="0.834" stop-color="#D23C3C" stop-opacity="0.399"/><stop offset="0.854" stop-color="#D23C3C" stop-opacity="0.339"/><stop offset="0.946" stop-color="#D23C3C" stop-opacity="0.000"/><stop offset="1.000" stop-color="#D23C3C" stop-opacity="0.000"/></linearGradient>
<linearGradient id="gm65" x1="0" x2="0" y1="0" y2="1"><stop offset="0.000" stop-color="#D23C3C" stop-opacity="0.157"/><stop offset="0.521" stop-color="#D23C3C" stop-opacity="0.305"/><stop offset="0.665" stop-color="#D23C3C" stop-opacity="0.582"/><stop offset="0.771" stop-color="#D23C3C" stop-opacity="0.582"/><stop offset="0.837" stop-color="#D23C3C" stop-opacity="0.401"/><stop offset="0.857" stop-color="#D23C3C" stop-opacity="0.341"/><stop offset="0.949" stop-color="#D23C3C" stop-opacity="0.000"/><stop offset="1.000" stop-color="#D23C3C" stop-opacity="0.000"/></linearGradient>
<linearGradient id="gm66" x1="0" x2="0" y1="0" y2="1"><stop offset="0.000" stop-color="#D23C3C" stop-opacity="0.149"/><stop offset="0.527" stop-color="#D23C3C" stop-opacity="0.294"/><stop offset="0.672" stop-color="#D23C3C" stop-opacity="0.563"/><stop offset="0.777" stop-color="#D23C3C" stop-opacity="0.563"/><stop offset="0.843" stop-color="#D23C3C" stop-opacity="0.388"/><stop offset="0.859" stop-color="#D23C3C" stop-opacity="0.330"/><stop offset="0.951" stop-color="#D23C3C" stop-opacity="0.000"/><stop offset="1.000" stop-color="#D23C3C" stop-opacity="0.000"/></linearGradient>
<linearGradient id="gm67" x1="0" x2="0" y1="0" y2="1"><stop offset="0.000" stop-color="#D23C3C" stop-opacity="0.145"/><stop offset="0.530" stop-color="#D23C3C" stop-opacity="0.288"/><stop offset="0.675" stop-color="#D23C3C" stop-opacity="0.553"/><stop offset="0.780" stop-color="#D23C3C" stop-opacity="0.553"/><stop offset="0.846" stop-color="#D23C3C" stop-opacity="0.381"/><stop offset="0.862" stop-color="#D23C3C" stop-opacity="0.324"/><stop offset="0.954" stop-color="#D23C3C" stop-opacity="0.000"/><stop offset="1.000" stop-color="#D23C3C" stop-opacity="0.000"/></linearGradient>
<linearGradient id="gm68" x1="0" x2="0" y1="0" y2="1"><stop offset="0.000" stop-color="#D23C3C" stop-opacity="0.142"/><stop offset="0.532" stop-color="#D23C3C" stop-opacity="0.286"/><stop offset="0.676" stop-color="#D23C3C" stop-opacity="0.552"/><stop offset="0.782" stop-color="#D23C3C" stop-opacity="0.552"/><stop offset="0.848" stop-color="#D23C3C" stop-opacity="0.381"/><stop offset="0.863" stop-color="#D23C3C" stop-opacity="0.324"/><stop offset="0.955" stop-color="#D23C3C" stop-opacity="0.000"/><stop offset="1.000" stop-color="#D23C3C" stop-opacity="0.000"/></linearGradient>
<linearGradient id="gm69" x1="0" x2="0" y1="0" y2="1"><stop offset="0.000" stop-color="#D23C3C" stop-opacity="0.147"/><stop offset="0.538" stop-color="#D23C3C" stop-opacity="0.299"/><stop offset="0.683" stop-color="#D23C3C" stop-opacity="0.580"/><stop offset="0.788" stop-color="#D23C3C" stop-opacity="0.580"/><stop offset="0.854" stop-color="#D23C3C" stop-opacity="0.400"/><stop offset="0.864" stop-color="#D23C3C" stop-opacity="0.340"/><stop offset="0.957" stop-color="#D23C3C" stop-opacity="0.000"/><stop offset="1.000" stop-color="#D23C3C" stop-opacity="0.000"/></linearGradient>
<linearGradient id="gm70" x1="0" x2="0" y1="0" y2="1"><stop offset="0.000" stop-color="#D23C3C" stop-opacity="0.142"/><stop offset="0.547" stop-color="#D23C3C" stop-opacity="0.292"/><stop offset="0.692" stop-color="#D23C3C" stop-opacity="0.569"/><stop offset="0.797" stop-color="#D23C3C" stop-opacity="0.569"/><stop offset="0.863" stop-color="#D23C3C" stop-opacity="0.392"/><stop offset="0.866" stop-color="#D23C3C" stop-opacity="0.333"/><stop offset="0.958" stop-color="#D23C3C" stop-opacity="0.000"/><stop offset="1.000" stop-color="#D23C3C" stop-opacity="0.000"/></linearGradient>
<linearGradient id="gm71" x1="0" x2="0" y1="0" y2="1"><stop offset="0.000" stop-color="#D23C3C" stop-opacity="0.144"/><stop offset="0.554" stop-color="#D23C3C" stop-opacity="0.297"/><stop offset="0.699" stop-color="#D23C3C" stop-opacity="0.583"/><stop offset="0.804" stop-color="#D23C3C" stop-opacity="0.583"/><stop offset="0.867" stop-color="#D23C3C" stop-opacity="0.342"/><stop offset="0.870" stop-color="#D23C3C" stop-opacity="0.402"/><stop offset="0.959" stop-color="#D23C3C" stop-opacity="0.000"/><stop offset="1.000" stop-color="#D23C3C" stop-opacity="0.000"/></linearGradient>
<linearGradient id="gm72" x1="0" x2="0" y1="0" y2="1"><stop offset="0.000" stop-color="#D23C3C" stop-opacity="0.145"/><stop offset="0.569" stop-color="#D23C3C" stop-opacity="0.304"/><stop offset="0.714" stop-color="#D23C3C" stop-opacity="0.598"/><stop offset="0.819" stop-color="#D23C3C" stop-opacity="0.598"/><stop offset="0.868" stop-color="#D23C3C" stop-opacity="0.350"/><stop offset="0.885" stop-color="#D23C3C" stop-opacity="0.412"/><stop offset="0.961" stop-color="#D23C3C" stop-opacity="0.000"/><stop offset="1.000" stop-color="#D23C3C" stop-opacity="0.000"/></linearGradient>
<linearGradient id="gm73" x1="0" x2="0" y1="0" y2="1"><stop offset="0.000" stop-color="#D23C3C" stop-opacity="0.145"/><stop offset="0.589" stop-color="#D23C3C" stop-opacity="0.307"/><stop offset="0.734" stop-color="#D23C3C" stop-opacity="0.607"/><stop offset="0.839" stop-color="#D23C3C" stop-opacity="0.607"/><stop offset="0.870" stop-color="#D23C3C" stop-opacity="0.356"/><stop offset="0.905" stop-color="#D23C3C" stop-opacity="0.419"/><stop offset="0.962" stop-color="#D23C3C" stop-opacity="0.000"/><stop offset="1.000" stop-color="#D23C3C" stop-opacity="0.000"/></linearGradient>
<linearGradient id="gm74" x1="0" x2="0" y1="0" y2="1"><stop offset="0.000" stop-color="#D23C3C" stop-opacity="0.139"/><stop offset="0.606" stop-color="#D23C3C" stop-opacity="0.297"/><stop offset="0.751" stop-color="#D23C3C" stop-opacity="0.590"/><stop offset="0.856" stop-color="#D23C3C" stop-opacity="0.590"/><stop offset="0.871" stop-color="#D23C3C" stop-opacity="0.346"/><stop offset="0.922" stop-color="#D23C3C" stop-opacity="0.407"/><stop offset="0.963" stop-color="#D23C3C" stop-opacity="0.000"/><stop offset="1.000" stop-color="#D23C3C" stop-opacity="0.000"/></linearGradient>
<linearGradient id="gm75" x1="0" x2="0" y1="0" y2="1"><stop offset="0.000" stop-color="#D23C3C" stop-opacity="0.135"/><stop offset="0.620" stop-color="#D23C3C" stop-opacity="0.291"/><stop offset="0.764" stop-color="#D23C3C" stop-opacity="0.581"/><stop offset="0.870" stop-color="#D23C3C" stop-opacity="0.581"/><stop offset="0.872" stop-color="#D23C3C" stop-opacity="0.340"/><stop offset="0.936" stop-color="#D23C3C" stop-opacity="0.401"/><stop offset="0.964" stop-color="#D23C3C" stop-opacity="0.000"/><stop offset="1.000" stop-color="#D23C3C" stop-opacity="0.000"/></linearGradient>
<linearGradient id="gm76" x1="0" x2="0" y1="0" y2="1"><stop offset="0.000" stop-color="#D23C3C" stop-opacity="0.133"/><stop offset="0.630" stop-color="#D23C3C" stop-opacity="0.290"/><stop offset="0.775" stop-color="#D23C3C" stop-opacity="0.581"/><stop offset="0.874" stop-color="#D23C3C" stop-opacity="0.341"/><stop offset="0.880" stop-color="#D23C3C" stop-opacity="0.581"/><stop offset="0.946" stop-color="#D23C3C" stop-opacity="0.401"/><stop offset="0.966" stop-color="#D23C3C" stop-opacity="0.000"/><stop offset="1.000" stop-color="#D23C3C" stop-opacity="0.000"/></linearGradient>
<linearGradient id="gm77" x1="0" x2="0" y1="0" y2="1"><stop offset="0.000" stop-color="#D23C3C" stop-opacity="0.132"/><stop offset="0.638" stop-color="#D23C3C" stop-opacity="0.293"/><stop offset="0.783" stop-color="#D23C3C" stop-opacity="0.591"/><stop offset="0.875" stop-color="#D23C3C" stop-opacity="0.346"/><stop offset="0.888" stop-color="#D23C3C" stop-opacity="0.591"/><stop offset="0.954" stop-color="#D23C3C" stop-opacity="0.408"/><stop offset="0.967" stop-color="#D23C3C" stop-opacity="0.000"/><stop offset="1.000" stop-color="#D23C3C" stop-opacity="0.000"/></linearGradient>
<linearGradient id="gm78" x1="0" x2="0" y1="0" y2="1"><stop offset="0.000" stop-color="#D23C3C" stop-opacity="0.126"/><stop offset="0.643" stop-color="#D23C3C" stop-opacity="0.282"/><stop offset="0.788" stop-color="#D23C3C" stop-opacity="0.572"/><stop offset="0.876" stop-color="#D23C3C" stop-opacity="0.335"/><stop offset="0.893" stop-color="#D23C3C" stop-opacity="0.572"/><stop offset="0.959" stop-color="#D23C3C" stop-opacity="0.395"/><stop offset="0.968" stop-color="#D23C3C" stop-opacity="0.000"/><stop offset="1.000" stop-color="#D23C3C" stop-opacity="0.000"/></linearGradient>
<linearGradient id="gm79" x1="0" x2="0" y1="0" y2="1"><stop offset="0.000" stop-color="#D23C3C" stop-opacity="0.126"/><stop offset="0.647" stop-color="#D23C3C" stop-opacity="0.287"/><stop offset="0.792" stop-color="#D23C3C" stop-opacity="0.584"/><stop offset="0.877" stop-color="#D23C3C" stop-opacity="0.343"/><stop offset="0.897" stop-color="#D23C3C" stop-opacity="0.584"/><stop offset="0.963" stop-color="#D23C3C" stop-opacity="0.403"/><stop offset="0.969" stop-color="#D23C3C" stop-opacity="0.000"/><stop offset="1.000" stop-color="#D23C3C" stop-opacity="0.000"/></linearGradient>
<linearGradient id="gm80" x1="0" x2="0" y1="0" y2="1"><stop offset="0.000" stop-color="#D23C3C" stop-opacity="0.126"/><stop offset="0.648" stop-color="#D23C3C" stop-opacity="0.290"/><stop offset="0.792" stop-color="#D23C3C" stop-opacity="0.594"/><stop offset="0.877" stop-color="#D23C3C" stop-opacity="0.348"/><stop offset="0.898" stop-color="#D23C3C" stop-opacity="0.594"/><stop offset="0.964" stop-color="#D23C3C" stop-opacity="0.409"/><stop offset="0.969" stop-color="#D23C3C" stop-opacity="0.000"/><stop offset="1.000" stop-color="#D23C3C" stop-opacity="0.000"/></linearGradient>
<linearGradient id="gm81" x1="0" x2="0" y1="0" y2="1"><stop offset="0.000" stop-color="#D23C3C" stop-opacity="0.125"/><stop offset="0.648" stop-color="#D23C3C" stop-opacity="0.292"/><stop offset="0.793" stop-color="#D23C3C" stop-opacity="0.602"/><stop offset="0.878" stop-color="#D23C3C" stop-opacity="0.353"/><stop offset="0.898" stop-color="#D23C3C" stop-opacity="0.602"/><stop offset="0.964" stop-color="#D23C3C" stop-opacity="0.415"/><stop offset="0.970" stop-color="#D23C3C" stop-opacity="0.000"/><stop offset="1.000" stop-color="#D23C3C" stop-opacity="0.000"/></linearGradient>
<linearGradient id="gm82" x1="0" x2="0" y1="0" y2="1"><stop offset="0.000" stop-color="#D23C3C" stop-opacity="0.118"/><stop offset="0.647" stop-color="#D23C3C" stop-opacity="0.278"/><stop offset="0.792" stop-color="#D23C3C" stop-opacity="0.576"/><stop offset="0.879" stop-color="#D23C3C" stop-opacity="0.338"/><stop offset="0.897" stop-color="#D23C3C" stop-opacity="0.576"/><stop offset="0.963" stop-color="#D23C3C" stop-opacity="0.397"/><stop offset="0.971" stop-color="#D23C3C" stop-opacity="0.000"/><stop offset="1.000" stop-color="#D23C3C" stop-opacity="0.000"/></linearGradient>
<linearGradient id="gm83" x1="0" x2="0" y1="0" y2="1"><stop offset="0.000" stop-color="#D23C3C" stop-opacity="0.119"/><stop offset="0.644" stop-color="#D23C3C" stop-opacity="0.285"/><stop offset="0.788" stop-color="#D23C3C" stop-opacity="0.594"/><stop offset="0.880" stop-color="#D23C3C" stop-opacity="0.348"/><stop offset="0.894" stop-color="#D23C3C" stop-opacity="0.594"/><stop offset="0.959" stop-color="#D23C3C" stop-opacity="0.410"/><stop offset="0.972" stop-color="#D23C3C" stop-opacity="0.000"/><stop offset="1.000" stop-color="#D23C3C" stop-opacity="0.000"/></linearGradient>
<linearGradient id="gm84" x1="0" x2="0" y1="0" y2="1"><stop offset="0.000" stop-color="#D23C3C" stop-opacity="0.113"/><stop offset="0.641" stop-color="#D23C3C" stop-opacity="0.274"/><stop offset="0.786" stop-color="#D23C3C" stop-opacity="0.573"/><stop offset="0.880" stop-color="#D23C3C" stop-opacity="0.336"/><stop offset="0.891" stop-color="#D23C3C" stop-opacity="0.573"/><stop offset="0.957" stop-color="#D23C3C" stop-opacity="0.395"/><stop offset="0.972" stop-color="#D23C3C" stop-opacity="0.000"/><stop offset="1.000" stop-color="#D23C3C" stop-opacity="0.000"/></linearGradient>
<linearGradient id="gm85" x1="0" x2="0" y1="0" y2="1"><stop offset="0.000" stop-color="#D23C3C" stop-opacity="0.110"/><stop offset="0.642" stop-color="#D23C3C" stop-opacity="0.271"/><stop offset="0.787" stop-color="#D23C3C" stop-opacity="0.570"/><stop offset="0.881" stop-color="#D23C3C" stop-opacity="0.334"/><stop offset="0.892" stop-color="#D23C3C" stop-opacity="0.570"/><stop offset="0.958" stop-color="#D23C3C" stop-opacity="0.393"/><stop offset="0.973" stop-color="#D23C3C" stop-opacity="0.000"/><stop offset="1.000" stop-color="#D23C3C" stop-opacity="0.000"/></linearGradient>
<linearGradient id="gm86" x1="0" x2="0" y1="0" y2="1"><stop offset="0.000" stop-color="#D23C3C" stop-opacity="0.109"/><stop offset="0.643" stop-color="#D23C3C" stop-opacity="0.273"/><stop offset="0.788" stop-color="#D23C3C" stop-opacity="0.578"/><stop offset="0.882" stop-color="#D23C3C" stop-opacity="0.339"/><stop offset="0.893" stop-color="#D23C3C" stop-opacity="0.578"/><stop offset="0.959" stop-color="#D23C3C" stop-opacity="0.399"/><stop offset="0.974" stop-color="#D23C3C" stop-opacity="0.000"/><stop offset="1.000" stop-color="#D23C3C" stop-opacity="0.000"/></linearGradient>
<linearGradient id="gm87" x1="0" x2="0" y1="0" y2="1"><stop offset="0.000" stop-color="#D23C3C" stop-opacity="0.110"/><stop offset="0.644" stop-color="#D23C3C" stop-opacity="0.279"/><stop offset="0.789" stop-color="#D23C3C" stop-opacity="0.594"/><stop offset="0.883" stop-color="#D23C3C" stop-opacity="0.348"/><stop offset="0.894" stop-color="#D23C3C" stop-opacity="0.594"/><stop offset="0.960" stop-color="#D23C3C" stop-opacity="0.410"/><stop offset="0.975" stop-color="#D23C3C" stop-opacity="0.000"/><stop offset="1.000" stop-color="#D23C3C" stop-opacity="0.000"/></linearGradient>
<linearGradient id="gm88" x1="0" x2="0" y1="0" y2="1"><stop offset="0.000" stop-color="#D23C3C" stop-opacity="0.105"/><stop offset="0.644" stop-color="#D23C3C" stop-opacity="0.272"/><stop offset="0.789" stop-color="#D23C3C" stop-opacity="0.583"/><stop offset="0.883" stop-color="#D23C3C" stop-opacity="0.342"/><stop offset="0.894" stop-color="#D23C3C" stop-opacity="0.583"/><stop offset="0.960" stop-color="#D23C3C" stop-opacity="0.402"/><stop offset="0.975" stop-color="#D23C3C" stop-opacity="0.000"/><stop offset="1.000" stop-color="#D23C3C" stop-opacity="0.000"/></linearGradient>
<linearGradient id="gm89" x1="0" x2="0" y1="0" y2="1"><stop offset="0.000" stop-color="#D23C3C" stop-opacity="0.106"/><stop offset="0.645" stop-color="#D23C3C" stop-opacity="0.278"/><stop offset="0.790" stop-color="#D23C3C" stop-opacity="0.597"/><stop offset="0.884" stop-color="#D23C3C" stop-opacity="0.350"/><stop offset="0.895" stop-color="#D23C3C" stop-opacity="0.597"/><stop offset="0.961" stop-color="#D23C3C" stop-opacity="0.412"/><stop offset="0.976" stop-color="#D23C3C" stop-opacity="0.000"/><stop offset="1.000" stop-color="#D23C3C" stop-opacity="0.000"/></linearGradient>
<linearGradient id="gm90" x1="0" x2="0" y1="0" y2="1"><stop offset="0.000" stop-color="#D23C3C" stop-opacity="0.102"/><stop offset="0.646" stop-color="#D23C3C" stop-opacity="0.274"/><stop offset="0.791" stop-color="#D23C3C" stop-opacity="0.592"/><stop offset="0.885" stop-color="#D23C3C" stop-opacity="0.347"/><stop offset="0.896" stop-color="#D23C3C" stop-opacity="0.592"/><stop offset="0.962" stop-color="#D23C3C" stop-opacity="0.408"/><stop offset="0.977" stop-color="#D23C3C" stop-opacity="0.000"/><stop offset="1.000" stop-color="#D23C3C" stop-opacity="0.000"/></linearGradient>
<linearGradient id="gm91" x1="0" x2="0" y1="0" y2="1"><stop offset="0.000" stop-color="#D23C3C" stop-opacity="0.098"/><stop offset="0.648" stop-color="#D23C3C" stop-opacity="0.267"/><stop offset="0.792" stop-color="#D23C3C" stop-opacity="0.580"/><stop offset="0.886" stop-color="#D23C3C" stop-opacity="0.340"/><stop offset="0.898" stop-color="#D23C3C" stop-opacity="0.580"/><stop offset="0.964" stop-color="#D23C3C" stop-opacity="0.400"/><stop offset="0.978" stop-color="#D23C3C" stop-opacity="0.000"/><stop offset="1.000" stop-color="#D23C3C" stop-opacity="0.000"/></linearGradient>
<linearGradient id="gm92" x1="0" x2="0" y1="0" y2="1"><stop offset="0.000" stop-color="#D23C3C" stop-opacity="0.095"/><stop offset="0.650" stop-color="#D23C3C" stop-opacity="0.262"/><stop offset="0.795" stop-color="#D23C3C" stop-opacity="0.573"/><stop offset="0.886" stop-color="#D23C3C" stop-opacity="0.336"/><stop offset="0.900" stop-color="#D23C3C" stop-opacity="0.573"/><stop offset="0.966" stop-color="#D23C3C" stop-opacity="0.395"/><stop offset="0.978" stop-color="#D23C3C" stop-opacity="0.000"/><stop offset="1.000" stop-color="#D23C3C" stop-opacity="0.000"/></linearGradient>
<linearGradient id="gm93" x1="0" x2="0" y1="0" y2="1"><stop offset="0.000" stop-color="#D23C3C" stop-opacity="0.091"/><stop offset="0.652" stop-color="#D23C3C" stop-opacity="0.256"/><stop offset="0.796" stop-color="#D23C3C" stop-opacity="0.564"/><stop offset="0.887" stop-color="#D23C3C" stop-opacity="0.331"/><stop offset="0.902" stop-color="#D23C3C" stop-opacity="0.564"/><stop offset="0.967" stop-color="#D23C3C" stop-opacity="0.389"/><stop offset="0.979" stop-color="#D23C3C" stop-opacity="0.000"/><stop offset="1.000" stop-color="#D23C3C" stop-opacity="0.000"/></linearGradient>
<linearGradient id="gm94" x1="0" x2="0" y1="0" y2="1"><stop offset="0.000" stop-color="#D23C3C" stop-opacity="0.087"/><stop offset="0.653" stop-color="#D23C3C" stop-opacity="0.251"/><stop offset="0.798" stop-color="#D23C3C" stop-opacity="0.555"/><stop offset="0.888" stop-color="#D23C3C" stop-opacity="0.325"/><stop offset="0.903" stop-color="#D23C3C" stop-opacity="0.555"/><stop offset="0.969" stop-color="#D23C3C" stop-opacity="0.383"/><stop offset="0.980" stop-color="#D23C3C" stop-opacity="0.000"/><stop offset="1.000" stop-color="#D23C3C" stop-opacity="0.000"/></linearGradient>
<linearGradient id="gb0" x1="0" x2="0" y1="0" y2="1"><stop offset="0.000" stop-color="#1E9BA0" stop-opacity="0.415"/><stop offset="0.000" stop-color="#1E9BA0" stop-opacity="0.443"/><stop offset="0.070" stop-color="#1E9BA0" stop-opacity="0.494"/><stop offset="0.173" stop-color="#1E9BA0" stop-opacity="0.494"/><stop offset="0.238" stop-color="#1E9BA0" stop-opacity="0.415"/><stop offset="0.451" stop-color="#1E9BA0" stop-opacity="0.353"/><stop offset="0.581" stop-color="#1E9BA0" stop-opacity="0.000"/><stop offset="1.000" stop-color="#1E9BA0" stop-opacity="0.000"/></linearGradient>
<linearGradient id="gb1" x1="0" x2="0" y1="0" y2="1"><stop offset="0.000" stop-color="#1E9BA0" stop-opacity="0.406"/><stop offset="0.000" stop-color="#1E9BA0" stop-opacity="0.434"/><stop offset="0.064" stop-color="#1E9BA0" stop-opacity="0.485"/><stop offset="0.167" stop-color="#1E9BA0" stop-opacity="0.485"/><stop offset="0.232" stop-color="#1E9BA0" stop-opacity="0.406"/><stop offset="0.454" stop-color="#1E9BA0" stop-opacity="0.345"/><stop offset="0.583" stop-color="#1E9BA0" stop-opacity="0.000"/><stop offset="1.000" stop-color="#1E9BA0" stop-opacity="0.000"/></linearGradient>
<linearGradient id="gb2" x1="0" x2="0" y1="0" y2="1"><stop offset="0.000" stop-color="#1E9BA0" stop-opacity="0.414"/><stop offset="0.000" stop-color="#1E9BA0" stop-opacity="0.443"/><stop offset="0.056" stop-color="#1E9BA0" stop-opacity="0.496"/><stop offset="0.160" stop-color="#1E9BA0" stop-opacity="0.496"/><stop offset="0.225" stop-color="#1E9BA0" stop-opacity="0.414"/><stop offset="0.456" stop-color="#1E9BA0" stop-opacity="0.352"/><stop offset="0.586" stop-color="#1E9BA0" stop-opacity="0.000"/><stop offset="1.000" stop-color="#1E9BA0" stop-opacity="0.000"/></linearGradient>
<linearGradient id="gb3" x1="0" x2="0" y1="0" y2="1"><stop offset="0.000" stop-color="#1E9BA0" stop-opacity="0.403"/><stop offset="0.000" stop-color="#1E9BA0" stop-opacity="0.431"/><stop offset="0.049" stop-color="#1E9BA0" stop-opacity="0.484"/><stop offset="0.153" stop-color="#1E9BA0" stop-opacity="0.484"/><stop offset="0.217" stop-color="#1E9BA0" stop-opacity="0.403"/><stop offset="0.459" stop-color="#1E9BA0" stop-opacity="0.343"/><stop offset="0.588" stop-color="#1E9BA0" stop-opacity="0.000"/><stop offset="1.000" stop-color="#1E9BA0" stop-opacity="0.000"/></linearGradient>
<linearGradient id="gb4" x1="0" x2="0" y1="0" y2="1"><stop offset="0.000" stop-color="#1E9BA0" stop-opacity="0.408"/><stop offset="0.000" stop-color="#1E9BA0" stop-opacity="0.438"/><stop offset="0.042" stop-color="#1E9BA0" stop-opacity="0.492"/><stop offset="0.146" stop-color="#1E9BA0" stop-opacity="0.492"/><stop offset="0.210" stop-color="#1E9BA0" stop-opacity="0.408"/><stop offset="0.461" stop-color="#1E9BA0" stop-opacity="0.347"/><stop offset="0.591" stop-color="#1E9BA0" stop-opacity="0.000"/><stop offset="1.000" stop-color="#1E9BA0" stop-opacity="0.000"/></linearGradient>
<linearGradient id="gb5" x1="0" x2="0" y1="0" y2="1"><stop offset="0.000" stop-color="#1E9BA0" stop-opacity="0.407"/><stop offset="0.000" stop-color="#1E9BA0" stop-opacity="0.436"/><stop offset="0.036" stop-color="#1E9BA0" stop-opacity="0.491"/><stop offset="0.140" stop-color="#1E9BA0" stop-opacity="0.491"/><stop offset="0.204" stop-color="#1E9BA0" stop-opacity="0.407"/><stop offset="0.464" stop-color="#1E9BA0" stop-opacity="0.346"/><stop offset="0.594" stop-color="#1E9BA0" stop-opacity="0.000"/><stop offset="1.000" stop-color="#1E9BA0" stop-opacity="0.000"/></linearGradient>
<linearGradient id="gb6" x1="0" x2="0" y1="0" y2="1"><stop offset="0.000" stop-color="#1E9BA0" stop-opacity="0.397"/><stop offset="0.000" stop-color="#1E9BA0" stop-opacity="0.426"/><stop offset="0.030" stop-color="#1E9BA0" stop-opacity="0.480"/><stop offset="0.134" stop-color="#1E9BA0" stop-opacity="0.480"/><stop offset="0.199" stop-color="#1E9BA0" stop-opacity="0.397"/><stop offset="0.467" stop-color="#1E9BA0" stop-opacity="0.338"/><stop offset="0.596" stop-color="#1E9BA0" stop-opacity="0.000"/><stop offset="1.000" stop-color="#1E9BA0" stop-opacity="0.000"/></linearGradient>
<linearGradient id="gb7" x1="0" x2="0" y1="0" y2="1"><stop offset="0.000" stop-color="#1E9BA0" stop-opacity="0.403"/><stop offset="0.000" stop-color="#1E9BA0" stop-opacity="0.433"/><stop offset="0.025" stop-color="#1E9BA0" stop-opacity="0.488"/><stop offset="0.129" stop-color="#1E9BA0" stop-opacity="0.488"/><stop offset="0.193" stop-color="#1E9BA0" stop-opacity="0.403"/><stop offset="0.469" stop-color="#1E9BA0" stop-opacity="0.342"/><stop offset="0.599" stop-color="#1E9BA0" stop-opacity="0.000"/><stop offset="1.000" stop-color="#1E9BA0" stop-opacity="0.000"/></linearGradient>
<linearGradient id="gb8" x1="0" x2="0" y1="0" y2="1"><stop offset="0.000" stop-color="#1E9BA0" stop-opacity="0.394"/><stop offset="0.000" stop-color="#1E9BA0" stop-opacity="0.423"/><stop offset="0.027" stop-color="#1E9BA0" stop-opacity="0.478"/><stop offset="0.130" stop-color="#1E9BA0" stop-opacity="0.478"/><stop offset="0.195" stop-color="#1E9BA0" stop-opacity="0.394"/><stop offset="0.472" stop-color="#1E9BA0" stop-opacity="0.335"/><stop offset="0.601" stop-color="#1E9BA0" stop-opacity="0.000"/><stop offset="1.000" stop-color="#1E9BA0" stop-opacity="0.000"/></linearGradient>
<linearGradient id="gb9" x1="0" x2="0" y1="0" y2="1"><stop offset="0.000" stop-color="#1E9BA0" stop-opacity="0.398"/><stop offset="0.000" stop-color="#1E9BA0" stop-opacity="0.428"/><stop offset="0.036" stop-color="#1E9BA0" stop-opacity="0.485"/><stop offset="0.139" stop-color="#1E9BA0" stop-opacity="0.485"/><stop offset="0.204" stop-color="#1E9BA0" stop-opacity="0.398"/><stop offset="0.474" stop-color="#1E9BA0" stop-opacity="0.338"/><stop offset="0.604" stop-color="#1E9BA0" stop-opacity="0.000"/><stop offset="1.000" stop-color="#1E9BA0" stop-opacity="0.000"/></linearGradient>
<linearGradient id="gb10" x1="0" x2="0" y1="0" y2="1"><stop offset="0.000" stop-color="#1E9BA0" stop-opacity="0.391"/><stop offset="0.000" stop-color="#1E9BA0" stop-opacity="0.421"/><stop offset="0.043" stop-color="#1E9BA0" stop-opacity="0.477"/><stop offset="0.147" stop-color="#1E9BA0" stop-opacity="0.477"/><stop offset="0.211" stop-color="#1E9BA0" stop-opacity="0.391"/><stop offset="0.477" stop-color="#1E9BA0" stop-opacity="0.332"/><stop offset="0.606" stop-color="#1E9BA0" stop-opacity="0.000"/><stop offset="1.000" stop-color="#1E9BA0" stop-opacity="0.000"/></linearGradient>
<linearGradient id="gb11" x1="0" x2="0" y1="0" y2="1"><stop offset="0.000" stop-color="#1E9BA0" stop-opacity="0.387"/><stop offset="0.000" stop-color="#1E9BA0" stop-opacity="0.417"/><stop offset="0.049" stop-color="#1E9BA0" stop-opacity="0.473"/><stop offset="0.152" stop-color="#1E9BA0" stop-opacity="0.473"/><stop offset="0.217" stop-color="#1E9BA0" stop-opacity="0.387"/><stop offset="0.480" stop-color="#1E9BA0" stop-opacity="0.329"/><stop offset="0.609" stop-color="#1E9BA0" stop-opacity="0.000"/><stop offset="1.000" stop-color="#1E9BA0" stop-opacity="0.000"/></linearGradient>
<linearGradient id="gb12" x1="0" x2="0" y1="0" y2="1"><stop offset="0.000" stop-color="#1E9BA0" stop-opacity="0.392"/><stop offset="0.000" stop-color="#1E9BA0" stop-opacity="0.424"/><stop offset="0.055" stop-color="#1E9BA0" stop-opacity="0.481"/><stop offset="0.158" stop-color="#1E9BA0" stop-opacity="0.481"/><stop offset="0.223" stop-color="#1E9BA0" stop-opacity="0.392"/><stop offset="0.482" stop-color="#1E9BA0" stop-opacity="0.334"/><stop offset="0.612" stop-color="#1E9BA0" stop-opacity="0.000"/><stop offset="1.000" stop-color="#1E9BA0" stop-opacity="0.000"/></linearGradient>
<linearGradient id="gb13" x1="0" x2="0" y1="0" y2="1"><stop offset="0.000" stop-color="#1E9BA0" stop-opacity="0.406"/><stop offset="0.000" stop-color="#1E9BA0" stop-opacity="0.439"/><stop offset="0.055" stop-color="#1E9BA0" stop-opacity="0.499"/><stop offset="0.158" stop-color="#1E9BA0" stop-opacity="0.499"/><stop offset="0.223" stop-color="#1E9BA0" stop-opacity="0.406"/><stop offset="0.488" stop-color="#1E9BA0" stop-opacity="0.345"/><stop offset="0.618" stop-color="#1E9BA0" stop-opacity="0.000"/><stop offset="1.000" stop-color="#1E9BA0" stop-opacity="0.000"/></linearGradient>
<linearGradient id="gb14" x1="0" x2="0" y1="0" y2="1"><stop offset="0.000" stop-color="#1E9BA0" stop-opacity="0.395"/><stop offset="0.000" stop-color="#1E9BA0" stop-opacity="0.428"/><stop offset="0.049" stop-color="#1E9BA0" stop-opacity="0.488"/><stop offset="0.153" stop-color="#1E9BA0" stop-opacity="0.488"/><stop offset="0.217" stop-color="#1E9BA0" stop-opacity="0.395"/><stop offset="0.494" stop-color="#1E9BA0" stop-opacity="0.336"/><stop offset="0.624" stop-color="#1E9BA0" stop-opacity="0.000"/><stop offset="1.000" stop-color="#1E9BA0" stop-opacity="0.000"/></linearGradient>
<linearGradient id="gb15" x1="0" x2="0" y1="0" y2="1"><stop offset="0.000" stop-color="#1E9BA0" stop-opacity="0.391"/><stop offset="0.000" stop-color="#1E9BA0" stop-opacity="0.424"/><stop offset="0.047" stop-color="#1E9BA0" stop-opacity="0.484"/><stop offset="0.151" stop-color="#1E9BA0" stop-opacity="0.484"/><stop offset="0.215" stop-color="#1E9BA0" stop-opacity="0.391"/><stop offset="0.500" stop-color="#1E9BA0" stop-opacity="0.333"/><stop offset="0.630" stop-color="#1E9BA0" stop-opacity="0.000"/><stop offset="1.000" stop-color="#1E9BA0" stop-opacity="0.000"/></linearGradient>
<linearGradient id="gb16" x1="0" x2="0" y1="0" y2="1"><stop offset="0.000" stop-color="#1E9BA0" stop-opacity="0.399"/><stop offset="0.000" stop-color="#1E9BA0" stop-opacity="0.432"/><stop offset="0.054" stop-color="#1E9BA0" stop-opacity="0.494"/><stop offset="0.157" stop-color="#1E9BA0" stop-opacity="0.494"/><stop offset="0.222" stop-color="#1E9BA0" stop-opacity="0.399"/><stop offset="0.506" stop-color="#1E9BA0" stop-opacity="0.339"/><stop offset="0.636" stop-color="#1E9BA0" stop-opacity="0.000"/><stop offset="1.000" stop-color="#1E9BA0" stop-opacity="0.000"/></linearGradient>
<linearGradient id="gb17" x1="0" x2="0" y1="0" y2="1"><stop offset="0.000" stop-color="#1E9BA0" stop-opacity="0.411"/><stop offset="0.000" stop-color="#1E9BA0" stop-opacity="0.446"/><stop offset="0.077" stop-color="#1E9BA0" stop-opacity="0.511"/><stop offset="0.181" stop-color="#1E9BA0" stop-opacity="0.511"/><stop offset="0.246" stop-color="#1E9BA0" stop-opacity="0.411"/><stop offset="0.512" stop-color="#1E9BA0" stop-opacity="0.350"/><stop offset="0.642" stop-color="#1E9BA0" stop-opacity="0.000"/><stop offset="1.000" stop-color="#1E9BA0" stop-opacity="0.000"/></linearGradient>
<linearGradient id="gb18" x1="0" x2="0" y1="0" y2="1"><stop offset="0.000" stop-color="#1E9BA0" stop-opacity="0.409"/><stop offset="0.000" stop-color="#1E9BA0" stop-opacity="0.444"/><stop offset="0.117" stop-color="#1E9BA0" stop-opacity="0.509"/><stop offset="0.220" stop-color="#1E9BA0" stop-opacity="0.509"/><stop offset="0.285" stop-color="#1E9BA0" stop-opacity="0.409"/><stop offset="0.518" stop-color="#1E9BA0" stop-opacity="0.347"/><stop offset="0.648" stop-color="#1E9BA0" stop-opacity="0.000"/><stop offset="1.000" stop-color="#1E9BA0" stop-opacity="0.000"/></linearGradient>
<linearGradient id="gb19" x1="0" x2="0" y1="0" y2="1"><stop offset="0.000" stop-color="#1E9BA0" stop-opacity="0.402"/><stop offset="0.019" stop-color="#1E9BA0" stop-opacity="0.437"/><stop offset="0.161" stop-color="#1E9BA0" stop-opacity="0.502"/><stop offset="0.265" stop-color="#1E9BA0" stop-opacity="0.502"/><stop offset="0.329" stop-color="#1E9BA0" stop-opacity="0.402"/><stop offset="0.524" stop-color="#1E9BA0" stop-opacity="0.342"/><stop offset="0.654" stop-color="#1E9BA0" stop-opacity="0.000"/><stop offset="1.000" stop-color="#1E9BA0" stop-opacity="0.000"/></linearGradient>
<linearGradient id="gb20" x1="0" x2="0" y1="0" y2="1"><stop offset="0.000" stop-color="#1E9BA0" stop-opacity="0.367"/><stop offset="0.078" stop-color="#1E9BA0" stop-opacity="0.419"/><stop offset="0.221" stop-color="#1E9BA0" stop-opacity="0.516"/><stop offset="0.324" stop-color="#1E9BA0" stop-opacity="0.516"/><stop offset="0.389" stop-color="#1E9BA0" stop-opacity="0.367"/><stop offset="0.571" stop-color="#1E9BA0" stop-opacity="0.312"/><stop offset="0.700" stop-color="#1E9BA0" stop-opacity="0.000"/><stop offset="1.000" stop-color="#1E9BA0" stop-opacity="0.000"/></linearGradient>
<linearGradient id="gb21" x1="0" x2="0" y1="0" y2="1"><stop offset="0.000" stop-color="#1E9BA0" stop-opacity="0.263"/><stop offset="0.141" stop-color="#1E9BA0" stop-opacity="0.344"/><stop offset="0.284" stop-color="#1E9BA0" stop-opacity="0.495"/><stop offset="0.387" stop-color="#1E9BA0" stop-opacity="0.495"/><stop offset="0.452" stop-color="#1E9BA0" stop-opacity="0.347"/><stop offset="0.657" stop-color="#1E9BA0" stop-opacity="0.295"/><stop offset="0.786" stop-color="#1E9BA0" stop-opacity="0.000"/><stop offset="1.000" stop-color="#1E9BA0" stop-opacity="0.000"/></linearGradient>
<linearGradient id="gb22" x1="0" x2="0" y1="0" y2="1"><stop offset="0.000" stop-color="#1E9BA0" stop-opacity="0.224"/><stop offset="0.188" stop-color="#1E9BA0" stop-opacity="0.324"/><stop offset="0.330" stop-color="#1E9BA0" stop-opacity="0.509"/><stop offset="0.434" stop-color="#1E9BA0" stop-opacity="0.509"/><stop offset="0.499" stop-color="#1E9BA0" stop-opacity="0.356"/><stop offset="0.665" stop-color="#1E9BA0" stop-opacity="0.303"/><stop offset="0.794" stop-color="#1E9BA0" stop-opacity="0.000"/><stop offset="1.000" stop-color="#1E9BA0" stop-opacity="0.000"/></linearGradient>
<linearGradient id="gb23" x1="0" x2="0" y1="0" y2="1"><stop offset="0.000" stop-color="#1E9BA0" stop-opacity="0.219"/><stop offset="0.219" stop-color="#1E9BA0" stop-opacity="0.317"/><stop offset="0.362" stop-color="#1E9BA0" stop-opacity="0.498"/><stop offset="0.465" stop-color="#1E9BA0" stop-opacity="0.498"/><stop offset="0.530" stop-color="#1E9BA0" stop-opacity="0.349"/><stop offset="0.672" stop-color="#1E9BA0" stop-opacity="0.297"/><stop offset="0.802" stop-color="#1E9BA0" stop-opacity="0.000"/><stop offset="1.000" stop-color="#1E9BA0" stop-opacity="0.000"/></linearGradient>
<linearGradient id="gb24" x1="0" x2="0" y1="0" y2="1"><stop offset="0.000" stop-color="#1E9BA0" stop-opacity="0.215"/><stop offset="0.245" stop-color="#1E9BA0" stop-opacity="0.310"/><stop offset="0.387" stop-color="#1E9BA0" stop-opacity="0.488"/><stop offset="0.491" stop-color="#1E9BA0" stop-opacity="0.488"/><stop offset="0.556" stop-color="#1E9BA0" stop-opacity="0.341"/><stop offset="0.680" stop-color="#1E9BA0" stop-opacity="0.290"/><stop offset="0.809" stop-color="#1E9BA0" stop-opacity="0.000"/><stop offset="1.000" stop-color="#1E9BA0" stop-opacity="0.000"/></linearGradient>
<linearGradient id="gb25" x1="0" x2="0" y1="0" y2="1"><stop offset="0.000" stop-color="#1E9BA0" stop-opacity="0.211"/><stop offset="0.252" stop-color="#1E9BA0" stop-opacity="0.306"/><stop offset="0.394" stop-color="#1E9BA0" stop-opacity="0.480"/><stop offset="0.498" stop-color="#1E9BA0" stop-opacity="0.480"/><stop offset="0.562" stop-color="#1E9BA0" stop-opacity="0.336"/><stop offset="0.687" stop-color="#1E9BA0" stop-opacity="0.286"/><stop offset="0.817" stop-color="#1E9BA0" stop-opacity="0.000"/><stop offset="1.000" stop-color="#1E9BA0" stop-opacity="0.000"/></linearGradient>
<linearGradient id="gb26" x1="0" x2="0" y1="0" y2="1"><stop offset="0.000" stop-color="#1E9BA0" stop-opacity="0.212"/><stop offset="0.241" stop-color="#1E9BA0" stop-opacity="0.307"/><stop offset="0.383" stop-color="#1E9BA0" stop-opacity="0.482"/><stop offset="0.487" stop-color="#1E9BA0" stop-opacity="0.482"/><stop offset="0.552" stop-color="#1E9BA0" stop-opacity="0.337"/><stop offset="0.695" stop-color="#1E9BA0" stop-opacity="0.287"/><stop offset="0.824" stop-color="#1E9BA0" stop-opacity="0.000"/><stop offset="1.000" stop-color="#1E9BA0" stop-opacity="0.000"/></linearGradient>
<linearGradient id="gb27" x1="0" x2="0" y1="0" y2="1"><stop offset="0.000" stop-color="#1E9BA0" stop-opacity="0.220"/><stop offset="0.227" stop-color="#1E9BA0" stop-opacity="0.318"/><stop offset="0.370" stop-color="#1E9BA0" stop-opacity="0.499"/><stop offset="0.473" stop-color="#1E9BA0" stop-opacity="0.499"/><stop offset="0.538" stop-color="#1E9BA0" stop-opacity="0.350"/><stop offset="0.703" stop-color="#1E9BA0" stop-opacity="0.297"/><stop offset="0.832" stop-color="#1E9BA0" stop-opacity="0.000"/><stop offset="1.000" stop-color="#1E9BA0" stop-opacity="0.000"/></linearGradient>
<linearGradient id="gb28" x1="0" x2="0" y1="0" y2="1"><stop offset="0.000" stop-color="#1E9BA0" stop-opacity="0.215"/><stop offset="0.216" stop-color="#1E9BA0" stop-opacity="0.311"/><stop offset="0.359" stop-color="#1E9BA0" stop-opacity="0.489"/><stop offset="0.462" stop-color="#1E9BA0" stop-opacity="0.489"/><stop offset="0.527" stop-color="#1E9BA0" stop-opacity="0.343"/><stop offset="0.710" stop-color="#1E9BA0" stop-opacity="0.291"/><stop offset="0.840" stop-color="#1E9BA0" stop-opacity="0.000"/><stop offset="1.000" stop-color="#1E9BA0" stop-opacity="0.000"/></linearGradient>
<linearGradient id="gb29" x1="0" x2="0" y1="0" y2="1"><stop offset="0.000" stop-color="#1E9BA0" stop-opacity="0.218"/><stop offset="0.221" stop-color="#1E9BA0" stop-opacity="0.316"/><stop offset="0.363" stop-color="#1E9BA0" stop-opacity="0.496"/><stop offset="0.467" stop-color="#1E9BA0" stop-opacity="0.496"/><stop offset="0.531" stop-color="#1E9BA0" stop-opacity="0.347"/><stop offset="0.718" stop-color="#1E9BA0" stop-opacity="0.295"/><stop offset="0.847" stop-color="#1E9BA0" stop-opacity="0.000"/><stop offset="1.000" stop-color="#1E9BA0" stop-opacity="0.000"/></linearGradient>
<linearGradient id="gb30" x1="0" x2="0" y1="0" y2="1"><stop offset="0.000" stop-color="#1E9BA0" stop-opacity="0.221"/><stop offset="0.213" stop-color="#1E9BA0" stop-opacity="0.319"/><stop offset="0.355" stop-color="#1E9BA0" stop-opacity="0.502"/><stop offset="0.459" stop-color="#1E9BA0" stop-opacity="0.502"/><stop offset="0.524" stop-color="#1E9BA0" stop-opacity="0.352"/><stop offset="0.723" stop-color="#1E9BA0" stop-opacity="0.299"/><stop offset="0.852" stop-color="#1E9BA0" stop-opacity="0.000"/><stop offset="1.000" stop-color="#1E9BA0" stop-opacity="0.000"/></linearGradient>
<linearGradient id="gb31" x1="0" x2="0" y1="0" y2="1"><stop offset="0.000" stop-color="#1E9BA0" stop-opacity="0.219"/><stop offset="0.210" stop-color="#1E9BA0" stop-opacity="0.316"/><stop offset="0.352" stop-color="#1E9BA0" stop-opacity="0.497"/><stop offset="0.456" stop-color="#1E9BA0" stop-opacity="0.497"/><stop offset="0.520" stop-color="#1E9BA0" stop-opacity="0.348"/><stop offset="0.725" stop-color="#1E9BA0" stop-opacity="0.296"/><stop offset="0.854" stop-color="#1E9BA0" stop-opacity="0.000"/><stop offset="1.000" stop-color="#1E9BA0" stop-opacity="0.000"/></linearGradient>
<linearGradient id="gb32" x1="0" x2="0" y1="0" y2="1"><stop offset="0.000" stop-color="#1E9BA0" stop-opacity="0.220"/><stop offset="0.214" stop-color="#1E9BA0" stop-opacity="0.318"/><stop offset="0.356" stop-color="#1E9BA0" stop-opacity="0.500"/><stop offset="0.460" stop-color="#1E9BA0" stop-opacity="0.500"/><stop offset="0.525" stop-color="#1E9BA0" stop-opacity="0.350"/><stop offset="0.727" stop-color="#1E9BA0" stop-opacity="0.297"/><stop offset="0.856" stop-color="#1E9BA0" stop-opacity="0.000"/><stop offset="1.000" stop-color="#1E9BA0" stop-opacity="0.000"/></linearGradient>
<linearGradient id="gb33" x1="0" x2="0" y1="0" y2="1"><stop offset="0.000" stop-color="#1E9BA0" stop-opacity="0.194"/><stop offset="0.227" stop-color="#1E9BA0" stop-opacity="0.296"/><stop offset="0.369" stop-color="#1E9BA0" stop-opacity="0.486"/><stop offset="0.473" stop-color="#1E9BA0" stop-opacity="0.486"/><stop offset="0.538" stop-color="#1E9BA0" stop-opacity="0.340"/><stop offset="0.728" stop-color="#1E9BA0" stop-opacity="0.289"/><stop offset="0.858" stop-color="#1E9BA0" stop-opacity="0.000"/><stop offset="1.000" stop-color="#1E9BA0" stop-opacity="0.000"/></linearGradient>
<linearGradient id="gb34" x1="0" x2="0" y1="0" y2="1"><stop offset="0.000" stop-color="#1E9BA0" stop-opacity="0.172"/><stop offset="0.228" stop-color="#1E9BA0" stop-opacity="0.279"/><stop offset="0.371" stop-color="#1E9BA0" stop-opacity="0.477"/><stop offset="0.474" stop-color="#1E9BA0" stop-opacity="0.477"/><stop offset="0.539" stop-color="#1E9BA0" stop-opacity="0.334"/><stop offset="0.730" stop-color="#1E9BA0" stop-opacity="0.284"/><stop offset="0.860" stop-color="#1E9BA0" stop-opacity="0.000"/><stop offset="1.000" stop-color="#1E9BA0" stop-opacity="0.000"/></linearGradient>
<linearGradient id="gb35" x1="0" x2="0" y1="0" y2="1"><stop offset="0.000" stop-color="#1E9BA0" stop-opacity="0.162"/><stop offset="0.240" stop-color="#1E9BA0" stop-opacity="0.272"/><stop offset="0.382" stop-color="#1E9BA0" stop-opacity="0.477"/><stop offset="0.486" stop-color="#1E9BA0" stop-opacity="0.477"/><stop offset="0.551" stop-color="#1E9BA0" stop-opacity="0.334"/><stop offset="0.732" stop-color="#1E9BA0" stop-opacity="0.284"/><stop offset="0.862" stop-color="#1E9BA0" stop-opacity="0.000"/><stop offset="1.000" stop-color="#1E9BA0" stop-opacity="0.000"/></linearGradient>
<linearGradient id="gb36" x1="0" x2="0" y1="0" y2="1"><stop offset="0.000" stop-color="#1E9BA0" stop-opacity="0.167"/><stop offset="0.252" stop-color="#1E9BA0" stop-opacity="0.280"/><stop offset="0.394" stop-color="#1E9BA0" stop-opacity="0.492"/><stop offset="0.497" stop-color="#1E9BA0" stop-opacity="0.492"/><stop offset="0.562" stop-color="#1E9BA0" stop-opacity="0.344"/><stop offset="0.734" stop-color="#1E9BA0" stop-opacity="0.293"/><stop offset="0.864" stop-color="#1E9BA0" stop-opacity="0.000"/><stop offset="1.000" stop-color="#1E9BA0" stop-opacity="0.000"/></linearGradient>
<linearGradient id="gb37" x1="0" x2="0" y1="0" y2="1"><stop offset="0.000" stop-color="#1E9BA0" stop-opacity="0.166"/><stop offset="0.261" stop-color="#1E9BA0" stop-opacity="0.281"/><stop offset="0.403" stop-color="#1E9BA0" stop-opacity="0.493"/><stop offset="0.507" stop-color="#1E9BA0" stop-opacity="0.493"/><stop offset="0.571" stop-color="#1E9BA0" stop-opacity="0.345"/><stop offset="0.736" stop-color="#1E9BA0" stop-opacity="0.293"/><stop offset="0.866" stop-color="#1E9BA0" stop-opacity="0.000"/><stop offset="1.000" stop-color="#1E9BA0" stop-opacity="0.000"/></linearGradient>
<linearGradient id="gb38" x1="0" x2="0" y1="0" y2="1"><stop offset="0.000" stop-color="#1E9BA0" stop-opacity="0.165"/><stop offset="0.261" stop-color="#1E9BA0" stop-opacity="0.279"/><stop offset="0.403" stop-color="#1E9BA0" stop-opacity="0.490"/><stop offset="0.507" stop-color="#1E9BA0" stop-opacity="0.490"/><stop offset="0.572" stop-color="#1E9BA0" stop-opacity="0.343"/><stop offset="0.738" stop-color="#1E9BA0" stop-opacity="0.291"/><stop offset="0.868" stop-color="#1E9BA0" stop-opacity="0.000"/><stop offset="1.000" stop-color="#1E9BA0" stop-opacity="0.000"/></linearGradient>
<linearGradient id="gb39" x1="0" x2="0" y1="0" y2="1"><stop offset="0.000" stop-color="#1E9BA0" stop-opacity="0.167"/><stop offset="0.262" stop-color="#1E9BA0" stop-opacity="0.282"/><stop offset="0.404" stop-color="#1E9BA0" stop-opacity="0.497"/><stop offset="0.508" stop-color="#1E9BA0" stop-opacity="0.497"/><stop offset="0.572" stop-color="#1E9BA0" stop-opacity="0.348"/><stop offset="0.740" stop-color="#1E9BA0" stop-opacity="0.295"/><stop offset="0.870" stop-color="#1E9BA0" stop-opacity="0.000"/><stop offset="1.000" stop-color="#1E9BA0" stop-opacity="0.000"/></linearGradient>
<linearGradient id="gb40" x1="0" x2="0" y1="0" y2="1"><stop offset="0.000" stop-color="#1E9BA0" stop-opacity="0.166"/><stop offset="0.273" stop-color="#1E9BA0" stop-opacity="0.282"/><stop offset="0.415" stop-color="#1E9BA0" stop-opacity="0.496"/><stop offset="0.519" stop-color="#1E9BA0" stop-opacity="0.496"/><stop offset="0.583" stop-color="#1E9BA0" stop-opacity="0.348"/><stop offset="0.743" stop-color="#1E9BA0" stop-opacity="0.295"/><stop offset="0.872" stop-color="#1E9BA0" stop-opacity="0.000"/><stop offset="1.000" stop-color="#1E9BA0" stop-opacity="0.000"/></linearGradient>
<linearGradient id="gb41" x1="0" x2="0" y1="0" y2="1"><stop offset="0.000" stop-color="#1E9BA0" stop-opacity="0.164"/><stop offset="0.295" stop-color="#1E9BA0" stop-opacity="0.279"/><stop offset="0.437" stop-color="#1E9BA0" stop-opacity="0.491"/><stop offset="0.540" stop-color="#1E9BA0" stop-opacity="0.491"/><stop offset="0.605" stop-color="#1E9BA0" stop-opacity="0.344"/><stop offset="0.746" stop-color="#1E9BA0" stop-opacity="0.292"/><stop offset="0.875" stop-color="#1E9BA0" stop-opacity="0.000"/><stop offset="1.000" stop-color="#1E9BA0" stop-opacity="0.000"/></linearGradient>
<linearGradient id="gb42" x1="0" x2="0" y1="0" y2="1"><stop offset="0.000" stop-color="#1E9BA0" stop-opacity="0.168"/><stop offset="0.323" stop-color="#1E9BA0" stop-opacity="0.286"/><stop offset="0.465" stop-color="#1E9BA0" stop-opacity="0.504"/><stop offset="0.569" stop-color="#1E9BA0" stop-opacity="0.504"/><stop offset="0.633" stop-color="#1E9BA0" stop-opacity="0.353"/><stop offset="0.749" stop-color="#1E9BA0" stop-opacity="0.300"/><stop offset="0.879" stop-color="#1E9BA0" stop-opacity="0.000"/><stop offset="1.000" stop-color="#1E9BA0" stop-opacity="0.000"/></linearGradient>
<linearGradient id="gb43" x1="0" x2="0" y1="0" y2="1"><stop offset="0.000" stop-color="#1E9BA0" stop-opacity="0.169"/><stop offset="0.355" stop-color="#1E9BA0" stop-opacity="0.288"/><stop offset="0.497" stop-color="#1E9BA0" stop-opacity="0.509"/><stop offset="0.601" stop-color="#1E9BA0" stop-opacity="0.509"/><stop offset="0.665" stop-color="#1E9BA0" stop-opacity="0.356"/><stop offset="0.752" stop-color="#1E9BA0" stop-opacity="0.303"/><stop offset="0.882" stop-color="#1E9BA0" stop-opacity="0.000"/><stop offset="1.000" stop-color="#1E9BA0" stop-opacity="0.000"/></linearGradient>
<linearGradient id="gb44" x1="0" x2="0" y1="0" y2="1"><stop offset="0.000" stop-color="#1E9BA0" stop-opacity="0.165"/><stop offset="0.387" stop-color="#1E9BA0" stop-opacity="0.281"/><stop offset="0.529" stop-color="#1E9BA0" stop-opacity="0.497"/><stop offset="0.633" stop-color="#1E9BA0" stop-opacity="0.497"/><stop offset="0.697" stop-color="#1E9BA0" stop-opacity="0.348"/><stop offset="0.756" stop-color="#1E9BA0" stop-opacity="0.296"/><stop offset="0.885" stop-color="#1E9BA0" stop-opacity="0.000"/><stop offset="1.000" stop-color="#1E9BA0" stop-opacity="0.000"/></linearGradient>
<linearGradient id="gb45" x1="0" x2="0" y1="0" y2="1"><stop offset="0.000" stop-color="#1E9BA0" stop-opacity="0.165"/><stop offset="0.410" stop-color="#1E9BA0" stop-opacity="0.283"/><stop offset="0.553" stop-color="#1E9BA0" stop-opacity="0.501"/><stop offset="0.656" stop-color="#1E9BA0" stop-opacity="0.501"/><stop offset="0.721" stop-color="#1E9BA0" stop-opacity="0.350"/><stop offset="0.759" stop-color="#1E9BA0" stop-opacity="0.298"/><stop offset="0.888" stop-color="#1E9BA0" stop-opacity="0.000"/><stop offset="1.000" stop-color="#1E9BA0" stop-opacity="0.000"/></linearGradient>
<linearGradient id="gb46" x1="0" x2="0" y1="0" y2="1"><stop offset="0.000" stop-color="#1E9BA0" stop-opacity="0.165"/><stop offset="0.432" stop-color="#1E9BA0" stop-opacity="0.283"/><stop offset="0.574" stop-color="#1E9BA0" stop-opacity="0.501"/><stop offset="0.678" stop-color="#1E9BA0" stop-opacity="0.501"/><stop offset="0.742" stop-color="#1E9BA0" stop-opacity="0.351"/><stop offset="0.762" stop-color="#1E9BA0" stop-opacity="0.298"/><stop offset="0.892" stop-color="#1E9BA0" stop-opacity="0.000"/><stop offset="1.000" stop-color="#1E9BA0" stop-opacity="0.000"/></linearGradient>
<linearGradient id="gb47" x1="0" x2="0" y1="0" y2="1"><stop offset="0.000" stop-color="#1E9BA0" stop-opacity="0.168"/><stop offset="0.452" stop-color="#1E9BA0" stop-opacity="0.289"/><stop offset="0.594" stop-color="#1E9BA0" stop-opacity="0.513"/><stop offset="0.698" stop-color="#1E9BA0" stop-opacity="0.513"/><stop offset="0.763" stop-color="#1E9BA0" stop-opacity="0.359"/><stop offset="0.765" stop-color="#1E9BA0" stop-opacity="0.305"/><stop offset="0.895" stop-color="#1E9BA0" stop-opacity="0.000"/><stop offset="1.000" stop-color="#1E9BA0" stop-opacity="0.000"/></linearGradient>
<linearGradient id="gb48" x1="0" x2="0" y1="0" y2="1"><stop offset="0.000" stop-color="#1E9BA0" stop-opacity="0.169"/><stop offset="0.467" stop-color="#1E9BA0" stop-opacity="0.290"/><stop offset="0.610" stop-color="#1E9BA0" stop-opacity="0.515"/><stop offset="0.713" stop-color="#1E9BA0" stop-opacity="0.515"/><stop offset="0.769" stop-color="#1E9BA0" stop-opacity="0.306"/><stop offset="0.778" stop-color="#1E9BA0" stop-opacity="0.360"/><stop offset="0.898" stop-color="#1E9BA0" stop-opacity="0.000"/><stop offset="1.000" stop-color="#1E9BA0" stop-opacity="0.000"/></linearGradient>
<linearGradient id="gb49" x1="0" x2="0" y1="0" y2="1"><stop offset="0.000" stop-color="#1E9BA0" stop-opacity="0.164"/><stop offset="0.480" stop-color="#1E9BA0" stop-opacity="0.282"/><stop offset="0.623" stop-color="#1E9BA0" stop-opacity="0.502"/><stop offset="0.726" stop-color="#1E9BA0" stop-opacity="0.502"/><stop offset="0.772" stop-color="#1E9BA0" stop-opacity="0.299"/><stop offset="0.791" stop-color="#1E9BA0" stop-opacity="0.352"/><stop offset="0.901" stop-color="#1E9BA0" stop-opacity="0.000"/><stop offset="1.000" stop-color="#1E9BA0" stop-opacity="0.000"/></linearGradient>
<linearGradient id="gb50" x1="0" x2="0" y1="0" y2="1"><stop offset="0.000" stop-color="#1E9BA0" stop-opacity="0.168"/><stop offset="0.497" stop-color="#1E9BA0" stop-opacity="0.290"/><stop offset="0.639" stop-color="#1E9BA0" stop-opacity="0.517"/><stop offset="0.743" stop-color="#1E9BA0" stop-opacity="0.517"/><stop offset="0.775" stop-color="#1E9BA0" stop-opacity="0.307"/><stop offset="0.808" stop-color="#1E9BA0" stop-opacity="0.362"/><stop offset="0.905" stop-color="#1E9BA0" stop-opacity="0.000"/><stop offset="1.000" stop-color="#1E9BA0" stop-opacity="0.000"/></linearGradient>
<linearGradient id="gb51" x1="0" x2="0" y1="0" y2="1"><stop offset="0.000" stop-color="#1E9BA0" stop-opacity="0.162"/><stop offset="0.510" stop-color="#1E9BA0" stop-opacity="0.279"/><stop offset="0.653" stop-color="#1E9BA0" stop-opacity="0.498"/><stop offset="0.756" stop-color="#1E9BA0" stop-opacity="0.498"/><stop offset="0.778" stop-color="#1E9BA0" stop-opacity="0.296"/><stop offset="0.821" stop-color="#1E9BA0" stop-opacity="0.348"/><stop offset="0.908" stop-color="#1E9BA0" stop-opacity="0.000"/><stop offset="1.000" stop-color="#1E9BA0" stop-opacity="0.000"/></linearGradient>
<linearGradient id="gb52" x1="0" x2="0" y1="0" y2="1"><stop offset="0.000" stop-color="#1E9BA0" stop-opacity="0.160"/><stop offset="0.513" stop-color="#1E9BA0" stop-opacity="0.278"/><stop offset="0.655" stop-color="#1E9BA0" stop-opacity="0.496"/><stop offset="0.759" stop-color="#1E9BA0" stop-opacity="0.496"/><stop offset="0.782" stop-color="#1E9BA0" stop-opacity="0.295"/><stop offset="0.823" stop-color="#1E9BA0" stop-opacity="0.347"/><stop offset="0.911" stop-color="#1E9BA0" stop-opacity="0.000"/><stop offset="1.000" stop-color="#1E9BA0" stop-opacity="0.000"/></linearGradient>
<linearGradient id="gb53" x1="0" x2="0" y1="0" y2="1"><stop offset="0.000" stop-color="#1E9BA0" stop-opacity="0.163"/><stop offset="0.511" stop-color="#1E9BA0" stop-opacity="0.283"/><stop offset="0.653" stop-color="#1E9BA0" stop-opacity="0.506"/><stop offset="0.757" stop-color="#1E9BA0" stop-opacity="0.506"/><stop offset="0.785" stop-color="#1E9BA0" stop-opacity="0.301"/><stop offset="0.822" stop-color="#1E9BA0" stop-opacity="0.354"/><stop offset="0.914" stop-color="#1E9BA0" stop-opacity="0.000"/><stop offset="1.000" stop-color="#1E9BA0" stop-opacity="0.000"/></linearGradient>
<linearGradient id="gb54" x1="0" x2="0" y1="0" y2="1"><stop offset="0.000" stop-color="#1E9BA0" stop-opacity="0.158"/><stop offset="0.508" stop-color="#1E9BA0" stop-opacity="0.275"/><stop offset="0.651" stop-color="#1E9BA0" stop-opacity="0.492"/><stop offset="0.754" stop-color="#1E9BA0" stop-opacity="0.492"/><stop offset="0.788" stop-color="#1E9BA0" stop-opacity="0.293"/><stop offset="0.819" stop-color="#1E9BA0" stop-opacity="0.345"/><stop offset="0.917" stop-color="#1E9BA0" stop-opacity="0.000"/><stop offset="1.000" stop-color="#1E9BA0" stop-opacity="0.000"/></linearGradient>
<linearGradient id="gb55" x1="0" x2="0" y1="0" y2="1"><stop offset="0.000" stop-color="#1E9BA0" stop-opacity="0.159"/><stop offset="0.504" stop-color="#1E9BA0" stop-opacity="0.276"/><stop offset="0.647" stop-color="#1E9BA0" stop-opacity="0.495"/><stop offset="0.750" stop-color="#1E9BA0" stop-opacity="0.495"/><stop offset="0.791" stop-color="#1E9BA0" stop-opacity="0.295"/><stop offset="0.815" stop-color="#1E9BA0" stop-opacity="0.347"/><stop offset="0.921" stop-color="#1E9BA0" stop-opacity="0.000"/><stop offset="1.000" stop-color="#1E9BA0" stop-opacity="0.000"/></linearGradient>
<linearGradient id="gb56" x1="0" x2="0" y1="0" y2="1"><stop offset="0.000" stop-color="#1E9BA0" stop-opacity="0.154"/><stop offset="0.505" stop-color="#1E9BA0" stop-opacity="0.269"/><stop offset="0.648" stop-color="#1E9BA0" stop-opacity="0.482"/><stop offset="0.751" stop-color="#1E9BA0" stop-opacity="0.482"/><stop offset="0.794" stop-color="#1E9BA0" stop-opacity="0.287"/><stop offset="0.816" stop-color="#1E9BA0" stop-opacity="0.338"/><stop offset="0.924" stop-color="#1E9BA0" stop-opacity="0.000"/><stop offset="1.000" stop-color="#1E9BA0" stop-opacity="0.000"/></linearGradient>
<linearGradient id="gb57" x1="0" x2="0" y1="0" y2="1"><stop offset="0.000" stop-color="#1E9BA0" stop-opacity="0.158"/><stop offset="0.514" stop-color="#1E9BA0" stop-opacity="0.276"/><stop offset="0.656" stop-color="#1E9BA0" stop-opacity="0.495"/><stop offset="0.760" stop-color="#1E9BA0" stop-opacity="0.495"/><stop offset="0.798" stop-color="#1E9BA0" stop-opacity="0.294"/><stop offset="0.825" stop-color="#1E9BA0" stop-opacity="0.346"/><stop offset="0.927" stop-color="#1E9BA0" stop-opacity="0.000"/><stop offset="1.000" stop-color="#1E9BA0" stop-opacity="0.000"/></linearGradient>
<linearGradient id="gb58" x1="0" x2="0" y1="0" y2="1"><stop offset="0.000" stop-color="#1E9BA0" stop-opacity="0.161"/><stop offset="0.528" stop-color="#1E9BA0" stop-opacity="0.281"/><stop offset="0.670" stop-color="#1E9BA0" stop-opacity="0.505"/><stop offset="0.774" stop-color="#1E9BA0" stop-opacity="0.505"/><stop offset="0.801" stop-color="#1E9BA0" stop-opacity="0.301"/><stop offset="0.838" stop-color="#1E9BA0" stop-opacity="0.354"/><stop offset="0.930" stop-color="#1E9BA0" stop-opacity="0.000"/><stop offset="1.000" stop-color="#1E9BA0" stop-opacity="0.000"/></linearGradient>
<linearGradient id="gb59" x1="0" x2="0" y1="0" y2="1"><stop offset="0.000" stop-color="#1E9BA0" stop-opacity="0.160"/><stop offset="0.541" stop-color="#1E9BA0" stop-opacity="0.281"/><stop offset="0.683" stop-color="#1E9BA0" stop-opacity="0.506"/><stop offset="0.787" stop-color="#1E9BA0" stop-opacity="0.506"/><stop offset="0.804" stop-color="#1E9BA0" stop-opacity="0.301"/><stop offset="0.852" stop-color="#1E9BA0" stop-opacity="0.354"/><stop offset="0.934" stop-color="#1E9BA0" stop-opacity="0.000"/><stop offset="1.000" stop-color="#1E9BA0" stop-opacity="0.000"/></linearGradient>
<linearGradient id="gb60" x1="0" x2="0" y1="0" y2="1"><stop offset="0.000" stop-color="#1E9BA0" stop-opacity="0.163"/><stop offset="0.550" stop-color="#1E9BA0" stop-opacity="0.286"/><stop offset="0.693" stop-color="#1E9BA0" stop-opacity="0.515"/><stop offset="0.796" stop-color="#1E9BA0" stop-opacity="0.515"/><stop offset="0.807" stop-color="#1E9BA0" stop-opacity="0.307"/><stop offset="0.861" stop-color="#1E9BA0" stop-opacity="0.361"/><stop offset="0.936" stop-color="#1E9BA0" stop-opacity="0.000"/><stop offset="1.000" stop-color="#1E9BA0" stop-opacity="0.000"/></linearGradient>
<linearGradient id="gb61" x1="0" x2="0" y1="0" y2="1"><stop offset="0.000" stop-color="#1E9BA0" stop-opacity="0.159"/><stop offset="0.553" stop-color="#1E9BA0" stop-opacity="0.279"/><stop offset="0.696" stop-color="#1E9BA0" stop-opacity="0.503"/><stop offset="0.799" stop-color="#1E9BA0" stop-opacity="0.503"/><stop offset="0.809" stop-color="#1E9BA0" stop-opacity="0.299"/><stop offset="0.864" stop-color="#1E9BA0" stop-opacity="0.352"/><stop offset="0.938" stop-color="#1E9BA0" stop-opacity="0.000"/><stop offset="1.000" stop-color="#1E9BA0" stop-opacity="0.000"/></linearGradient>
<linearGradient id="gb62" x1="0" x2="0" y1="0" y2="1"><stop offset="0.000" stop-color="#1E9BA0" stop-opacity="0.160"/><stop offset="0.552" stop-color="#1E9BA0" stop-opacity="0.282"/><stop offset="0.694" stop-color="#1E9BA0" stop-opacity="0.508"/><stop offset="0.798" stop-color="#1E9BA0" stop-opacity="0.508"/><stop offset="0.810" stop-color="#1E9BA0" stop-opacity="0.302"/><stop offset="0.863" stop-color="#1E9BA0" stop-opacity="0.356"/><stop offset="0.940" stop-color="#1E9BA0" stop-opacity="0.000"/><stop offset="1.000" stop-color="#1E9BA0" stop-opacity="0.000"/></linearGradient>
<linearGradient id="gb63" x1="0" x2="0" y1="0" y2="1"><stop offset="0.000" stop-color="#1E9BA0" stop-opacity="0.159"/><stop offset="0.551" stop-color="#1E9BA0" stop-opacity="0.281"/><stop offset="0.694" stop-color="#1E9BA0" stop-opacity="0.508"/><stop offset="0.797" stop-color="#1E9BA0" stop-opacity="0.508"/><stop offset="0.812" stop-color="#1E9BA0" stop-opacity="0.302"/><stop offset="0.862" stop-color="#1E9BA0" stop-opacity="0.356"/><stop offset="0.942" stop-color="#1E9BA0" stop-opacity="0.000"/><stop offset="1.000" stop-color="#1E9BA0" stop-opacity="0.000"/></linearGradient>
<linearGradient id="gb64" x1="0" x2="0" y1="0" y2="1"><stop offset="0.000" stop-color="#1E9BA0" stop-opacity="0.158"/><stop offset="0.553" stop-color="#1E9BA0" stop-opacity="0.281"/><stop offset="0.695" stop-color="#1E9BA0" stop-opacity="0.507"/><stop offset="0.799" stop-color="#1E9BA0" stop-opacity="0.507"/><stop offset="0.814" stop-color="#1E9BA0" stop-opacity="0.302"/><stop offset="0.864" stop-color="#1E9BA0" stop-opacity="0.355"/><stop offset="0.944" stop-color="#1E9BA0" stop-opacity="0.000"/><stop offset="1.000" stop-color="#1E9BA0" stop-opacity="0.000"/></linearGradient>
<linearGradient id="gb65" x1="0" x2="0" y1="0" y2="1"><stop offset="0.000" stop-color="#1E9BA0" stop-opacity="0.157"/><stop offset="0.561" stop-color="#1E9BA0" stop-opacity="0.278"/><stop offset="0.704" stop-color="#1E9BA0" stop-opacity="0.503"/><stop offset="0.807" stop-color="#1E9BA0" stop-opacity="0.503"/><stop offset="0.816" stop-color="#1E9BA0" stop-opacity="0.299"/><stop offset="0.872" stop-color="#1E9BA0" stop-opacity="0.352"/><stop offset="0.945" stop-color="#1E9BA0" stop-opacity="0.000"/><stop offset="1.000" stop-color="#1E9BA0" stop-opacity="0.000"/></linearGradient>
<linearGradient id="gb66" x1="0" x2="0" y1="0" y2="1"><stop offset="0.000" stop-color="#1E9BA0" stop-opacity="0.159"/><stop offset="0.573" stop-color="#1E9BA0" stop-opacity="0.283"/><stop offset="0.716" stop-color="#1E9BA0" stop-opacity="0.513"/><stop offset="0.818" stop-color="#1E9BA0" stop-opacity="0.305"/><stop offset="0.819" stop-color="#1E9BA0" stop-opacity="0.513"/><stop offset="0.884" stop-color="#1E9BA0" stop-opacity="0.359"/><stop offset="0.947" stop-color="#1E9BA0" stop-opacity="0.000"/><stop offset="1.000" stop-color="#1E9BA0" stop-opacity="0.000"/></linearGradient>
<linearGradient id="gb67" x1="0" x2="0" y1="0" y2="1"><stop offset="0.000" stop-color="#1E9BA0" stop-opacity="0.161"/><stop offset="0.588" stop-color="#1E9BA0" stop-opacity="0.288"/><stop offset="0.731" stop-color="#1E9BA0" stop-opacity="0.522"/><stop offset="0.820" stop-color="#1E9BA0" stop-opacity="0.310"/><stop offset="0.834" stop-color="#1E9BA0" stop-opacity="0.522"/><stop offset="0.899" stop-color="#1E9BA0" stop-opacity="0.365"/><stop offset="0.949" stop-color="#1E9BA0" stop-opacity="0.000"/><stop offset="1.000" stop-color="#1E9BA0" stop-opacity="0.000"/></linearGradient>
<linearGradient id="gb68" x1="0" x2="0" y1="0" y2="1"><stop offset="0.000" stop-color="#1E9BA0" stop-opacity="0.158"/><stop offset="0.602" stop-color="#1E9BA0" stop-opacity="0.282"/><stop offset="0.744" stop-color="#1E9BA0" stop-opacity="0.512"/><stop offset="0.822" stop-color="#1E9BA0" stop-opacity="0.305"/><stop offset="0.848" stop-color="#1E9BA0" stop-opacity="0.512"/><stop offset="0.912" stop-color="#1E9BA0" stop-opacity="0.359"/><stop offset="0.951" stop-color="#1E9BA0" stop-opacity="0.000"/><stop offset="1.000" stop-color="#1E9BA0" stop-opacity="0.000"/></linearGradient>
<linearGradient id="gb69" x1="0" x2="0" y1="0" y2="1"><stop offset="0.000" stop-color="#1E9BA0" stop-opacity="0.158"/><stop offset="0.613" stop-color="#1E9BA0" stop-opacity="0.282"/><stop offset="0.755" stop-color="#1E9BA0" stop-opacity="0.513"/><stop offset="0.823" stop-color="#1E9BA0" stop-opacity="0.305"/><stop offset="0.859" stop-color="#1E9BA0" stop-opacity="0.513"/><stop offset="0.923" stop-color="#1E9BA0" stop-opacity="0.359"/><stop offset="0.953" stop-color="#1E9BA0" stop-opacity="0.000"/><stop offset="1.000" stop-color="#1E9BA0" stop-opacity="0.000"/></linearGradient>
<linearGradient id="gb70" x1="0" x2="0" y1="0" y2="1"><stop offset="0.000" stop-color="#1E9BA0" stop-opacity="0.151"/><stop offset="0.621" stop-color="#1E9BA0" stop-opacity="0.271"/><stop offset="0.763" stop-color="#1E9BA0" stop-opacity="0.494"/><stop offset="0.825" stop-color="#1E9BA0" stop-opacity="0.294"/><stop offset="0.867" stop-color="#1E9BA0" stop-opacity="0.494"/><stop offset="0.932" stop-color="#1E9BA0" stop-opacity="0.345"/><stop offset="0.955" stop-color="#1E9BA0" stop-opacity="0.000"/><stop offset="1.000" stop-color="#1E9BA0" stop-opacity="0.000"/></linearGradient>
<linearGradient id="gb71" x1="0" x2="0" y1="0" y2="1"><stop offset="0.000" stop-color="#1E9BA0" stop-opacity="0.154"/><stop offset="0.627" stop-color="#1E9BA0" stop-opacity="0.276"/><stop offset="0.769" stop-color="#1E9BA0" stop-opacity="0.503"/><stop offset="0.827" stop-color="#1E9BA0" stop-opacity="0.299"/><stop offset="0.872" stop-color="#1E9BA0" stop-opacity="0.503"/><stop offset="0.937" stop-color="#1E9BA0" stop-opacity="0.352"/><stop offset="0.957" stop-color="#1E9BA0" stop-opacity="0.000"/><stop offset="1.000" stop-color="#1E9BA0" stop-opacity="0.000"/></linearGradient>
<linearGradient id="gb72" x1="0" x2="0" y1="0" y2="1"><stop offset="0.000" stop-color="#1E9BA0" stop-opacity="0.154"/><stop offset="0.630" stop-color="#1E9BA0" stop-opacity="0.277"/><stop offset="0.772" stop-color="#1E9BA0" stop-opacity="0.506"/><stop offset="0.829" stop-color="#1E9BA0" stop-opacity="0.301"/><stop offset="0.876" stop-color="#1E9BA0" stop-opacity="0.506"/><stop offset="0.940" stop-color="#1E9BA0" stop-opacity="0.354"/><stop offset="0.958" stop-color="#1E9BA0" stop-opacity="0.000"/><stop offset="1.000" stop-color="#1E9BA0" stop-opacity="0.000"/></linearGradient>
<linearGradient id="gb73" x1="0" x2="0" y1="0" y2="1"><stop offset="0.000" stop-color="#1E9BA0" stop-opacity="0.158"/><stop offset="0.632" stop-color="#1E9BA0" stop-opacity="0.284"/><stop offset="0.775" stop-color="#1E9BA0" stop-opacity="0.520"/><stop offset="0.831" stop-color="#1E9BA0" stop-opacity="0.309"/><stop offset="0.878" stop-color="#1E9BA0" stop-opacity="0.520"/><stop offset="0.943" stop-color="#1E9BA0" stop-opacity="0.364"/><stop offset="0.960" stop-color="#1E9BA0" stop-opacity="0.000"/><stop offset="1.000" stop-color="#1E9BA0" stop-opacity="0.000"/></linearGradient>
<linearGradient id="gb74" x1="0" x2="0" y1="0" y2="1"><stop offset="0.000" stop-color="#1E9BA0" stop-opacity="0.158"/><stop offset="0.635" stop-color="#1E9BA0" stop-opacity="0.285"/><stop offset="0.778" stop-color="#1E9BA0" stop-opacity="0.522"/><stop offset="0.833" stop-color="#1E9BA0" stop-opacity="0.311"/><stop offset="0.881" stop-color="#1E9BA0" stop-opacity="0.522"/><stop offset="0.946" stop-color="#1E9BA0" stop-opacity="0.365"/><stop offset="0.962" stop-color="#1E9BA0" stop-opacity="0.000"/><stop offset="1.000" stop-color="#1E9BA0" stop-opacity="0.000"/></linearGradient>
<linearGradient id="gb75" x1="0" x2="0" y1="0" y2="1"><stop offset="0.000" stop-color="#1E9BA0" stop-opacity="0.153"/><stop offset="0.638" stop-color="#1E9BA0" stop-opacity="0.277"/><stop offset="0.781" stop-color="#1E9BA0" stop-opacity="0.506"/><stop offset="0.834" stop-color="#1E9BA0" stop-opacity="0.301"/><stop offset="0.884" stop-color="#1E9BA0" stop-opacity="0.506"/><stop offset="0.949" stop-color="#1E9BA0" stop-opacity="0.354"/><stop offset="0.964" stop-color="#1E9BA0" stop-opacity="0.000"/><stop offset="1.000" stop-color="#1E9BA0" stop-opacity="0.000"/></linearGradient>
<linearGradient id="gb76" x1="0" x2="0" y1="0" y2="1"><stop offset="0.000" stop-color="#1E9BA0" stop-opacity="0.151"/><stop offset="0.640" stop-color="#1E9BA0" stop-opacity="0.273"/><stop offset="0.783" stop-color="#1E9BA0" stop-opacity="0.500"/><stop offset="0.836" stop-color="#1E9BA0" stop-opacity="0.298"/><stop offset="0.886" stop-color="#1E9BA0" stop-opacity="0.500"/><stop offset="0.951" stop-color="#1E9BA0" stop-opacity="0.350"/><stop offset="0.966" stop-color="#1E9BA0" stop-opacity="0.000"/><stop offset="1.000" stop-color="#1E9BA0" stop-opacity="0.000"/></linearGradient>
<linearGradient id="gb77" x1="0" x2="0" y1="0" y2="1"><stop offset="0.000" stop-color="#1E9BA0" stop-opacity="0.152"/><stop offset="0.642" stop-color="#1E9BA0" stop-opacity="0.275"/><stop offset="0.784" stop-color="#1E9BA0" stop-opacity="0.505"/><stop offset="0.838" stop-color="#1E9BA0" stop-opacity="0.301"/><stop offset="0.888" stop-color="#1E9BA0" stop-opacity="0.505"/><stop offset="0.953" stop-color="#1E9BA0" stop-opacity="0.354"/><stop offset="0.968" stop-color="#1E9BA0" stop-opacity="0.000"/><stop offset="1.000" stop-color="#1E9BA0" stop-opacity="0.000"/></linearGradient>
</defs>
<rect width="685" height="807" fill="#fff"/>
<rect x="59.0" y="27.3" width="246.5" height="147.7" fill="#fff" stroke="#b8b8b8" stroke-width="1"/>
<line x1="75.8" y1="27.3" x2="75.8" y2="175.0" stroke="#f1f1f1" stroke-width="0.8"/>
<line x1="119.6" y1="27.3" x2="119.6" y2="175.0" stroke="#f1f1f1" stroke-width="0.8"/>
<line x1="163.4" y1="27.3" x2="163.4" y2="175.0" stroke="#f1f1f1" stroke-width="0.8"/>
<line x1="207.2" y1="27.3" x2="207.2" y2="175.0" stroke="#f1f1f1" stroke-width="0.8"/>
<line x1="251.0" y1="27.3" x2="251.0" y2="175.0" stroke="#f1f1f1" stroke-width="0.8"/>
<line x1="294.8" y1="27.3" x2="294.8" y2="175.0" stroke="#f1f1f1" stroke-width="0.8"/>
<line x1="97.7" y1="27.3" x2="97.7" y2="175.0" stroke="#e4e4e4" stroke-width="1"/>
<line x1="141.5" y1="27.3" x2="141.5" y2="175.0" stroke="#e4e4e4" stroke-width="1"/>
<line x1="185.3" y1="27.3" x2="185.3" y2="175.0" stroke="#e4e4e4" stroke-width="1"/>
<line x1="229.1" y1="27.3" x2="229.1" y2="175.0" stroke="#e4e4e4" stroke-width="1"/>
<line x1="272.9" y1="27.3" x2="272.9" y2="175.0" stroke="#e4e4e4" stroke-width="1"/>
<line x1="59.0" y1="134.8" x2="305.5" y2="134.8" stroke="#f1f1f1" stroke-width="0.8"/>
<line x1="59.0" y1="67.2" x2="305.5" y2="67.2" stroke="#f1f1f1" stroke-width="0.8"/>
<line x1="59.0" y1="168.5" x2="305.5" y2="168.5" stroke="#e4e4e4" stroke-width="1"/>
<line x1="59.0" y1="101.0" x2="305.5" y2="101.0" stroke="#e4e4e4" stroke-width="1"/>
<line x1="59.0" y1="33.5" x2="305.5" y2="33.5" stroke="#e4e4e4" stroke-width="1"/>
<path d="M64.0,168.5 C65.3,168.4 69.3,168.8 72.0,168.2 C74.7,167.6 77.3,168.0 80.4,164.7 C83.5,161.4 87.3,156.1 90.7,148.3 C94.1,140.5 97.9,129.6 100.9,117.7 C104.0,105.8 106.8,86.7 109.0,76.8 C111.2,66.9 112.7,62.3 114.2,58.4 C115.7,54.5 116.7,53.3 118.2,53.3 C119.7,53.3 121.5,56.0 123.4,58.4 C125.3,60.8 127.3,64.5 129.5,67.6 C131.7,70.7 134.6,73.6 136.6,76.8 C138.6,80.0 140.1,83.1 141.7,87.0 C143.3,90.9 144.6,95.3 146.0,100.0 C147.4,104.7 148.5,110.0 150.0,115.0 C151.5,120.0 153.0,124.5 155.0,130.0 C157.0,135.5 159.5,143.0 162.0,148.0 C164.5,153.0 167.0,157.0 170.0,160.0 C173.0,163.0 176.7,164.6 180.0,166.0 C183.3,167.4 186.7,167.8 190.0,168.2 C193.3,168.6 198.3,168.4 200.0,168.5 Z" fill="#F8766D" fill-opacity="1"/>
<path d="M76.0,168.5 C78.3,168.4 86.0,168.4 90.0,167.8 C94.0,167.2 97.3,166.6 100.3,164.8 C103.3,163.0 105.6,160.1 108.1,156.9 C110.6,153.7 112.9,149.6 115.1,145.5 C117.3,141.4 119.1,137.5 121.3,132.4 C123.5,127.3 126.0,120.3 128.3,114.9 C130.6,109.5 133.2,104.7 135.3,100.0 C137.5,95.3 139.4,90.8 141.2,87.0 C143.0,83.2 144.5,80.1 146.0,77.0 C147.5,73.9 148.8,71.1 150.0,68.6 C151.2,66.1 152.3,63.4 153.5,62.0 C154.7,60.6 155.8,60.4 157.0,60.4 C158.2,60.4 159.3,60.6 160.5,62.0 C161.7,63.4 162.5,64.4 164.2,68.6 C165.8,72.8 168.3,79.8 170.4,87.0 C172.5,94.2 174.6,104.3 176.5,111.5 C178.4,118.7 180.1,124.8 182.0,130.0 C183.9,135.2 185.8,139.9 188.0,143.0 C190.2,146.1 192.2,147.2 195.0,148.5 C197.8,149.8 202.0,149.8 204.7,150.5 C207.4,151.2 208.9,151.8 211.0,153.0 C213.1,154.2 215.0,156.2 217.0,157.7 C219.0,159.2 220.9,160.7 223.0,162.0 C225.1,163.3 226.8,164.8 229.3,165.8 C231.8,166.8 234.6,167.6 238.0,168.0 C241.4,168.4 248.0,168.4 250.0,168.5 Z" fill="#BDBDBD" fill-opacity="0.82"/>
<path d="M76.0,168.5 C77.4,168.5 80.9,168.6 84.5,168.3 C88.1,168.1 93.7,168.2 97.6,167.0 C101.5,165.8 104.4,164.0 108.1,161.3 C111.8,158.6 116.1,154.6 119.5,150.8 C122.9,147.0 125.4,142.9 128.3,138.5 C131.2,134.1 134.4,128.4 137.0,124.5 C139.6,120.6 141.7,117.4 144.0,114.9 C146.3,112.5 149.0,110.8 151.0,109.8 C153.0,108.8 154.5,109.0 156.0,108.8 C157.5,108.6 158.3,108.5 160.1,108.7 C161.9,108.9 164.6,109.2 167.0,110.0 C169.4,110.8 172.5,112.5 174.4,113.6 C176.3,114.7 176.1,115.6 178.2,116.8 C180.2,118.0 183.6,119.4 186.7,120.5 C189.8,121.6 193.7,122.9 196.6,123.5 C199.5,124.1 201.6,123.9 204.0,124.0 C206.4,124.1 208.4,123.4 210.9,123.9 C213.4,124.4 215.9,125.0 219.0,127.0 C222.1,129.1 225.9,132.8 229.3,136.2 C232.7,139.6 235.8,143.7 239.5,147.4 C243.2,151.2 247.6,155.7 251.7,158.7 C255.8,161.7 259.9,163.9 264.0,165.4 C268.1,166.9 272.0,167.4 276.3,167.9 C280.6,168.4 287.4,168.4 289.6,168.5 Z" fill="#00BCC4" fill-opacity="0.9"/>
<line x1="58.5" y1="175.4" x2="306.0" y2="175.4" stroke="#444" stroke-width="1.1"/>
<line x1="97.7" y1="175.4" x2="97.7" y2="177.8" stroke="#444" stroke-width="0.9"/>
<line x1="141.5" y1="175.4" x2="141.5" y2="177.8" stroke="#444" stroke-width="0.9"/>
<line x1="185.3" y1="175.4" x2="185.3" y2="177.8" stroke="#444" stroke-width="0.9"/>
<line x1="229.1" y1="175.4" x2="229.1" y2="177.8" stroke="#444" stroke-width="0.9"/>
<line x1="272.9" y1="175.4" x2="272.9" y2="177.8" stroke="#444" stroke-width="0.9"/>
<line x1="56.6" y1="168.5" x2="59" y2="168.5" stroke="#666" stroke-width="0.9"/>
<line x1="56.6" y1="101.0" x2="59" y2="101.0" stroke="#666" stroke-width="0.9"/>
<line x1="56.6" y1="33.5" x2="59" y2="33.5" stroke="#666" stroke-width="0.9"/>
<path d="M94.3,58.2 L98.7,65.9 L115.7,68.2" fill="none" stroke="#222" stroke-width="0.9"/>
<path d="M181.7,68.6 L178.5,74.7 L162,80.7" fill="none" stroke="#222" stroke-width="0.9"/>
<path d="M211.9,109.2 L207.8,110.7 L197.6,124.6" fill="none" stroke="#222" stroke-width="0.9"/>
<text x="111.8" y="18.7" font-size="16.4" fill="#000" xml:space="preserve" textLength="141" lengthAdjust="spacingAndGlyphs">P-value  &lt;  2.2e-16</text>
<text x="263.3" y="42.6" font-size="12.6" fill="#F8766D" stroke="#F8766D" text-anchor="start"  textLength="38.3" lengthAdjust="spacingAndGlyphs">n = 98</text>
<text x="263.3" y="58.8" font-size="12.6" fill="#A3A3A3" stroke="#A3A3A3" text-anchor="start"  textLength="38.3" lengthAdjust="spacingAndGlyphs">n = 29</text>
<text x="263.3" y="75.2" font-size="12.6" fill="#17A2A6" stroke="#17A2A6" text-anchor="start"  textLength="38.3" lengthAdjust="spacingAndGlyphs">n = 27</text>
<text x="55.9" y="33.5" font-size="15.2" fill="#222" stroke="#222" text-anchor="middle" transform="rotate(-90 55.9 33.5)"  textLength="8.7" lengthAdjust="spacingAndGlyphs">1</text>
<text x="55.9" y="101.6" font-size="15.2" fill="#222" stroke="#222" text-anchor="middle" transform="rotate(-90 55.9 101.6)"  textLength="24.7" lengthAdjust="spacingAndGlyphs">0.5</text>
<text x="55.9" y="168.6" font-size="15.2" fill="#222" stroke="#222" text-anchor="middle" transform="rotate(-90 55.9 168.6)"  textLength="10.0" lengthAdjust="spacingAndGlyphs">0</text>
<text x="36.7" y="100.9" font-size="14.7" fill="#000" stroke="#000" text-anchor="middle" transform="rotate(-90 36.7 100.9)"  textLength="50.3" lengthAdjust="spacingAndGlyphs">Density</text>
<text x="97.7" y="189.9" font-size="14.8" fill="#222" stroke="#222" text-anchor="middle" >1</text>
<text x="141.5" y="189.9" font-size="14.8" fill="#222" stroke="#222" text-anchor="middle" >2</text>
<text x="185.3" y="189.9" font-size="14.8" fill="#222" stroke="#222" text-anchor="middle" >3</text>
<text x="229.1" y="189.9" font-size="14.8" fill="#222" stroke="#222" text-anchor="middle" >4</text>
<text x="272.9" y="189.9" font-size="14.8" fill="#222" stroke="#222" text-anchor="middle" >5</text>
<text x="108.3" y="207.4" font-size="14.8" fill="#000" stroke="#000" text-anchor="start"  textLength="140.0" lengthAdjust="spacingAndGlyphs">Log10 body mass (g)</text>
<g class="cal"><path d="M445.5,44.4 H429.6 V86.9 H445.5 M429.6,62 H413 V136.2 H446" fill="none" stroke="#111" stroke-width="2"/>
<rect x="448" y="20.5" width="112.5" height="39.8" fill="#E06262" stroke="#222" stroke-width="1.3"/>
<rect x="448" y="68.5" width="150" height="39.8" fill="#D3D3D3" stroke="#222" stroke-width="1.3"/>
<rect x="448" y="116.7" width="186.2" height="39.8" fill="#429292" stroke="#222" stroke-width="1.3"/>
<text x="455.3" y="48.9" font-size="18.0" fill="#111" stroke="#111" text-anchor="start"  textLength="102.5" lengthAdjust="spacingAndGlyphs">Myomorpha</text>
<text x="455.2" y="94.7" font-size="18.0" fill="#111" stroke="#111" text-anchor="start"  textLength="116.1" lengthAdjust="spacingAndGlyphs">Sciuromorpha</text>
<text x="455.4" y="141.6" font-size="18.0" fill="#fff" stroke="#fff" text-anchor="start"  textLength="132.6" lengthAdjust="spacingAndGlyphs">Hystricomorpha</text>
<line x1="447.3" y1="161.8" x2="605.8" y2="161.8" stroke="#444" stroke-width="1.4"/>
<line x1="448.0" y1="161.8" x2="448.0" y2="166.2" stroke="#444" stroke-width="1.2"/>
<line x1="479.5" y1="161.8" x2="479.5" y2="166.2" stroke="#444" stroke-width="1.2"/>
<line x1="511.0" y1="161.8" x2="511.0" y2="166.2" stroke="#444" stroke-width="1.2"/>
<line x1="542.5" y1="161.8" x2="542.5" y2="166.2" stroke="#444" stroke-width="1.2"/>
<line x1="574.0" y1="161.8" x2="574.0" y2="166.2" stroke="#444" stroke-width="1.2"/>
<line x1="605.5" y1="161.8" x2="605.5" y2="166.2" stroke="#444" stroke-width="1.2"/>
<text x="444.0" y="175.7" font-size="15.5" fill="#111" stroke="#111" text-anchor="start"  textLength="9.3" lengthAdjust="spacingAndGlyphs">0</text>
<text x="598.3" y="175.7" font-size="15.5" fill="#111" stroke="#111" text-anchor="start"  textLength="17.1" lengthAdjust="spacingAndGlyphs">50</text>
<text x="444.2" y="192.3" font-size="17.0" fill="#111" stroke="#111" text-anchor="start"  textLength="181.1" lengthAdjust="spacingAndGlyphs">Median body mass rate</text></g>
<g class="cal"><path d="M62.8,286.4 V281.6 H278.5 V286.4 M95.6,281.6 V286.4 M165.9,281.6 V286.4 M205.4,281.6 V286.4 M268.9,281.6 V286.4" fill="none" stroke="#111" stroke-width="1.5"/>
<text x="69.9" y="275.4" font-size="11.3" fill="#111" stroke="#111" text-anchor="start"  textLength="17.1" lengthAdjust="spacingAndGlyphs">Pal</text>
<text x="120.3" y="275.4" font-size="11.3" fill="#111" stroke="#111" text-anchor="start"  textLength="20.0" lengthAdjust="spacingAndGlyphs">Eoc</text>
<text x="176.3" y="275.4" font-size="11.3" fill="#111" stroke="#111" text-anchor="start"  textLength="15.9" lengthAdjust="spacingAndGlyphs">Oli</text>
<text x="225.3" y="275.4" font-size="11.3" fill="#111" stroke="#111" text-anchor="start"  textLength="22.7" lengthAdjust="spacingAndGlyphs">Mio</text>
<text x="265.8" y="275.4" font-size="11.3" fill="#111" stroke="#111" text-anchor="start"  textLength="13.2" lengthAdjust="spacingAndGlyphs">Pli</text>
<rect x="168.0" y="289.7" width="119.0" height="11.8" fill="url(#bg0)"/>
<rect x="190.0" y="295.5" width="97.0" height="5.5" fill="url(#bg1)"/>
<rect x="237.0" y="305.0" width="50.0" height="10.0" fill="url(#bg2)"/>
<rect x="242.0" y="316.0" width="45.0" height="4.0" fill="url(#bg3)"/>
<rect x="262.0" y="325.3" width="25.0" height="8.2" fill="url(#bg4)"/>
<rect x="258.0" y="333.5" width="29.0" height="6.5" fill="url(#bg5)"/>
<rect x="251.0" y="344.5" width="36.0" height="7.5" fill="url(#bg6)"/>
<rect x="242.0" y="353.0" width="45.0" height="12.0" fill="url(#bg7)"/>
<rect x="241.0" y="366.0" width="46.0" height="8.0" fill="url(#bg8)"/>
<rect x="225.0" y="374.0" width="62.0" height="4.0" fill="url(#bg9)"/>
<rect x="249.5" y="378.0" width="37.5" height="6.0" fill="url(#bg10)"/>
<rect x="264.0" y="386.0" width="23.0" height="11.0" fill="url(#bg11)"/>
<rect x="264.0" y="397.0" width="23.0" height="6.0" fill="url(#bg12)"/>
<rect x="237.0" y="677.5" width="19.0" height="9.5" fill="url(#bg13)"/>
<rect x="255.0" y="677.5" width="32.0" height="9.5" fill="url(#bg14)"/>
<rect x="253.7" y="409.0" width="33.3" height="3.5" fill="url(#bg15)"/>
<rect x="231.5" y="414.0" width="55.5" height="3.5" fill="url(#bg16)"/>
<rect x="239.1" y="418.0" width="47.9" height="3.5" fill="url(#bg17)"/>
<rect x="218.8" y="421.5" width="68.2" height="3.5" fill="url(#bg18)"/>
<rect x="259.8" y="425.0" width="27.2" height="3.5" fill="url(#bg19)"/>
<rect x="251.6" y="429.0" width="35.4" height="2.0" fill="url(#bg20)"/>
<rect x="254.5" y="431.0" width="32.5" height="2.5" fill="url(#bg21)"/>
<rect x="227.3" y="435.0" width="59.7" height="3.0" fill="url(#bg22)"/>
<rect x="231.0" y="438.5" width="56.0" height="3.0" fill="url(#bg23)"/>
<rect x="225.2" y="443.0" width="61.8" height="3.0" fill="url(#bg24)"/>
<rect x="219.5" y="446.0" width="67.5" height="3.0" fill="url(#bg25)"/>
<rect x="204.4" y="450.0" width="82.6" height="2.0" fill="url(#bg26)"/>
<rect x="252.5" y="453.5" width="34.5" height="2.0" fill="url(#bg27)"/>
<rect x="213.2" y="455.5" width="73.8" height="2.0" fill="url(#bg28)"/>
<rect x="223.3" y="457.5" width="63.7" height="3.5" fill="url(#bg29)"/>
<rect x="235.1" y="462.5" width="51.9" height="2.0" fill="url(#bg30)"/>
<rect x="205.4" y="465.5" width="81.6" height="3.0" fill="url(#bg31)"/>
<rect x="208.3" y="470.0" width="78.7" height="2.0" fill="url(#bg32)"/>
<rect x="228.8" y="472.0" width="58.2" height="2.0" fill="url(#bg33)"/>
<rect x="231.5" y="474.5" width="55.5" height="3.5" fill="url(#bg34)"/>
<rect x="239.9" y="478.5" width="47.1" height="3.5" fill="url(#bg35)"/>
<rect x="200.0" y="483.5" width="87.0" height="2.5" fill="url(#bg36)"/>
<rect x="213.1" y="487.0" width="73.9" height="2.0" fill="url(#bg37)"/>
<rect x="261.3" y="489.0" width="25.7" height="2.0" fill="url(#bg38)"/>
<rect x="247.9" y="492.0" width="39.1" height="2.0" fill="url(#bg39)"/>
<rect x="204.6" y="495.0" width="82.4" height="3.5" fill="url(#bg40)"/>
<rect x="237.3" y="499.0" width="49.7" height="2.0" fill="url(#bg41)"/>
<rect x="259.5" y="502.5" width="27.5" height="2.5" fill="url(#bg42)"/>
<rect x="211.3" y="505.5" width="75.7" height="3.5" fill="url(#bg43)"/>
<rect x="245.0" y="509.5" width="42.0" height="2.5" fill="url(#bg44)"/>
<rect x="254.7" y="512.5" width="32.3" height="3.5" fill="url(#bg45)"/>
<rect x="206.4" y="517.5" width="80.6" height="2.0" fill="url(#bg46)"/>
<rect x="245.9" y="520.5" width="41.1" height="2.5" fill="url(#bg47)"/>
<rect x="218.2" y="524.5" width="68.8" height="3.5" fill="url(#bg48)"/>
<rect x="214.2" y="528.0" width="72.8" height="2.5" fill="url(#bg49)"/>
<rect x="213.2" y="530.5" width="73.8" height="3.0" fill="url(#bg50)"/>
<rect x="216.7" y="533.5" width="70.3" height="2.0" fill="url(#bg51)"/>
<rect x="210.9" y="535.5" width="76.1" height="2.0" fill="url(#bg52)"/>
<rect x="222.5" y="538.0" width="64.5" height="2.0" fill="url(#bg53)"/>
<rect x="236.6" y="541.0" width="50.4" height="2.5" fill="url(#bg54)"/>
<rect x="243.5" y="545.0" width="43.5" height="3.0" fill="url(#bg55)"/>
<rect x="229.9" y="548.0" width="57.1" height="2.0" fill="url(#bg56)"/>
<rect x="262.0" y="551.0" width="25.0" height="2.5" fill="url(#bg57)"/>
<rect x="255.8" y="554.5" width="31.2" height="2.0" fill="url(#bg58)"/>
<rect x="221.8" y="557.0" width="65.2" height="3.0" fill="url(#bg59)"/>
<rect x="258.5" y="560.0" width="28.5" height="3.5" fill="url(#bg60)"/>
<rect x="238.7" y="565.0" width="48.3" height="2.0" fill="url(#bg61)"/>
<rect x="205.0" y="567.0" width="82.0" height="2.0" fill="url(#bg62)"/>
<rect x="245.1" y="570.0" width="41.9" height="3.5" fill="url(#bg63)"/>
<rect x="228.7" y="575.0" width="58.3" height="3.5" fill="url(#bg64)"/>
<rect x="237.3" y="578.5" width="49.7" height="3.0" fill="url(#bg65)"/>
<rect x="230.8" y="582.0" width="56.2" height="2.0" fill="url(#bg66)"/>
<rect x="255.6" y="585.5" width="31.4" height="3.0" fill="url(#bg67)"/>
<rect x="232.1" y="589.0" width="54.9" height="2.5" fill="url(#bg68)"/>
<rect x="230.9" y="592.5" width="56.1" height="3.5" fill="url(#bg69)"/>
<rect x="212.3" y="597.5" width="74.7" height="3.0" fill="url(#bg70)"/>
<rect x="223.8" y="601.0" width="63.2" height="2.5" fill="url(#bg71)"/>
<rect x="208.4" y="604.5" width="78.6" height="2.5" fill="url(#bg72)"/>
<rect x="258.9" y="607.0" width="28.1" height="2.0" fill="url(#bg73)"/>
<rect x="227.9" y="609.5" width="59.1" height="2.0" fill="url(#bg74)"/>
<rect x="223.7" y="612.0" width="63.3" height="3.5" fill="url(#bg75)"/>
<rect x="219.9" y="616.5" width="67.1" height="3.5" fill="url(#bg76)"/>
<rect x="242.1" y="621.0" width="44.9" height="2.0" fill="url(#bg77)"/>
<rect x="240.3" y="624.0" width="46.7" height="3.0" fill="url(#bg78)"/>
<rect x="228.2" y="627.5" width="58.8" height="3.5" fill="url(#bg79)"/>
<rect x="248.3" y="632.0" width="38.7" height="2.5" fill="url(#bg80)"/>
<rect x="206.8" y="634.5" width="80.2" height="3.5" fill="url(#bg81)"/>
<rect x="242.4" y="639.0" width="44.6" height="2.0" fill="url(#bg82)"/>
<rect x="211.1" y="642.5" width="75.9" height="3.0" fill="url(#bg83)"/>
<rect x="211.1" y="647.0" width="75.9" height="2.0" fill="url(#bg84)"/>
<rect x="224.4" y="650.0" width="62.6" height="2.5" fill="url(#bg85)"/>
<rect x="225.4" y="653.0" width="61.6" height="2.0" fill="url(#bg86)"/>
<rect x="227.9" y="656.5" width="59.1" height="2.5" fill="url(#bg87)"/>
<rect x="234.1" y="659.0" width="52.9" height="3.5" fill="url(#bg88)"/>
<rect x="220.2" y="663.5" width="66.8" height="3.5" fill="url(#bg89)"/>
<rect x="213.2" y="667.0" width="73.8" height="2.0" fill="url(#bg90)"/>
<rect x="233.3" y="669.0" width="53.7" height="3.0" fill="url(#bg91)"/>
<rect x="175.0" y="462.0" width="112.0" height="3.0" fill="url(#bg92)"/>
<rect x="250.0" y="471.0" width="37.0" height="3.0" fill="url(#bg93)"/>
<rect x="254.0" y="481.0" width="33.0" height="2.5" fill="url(#bg94)"/>
<rect x="262.0" y="526.0" width="25.0" height="2.5" fill="url(#bg95)"/>
<rect x="225.0" y="562.5" width="62.0" height="3.5" fill="url(#bg96)"/>
<rect x="240.0" y="571.0" width="47.0" height="2.5" fill="url(#bg97)"/>
<rect x="240.0" y="609.0" width="47.0" height="3.0" fill="url(#bg98)"/>
<rect x="250.0" y="644.5" width="37.0" height="2.5" fill="url(#bg99)"/>
<rect x="262.0" y="664.0" width="25.0" height="3.0" fill="url(#bg100)"/>
<rect x="237.0" y="681.0" width="18.0" height="2.5" fill="url(#bg101)"/>
<rect x="204.0" y="688.0" width="83.0" height="6.0" fill="url(#bg102)"/>
<rect x="215.0" y="694.0" width="72.0" height="5.0" fill="url(#bg103)"/>
<rect x="226.0" y="699.2" width="61.0" height="6.8" fill="url(#bg104)"/>
<rect x="232.0" y="706.0" width="55.0" height="10.0" fill="url(#bg105)"/>
<rect x="232.0" y="716.0" width="55.0" height="4.0" fill="url(#bg106)"/>
<rect x="257.0" y="720.5" width="30.0" height="6.5" fill="url(#bg107)"/>
<rect x="245.0" y="727.0" width="42.0" height="8.0" fill="url(#bg108)"/>
<rect x="222.0" y="735.0" width="65.0" height="3.5" fill="url(#bg109)"/>
<rect x="213.0" y="738.0" width="50.0" height="8.5" fill="url(#bg110)"/>
<rect x="262.0" y="738.0" width="25.0" height="8.5" fill="url(#bg111)"/>
<rect x="213.0" y="738.0" width="37.0" height="1.5" fill="url(#bg112)"/>
<rect x="213.0" y="747.0" width="74.0" height="9.0" fill="url(#bg113)"/>
<line x1="41.0" y1="371.3" x2="41.0" y2="735.4" stroke="#d6d6d6" stroke-width="2.2"/>
<line x1="40.0" y1="372.3" x2="48.9" y2="372.3" stroke="#d6d6d6" stroke-width="2.2"/>
<line x1="48.9" y1="308.8" x2="48.9" y2="436.5" stroke="#d6d6d6" stroke-width="2.2"/>
<line x1="47.9" y1="309.8" x2="87.0" y2="309.8" stroke="#dadada" stroke-width="2.2"/>
<line x1="87.0" y1="294.2" x2="87.0" y2="326.0" stroke="#dadada" stroke-width="2.2"/>
<line x1="86.0" y1="295.2" x2="168.5" y2="295.2" stroke="#e2e2e2" stroke-width="2.2"/>
<line x1="86.0" y1="325.0" x2="123.0" y2="325.0" stroke="#dadada" stroke-width="2.2"/>
<line x1="123.0" y1="301.5" x2="123.0" y2="346.8" stroke="#dadada" stroke-width="2.2"/>
<line x1="122.0" y1="302.8" x2="287.0" y2="302.8" stroke="#d2d2d2" stroke-width="2.2"/>
<line x1="122.0" y1="345.8" x2="162.8" y2="345.8" stroke="#dadada" stroke-width="2.2"/>
<line x1="162.8" y1="311.6" x2="162.8" y2="379.6" stroke="#dadada" stroke-width="2.2"/>
<line x1="161.8" y1="312.6" x2="172.4" y2="312.6" stroke="#dadada" stroke-width="2.2"/>
<line x1="172.4" y1="308.1" x2="172.4" y2="321.8" stroke="#dadada" stroke-width="2.2"/>
<line x1="171.4" y1="309.1" x2="221.4" y2="309.1" stroke="#dadada" stroke-width="2.2"/>
<line x1="221.4" y1="304.0" x2="221.4" y2="313.6" stroke="#dadada" stroke-width="2.2"/>
<line x1="220.4" y1="305.0" x2="287.0" y2="305.0" stroke="#e2e2e2" stroke-width="2.2"/>
<line x1="220.4" y1="312.6" x2="287.0" y2="312.6" stroke="#e2e2e2" stroke-width="2.2"/>
<line x1="171.4" y1="320.8" x2="287.0" y2="320.8" stroke="#e4e4e4" stroke-width="2.2"/>
<line x1="161.8" y1="378.6" x2="169.3" y2="378.6" stroke="#dadada" stroke-width="2.2"/>
<line x1="169.3" y1="355.3" x2="169.3" y2="394.3" stroke="#dadada" stroke-width="2.2"/>
<line x1="168.3" y1="356.3" x2="195.9" y2="356.3" stroke="#dadada" stroke-width="2.2"/>
<line x1="195.9" y1="330.6" x2="195.9" y2="367.6" stroke="#dadada" stroke-width="2.2"/>
<line x1="194.9" y1="331.6" x2="236.7" y2="331.6" stroke="#dadada" stroke-width="2.2"/>
<line x1="236.7" y1="321.4" x2="236.7" y2="341.6" stroke="#dadada" stroke-width="2.2"/>
<line x1="235.7" y1="322.8" x2="287.0" y2="322.8" stroke="#e4e4e4" stroke-width="2.2"/>
<line x1="235.7" y1="340.6" x2="248.0" y2="340.6" stroke="#dadada" stroke-width="2.2"/>
<line x1="248.0" y1="332.0" x2="248.0" y2="349.0" stroke="#dadada" stroke-width="2.2"/>
<line x1="247.0" y1="333.0" x2="256.5" y2="333.0" stroke="#dadada" stroke-width="2.2"/>
<line x1="256.5" y1="327.8" x2="256.5" y2="338.0" stroke="#dadada" stroke-width="2.2"/>
<line x1="247.0" y1="348.0" x2="287.0" y2="348.0" stroke="#e4e4e4" stroke-width="2.2"/>
<line x1="194.9" y1="358.4" x2="287.0" y2="358.4" stroke="#e6e6e6" stroke-width="2.2"/>
<line x1="194.9" y1="366.6" x2="287.0" y2="366.6" stroke="#e6e6e6" stroke-width="2.2"/>
<line x1="168.3" y1="370.9" x2="287.0" y2="370.9" stroke="#d0d0d0" stroke-width="2.2"/>
<line x1="168.3" y1="393.3" x2="183.6" y2="393.3" stroke="#dadada" stroke-width="2.2"/>
<line x1="183.6" y1="376.2" x2="183.6" y2="404.4" stroke="#dadada" stroke-width="2.2"/>
<line x1="182.6" y1="377.2" x2="214.3" y2="377.2" stroke="#dadada" stroke-width="2.2"/>
<line x1="214.3" y1="374.0" x2="214.3" y2="381.5" stroke="#dadada" stroke-width="2.2"/>
<line x1="213.3" y1="380.5" x2="287.0" y2="380.5" stroke="#c4c4c4" stroke-width="2.2"/>
<line x1="201.0" y1="384.0" x2="287.0" y2="384.0" stroke="#dadada" stroke-width="2.2"/>
<line x1="202.0" y1="383.0" x2="202.0" y2="396.2" stroke="#dadada" stroke-width="2.2"/>
<line x1="201.0" y1="395.2" x2="287.0" y2="395.2" stroke="#dcdcdc" stroke-width="2.2"/>
<line x1="182.6" y1="403.4" x2="287.0" y2="403.4" stroke="#d8d8d8" stroke-width="2.2"/>
<line x1="47.9" y1="413.7" x2="72.8" y2="413.7" stroke="#d6d6d6" stroke-width="2.2"/>
<line x1="72.8" y1="405.4" x2="72.8" y2="422.2" stroke="#d0d0d0" stroke-width="2.2"/>
<line x1="71.8" y1="421.2" x2="172.0" y2="421.2" stroke="#e4e4e4" stroke-width="2.2"/>
<line x1="172.0" y1="411.0" x2="172.0" y2="443.5" stroke="#e8e8e8" stroke-width="2.2"/>
<line x1="171.0" y1="412.0" x2="287.0" y2="412.0" stroke="#ececec" stroke-width="2.2"/>
<line x1="171.0" y1="442.5" x2="287.0" y2="442.5" stroke="#ebebeb" stroke-width="2.2"/>
<line x1="199.0" y1="427.0" x2="287.0" y2="427.0" stroke="#efefef" stroke-width="2.2"/>
<line x1="200.0" y1="420.0" x2="200.0" y2="434.0" stroke="#efefef" stroke-width="2.2"/>
<line x1="199.0" y1="433.5" x2="287.0" y2="433.5" stroke="#eeeeee" stroke-width="2.2"/>
<line x1="51.3" y1="412.7" x2="51.3" y2="467.2" stroke="#dadada" stroke-width="2.2"/>
<line x1="50.3" y1="444.5" x2="287.0" y2="444.5" stroke="#b8b8b8" stroke-width="2.2"/>
<line x1="50.3" y1="466.2" x2="101.2" y2="466.2" stroke="#e8e8e8" stroke-width="2.2"/>
<line x1="101.2" y1="454.3" x2="101.2" y2="478.4" stroke="#eeeeee" stroke-width="2.2"/>
<line x1="100.2" y1="455.3" x2="155.4" y2="455.3" stroke="#eeeeee" stroke-width="2.2"/>
<line x1="155.4" y1="450.2" x2="155.4" y2="460.4" stroke="#eeeeee" stroke-width="2.2"/>
<line x1="154.4" y1="451.2" x2="287.0" y2="451.2" stroke="#e8e8e8" stroke-width="2.2"/>
<line x1="154.4" y1="459.4" x2="287.0" y2="459.4" stroke="#ececec" stroke-width="2.2"/>
<line x1="100.2" y1="477.4" x2="132.9" y2="477.4" stroke="#eeeeee" stroke-width="2.2"/>
<line x1="132.9" y1="461.1" x2="132.9" y2="495.2" stroke="#eeeeee" stroke-width="2.2"/>
<line x1="131.9" y1="462.1" x2="287.0" y2="462.1" stroke="#ebebeb" stroke-width="2.2"/>
<line x1="131.9" y1="494.0" x2="163.4" y2="494.0" stroke="#eeeeee" stroke-width="2.2"/>
<line x1="163.4" y1="465.0" x2="163.4" y2="522.4" stroke="#eeeeee" stroke-width="2.2"/>
<line x1="162.4" y1="466.0" x2="287.0" y2="466.0" stroke="#e8e8e8" stroke-width="2.2"/>
<line x1="162.4" y1="521.4" x2="174.3" y2="521.4" stroke="#eeeeee" stroke-width="2.2"/>
<line x1="174.3" y1="468.6" x2="174.3" y2="573.3" stroke="#eeeeee" stroke-width="2.2"/>
<line x1="177.2" y1="539.2" x2="177.2" y2="604.0" stroke="#eeeeee" stroke-width="2.2"/>
<line x1="182.3" y1="467.9" x2="182.3" y2="475.0" stroke="#eeeeee" stroke-width="2.2"/>
<line x1="182.3" y1="508.0" x2="182.3" y2="571.9" stroke="#eeeeee" stroke-width="2.2"/>
<line x1="188.2" y1="489.0" x2="188.2" y2="547.0" stroke="#eeeeee" stroke-width="2.2"/>
<line x1="221.8" y1="478.0" x2="221.8" y2="500.5" stroke="#eeeeee" stroke-width="2.2"/>
<line x1="224.7" y1="490.5" x2="224.7" y2="507.8" stroke="#eeeeee" stroke-width="2.2"/>
<line x1="208.6" y1="527.0" x2="208.6" y2="566.0" stroke="#eeeeee" stroke-width="2.2"/>
<line x1="236.4" y1="527.0" x2="236.4" y2="548.5" stroke="#eeeeee" stroke-width="2.2"/>
<line x1="194.7" y1="571.3" x2="194.7" y2="598.9" stroke="#eeeeee" stroke-width="2.2"/>
<line x1="189.2" y1="583.7" x2="189.2" y2="621.4" stroke="#eeeeee" stroke-width="2.2"/>
<line x1="201.3" y1="589.6" x2="201.3" y2="606.2" stroke="#eeeeee" stroke-width="2.2"/>
<line x1="224.0" y1="579.4" x2="224.0" y2="603.3" stroke="#eeeeee" stroke-width="2.2"/>
<line x1="227.6" y1="574.3" x2="227.6" y2="587.2" stroke="#eeeeee" stroke-width="2.2"/>
<line x1="211.5" y1="607.8" x2="211.5" y2="633.8" stroke="#eeeeee" stroke-width="2.2"/>
<line x1="215.2" y1="610.7" x2="215.2" y2="672.5" stroke="#eeeeee" stroke-width="2.2"/>
<line x1="224.7" y1="624.5" x2="224.7" y2="647.0" stroke="#eeeeee" stroke-width="2.2"/>
<line x1="233.4" y1="616.5" x2="233.4" y2="635.3" stroke="#eeeeee" stroke-width="2.2"/>
<line x1="173.3" y1="469.6" x2="287.0" y2="469.6" stroke="#e4e4e4" stroke-width="2.2"/>
<line x1="181.3" y1="473.2" x2="287.0" y2="473.2" stroke="#e8e8e8" stroke-width="2.2"/>
<line x1="183.0" y1="476.2" x2="287.0" y2="476.2" stroke="#ececec" stroke-width="2.2"/>
<line x1="220.8" y1="479.0" x2="287.0" y2="479.0" stroke="#eaeaea" stroke-width="2.2"/>
<line x1="187.2" y1="490.0" x2="221.8" y2="490.0" stroke="#eeeeee" stroke-width="2.2"/>
<line x1="220.8" y1="499.5" x2="224.7" y2="499.5" stroke="#eeeeee" stroke-width="2.2"/>
<line x1="223.7" y1="491.5" x2="287.0" y2="491.5" stroke="#ececec" stroke-width="2.2"/>
<line x1="223.7" y1="506.8" x2="287.0" y2="506.8" stroke="#ececec" stroke-width="2.2"/>
<line x1="173.3" y1="509.0" x2="182.3" y2="509.0" stroke="#eeeeee" stroke-width="2.2"/>
<line x1="187.2" y1="511.2" x2="287.0" y2="511.2" stroke="#eaeaea" stroke-width="2.2"/>
<line x1="207.6" y1="528.0" x2="236.4" y2="528.0" stroke="#eeeeee" stroke-width="2.2"/>
<line x1="176.2" y1="540.2" x2="182.3" y2="540.2" stroke="#eeeeee" stroke-width="2.2"/>
<line x1="187.2" y1="546.0" x2="208.6" y2="546.0" stroke="#eeeeee" stroke-width="2.2"/>
<line x1="235.4" y1="547.5" x2="287.0" y2="547.5" stroke="#eaeaea" stroke-width="2.2"/>
<line x1="207.6" y1="565.0" x2="287.0" y2="565.0" stroke="#e8e8e8" stroke-width="2.2"/>
<line x1="181.3" y1="570.9" x2="287.0" y2="570.9" stroke="#e2e2e2" stroke-width="2.2"/>
<line x1="173.3" y1="572.3" x2="177.2" y2="572.3" stroke="#eeeeee" stroke-width="2.2"/>
<line x1="193.7" y1="573.6" x2="287.0" y2="573.6" stroke="#e0e0e0" stroke-width="2.2"/>
<line x1="223.0" y1="580.4" x2="227.6" y2="580.4" stroke="#eeeeee" stroke-width="2.2"/>
<line x1="188.2" y1="584.7" x2="194.7" y2="584.7" stroke="#eeeeee" stroke-width="2.2"/>
<line x1="200.3" y1="590.6" x2="224.0" y2="590.6" stroke="#eeeeee" stroke-width="2.2"/>
<line x1="193.7" y1="597.9" x2="201.3" y2="597.9" stroke="#eeeeee" stroke-width="2.2"/>
<line x1="223.0" y1="602.3" x2="287.0" y2="602.3" stroke="#e8e8e8" stroke-width="2.2"/>
<line x1="176.2" y1="603.0" x2="189.2" y2="603.0" stroke="#eeeeee" stroke-width="2.2"/>
<line x1="200.3" y1="605.2" x2="287.0" y2="605.2" stroke="#eaeaea" stroke-width="2.2"/>
<line x1="210.5" y1="608.8" x2="287.0" y2="608.8" stroke="#e4e4e4" stroke-width="2.2"/>
<line x1="214.2" y1="611.7" x2="287.0" y2="611.7" stroke="#dcdcdc" stroke-width="2.2"/>
<line x1="232.4" y1="617.5" x2="287.0" y2="617.5" stroke="#eaeaea" stroke-width="2.2"/>
<line x1="188.2" y1="620.4" x2="211.5" y2="620.4" stroke="#eeeeee" stroke-width="2.2"/>
<line x1="223.7" y1="625.5" x2="233.4" y2="625.5" stroke="#eeeeee" stroke-width="2.2"/>
<line x1="210.5" y1="632.8" x2="215.2" y2="632.8" stroke="#eeeeee" stroke-width="2.2"/>
<line x1="232.4" y1="634.3" x2="287.0" y2="634.3" stroke="#eaeaea" stroke-width="2.2"/>
<line x1="214.2" y1="635.0" x2="224.7" y2="635.0" stroke="#eeeeee" stroke-width="2.2"/>
<line x1="223.7" y1="646.0" x2="287.0" y2="646.0" stroke="#d8d8d8" stroke-width="2.2"/>
<line x1="214.2" y1="671.5" x2="287.0" y2="671.5" stroke="#e6e6e6" stroke-width="2.2"/>
<line x1="40.0" y1="734.4" x2="93.8" y2="734.4" stroke="#d6d6d6" stroke-width="2.2"/>
<line x1="93.8" y1="708.1" x2="93.8" y2="760.6" stroke="#c8c8c8" stroke-width="2.2"/>
<line x1="92.8" y1="759.6" x2="287.0" y2="759.6" stroke="#cfcfcf" stroke-width="2.2"/>
<line x1="92.8" y1="709.1" x2="129.0" y2="709.1" stroke="#bdbdbd" stroke-width="2.2"/>
<line x1="129.0" y1="683.3" x2="129.0" y2="734.5" stroke="#bdbdbd" stroke-width="2.2"/>
<line x1="128.0" y1="684.3" x2="217.1" y2="684.3" stroke="#bdbdbd" stroke-width="2.2"/>
<line x1="128.0" y1="733.5" x2="139.7" y2="733.5" stroke="#bdbdbd" stroke-width="2.2"/>
<line x1="139.7" y1="710.6" x2="139.7" y2="755.7" stroke="#bdbdbd" stroke-width="2.2"/>
<line x1="138.7" y1="711.6" x2="165.0" y2="711.6" stroke="#bdbdbd" stroke-width="2.2"/>
<line x1="165.0" y1="696.0" x2="165.0" y2="727.2" stroke="#bdbdbd" stroke-width="2.2"/>
<line x1="164.0" y1="697.0" x2="175.2" y2="697.0" stroke="#bdbdbd" stroke-width="2.2"/>
<line x1="175.2" y1="690.2" x2="175.2" y2="704.3" stroke="#bdbdbd" stroke-width="2.2"/>
<line x1="174.2" y1="691.2" x2="204.4" y2="691.2" stroke="#bdbdbd" stroke-width="2.2"/>
<line x1="174.2" y1="703.3" x2="196.6" y2="703.3" stroke="#bdbdbd" stroke-width="2.2"/>
<line x1="196.6" y1="695.3" x2="196.6" y2="710.7" stroke="#bdbdbd" stroke-width="2.2"/>
<line x1="195.6" y1="696.3" x2="287.0" y2="696.3" stroke="#c0c0c0" stroke-width="2.2"/>
<line x1="195.6" y1="709.7" x2="201.8" y2="709.7" stroke="#bdbdbd" stroke-width="2.2"/>
<line x1="201.8" y1="702.4" x2="201.8" y2="717.7" stroke="#bdbdbd" stroke-width="2.2"/>
<line x1="200.8" y1="703.4" x2="287.0" y2="703.4" stroke="#c4c4c4" stroke-width="2.2"/>
<line x1="200.8" y1="716.7" x2="287.0" y2="716.7" stroke="#cacaca" stroke-width="2.2"/>
<line x1="164.0" y1="726.2" x2="175.2" y2="726.2" stroke="#bdbdbd" stroke-width="2.2"/>
<line x1="175.2" y1="720.8" x2="175.2" y2="730.9" stroke="#bdbdbd" stroke-width="2.2"/>
<line x1="174.2" y1="721.8" x2="258.0" y2="721.8" stroke="#a8a8a8" stroke-width="2.2"/>
<line x1="174.2" y1="729.9" x2="188.3" y2="729.9" stroke="#bdbdbd" stroke-width="2.2"/>
<line x1="188.3" y1="725.2" x2="188.3" y2="740.8" stroke="#a8a8a8" stroke-width="2.2"/>
<line x1="187.3" y1="726.2" x2="258.0" y2="726.2" stroke="#9a9a9a" stroke-width="2.2"/>
<line x1="187.3" y1="739.8" x2="213.4" y2="739.8" stroke="#a0a0a0" stroke-width="2.2"/>
<line x1="138.7" y1="754.7" x2="150.7" y2="754.7" stroke="#bdbdbd" stroke-width="2.2"/>
<line x1="150.7" y1="751.5" x2="150.7" y2="758.6" stroke="#bdbdbd" stroke-width="2.2"/>
<line x1="149.7" y1="752.5" x2="287.0" y2="752.5" stroke="#d4d4d4" stroke-width="2.2"/>
<line x1="149.7" y1="757.6" x2="287.0" y2="757.6" stroke="#d0d0d0" stroke-width="2.2"/>
<line x1="204.4" y1="684.0" x2="204.4" y2="694.0" stroke="#bdbdbd" stroke-width="2.2"/>
<line x1="203.4" y1="689.5" x2="287.0" y2="689.5" stroke="#a0a0a0" stroke-width="2.2"/>
<line x1="217.1" y1="679.8" x2="217.1" y2="688.0" stroke="#bdbdbd" stroke-width="2.2"/>
<line x1="216.1" y1="680.8" x2="238.0" y2="680.8" stroke="#bbbbbb" stroke-width="2.2"/>
<rect x="72" y="405.2" width="215.0" height="2.6" fill="url(#darkl)"/>
<rect x="289.6" y="305.4" width="1.2" height="1.2" fill="#555"/>
<rect x="289.6" y="326.4" width="1.2" height="1.2" fill="#555"/>
<rect x="289.6" y="328.4" width="1.2" height="1.2" fill="#555"/>
<rect x="289.6" y="341.9" width="1.2" height="1.2" fill="#555"/>
<rect x="289.6" y="343.7" width="1.2" height="1.2" fill="#555"/>
<rect x="289.6" y="372.9" width="1.2" height="1.2" fill="#555"/>
<rect x="289.6" y="374.6" width="1.2" height="1.2" fill="#555"/>
<rect x="289.6" y="376.4" width="1.2" height="1.2" fill="#555"/>
<rect x="289.6" y="455.4" width="1.2" height="1.2" fill="#555"/>
<rect x="289.6" y="457.4" width="1.2" height="1.2" fill="#555"/>
<rect x="289.6" y="532.9" width="1.2" height="1.2" fill="#555"/>
<rect x="289.6" y="538.4" width="1.2" height="1.2" fill="#555"/>
<rect x="289.6" y="606.1" width="1.2" height="1.2" fill="#555"/>
<rect x="289.6" y="608.4" width="1.2" height="1.2" fill="#555"/>
<rect x="289.6" y="610.1" width="1.2" height="1.2" fill="#555"/>
<rect x="289.6" y="629.2" width="1.2" height="1.2" fill="#555"/>
<rect x="289.6" y="630.9" width="1.2" height="1.2" fill="#555"/>
<rect x="289.6" y="681.9" width="1.2" height="1.2" fill="#555"/>
<rect x="289.6" y="683.7" width="1.2" height="1.2" fill="#555"/>
<rect x="289.6" y="699.4" width="1.2" height="1.2" fill="#555"/>
<rect x="294" y="288.4" width="8.3" height="119.6" fill="#D3D3D3"/>
<rect x="294" y="408" width="8.3" height="267" fill="#F96767"/>
<rect x="294" y="675" width="8.3" height="87.8" fill="#17B3B3"/>
<text x="313.8" y="347.9" font-size="12.2" fill="#111" stroke="#111" text-anchor="middle" transform="rotate(-90 313.8 347.9)"  textLength="77.3" lengthAdjust="spacingAndGlyphs">Sciuromorpha</text>
<text x="313.8" y="530.6" font-size="12.2" fill="#F76B6B" stroke="#F76B6B" text-anchor="middle" transform="rotate(-90 313.8 530.6)"  textLength="67.9" lengthAdjust="spacingAndGlyphs">Myomorpha</text>
<text x="313.8" y="716.1" font-size="12.2" fill="#1A9E9E" stroke="#1A9E9E" text-anchor="middle" transform="rotate(-90 313.8 716.1)"  textLength="88.5" lengthAdjust="spacingAndGlyphs">Hystricomorpha</text>
<text x="59.3" y="377.0" font-size="12.4" fill="#a8a8a8" stroke="#a8a8a8" text-anchor="start"  textLength="56.1" lengthAdjust="spacingAndGlyphs">&#955;=6.8e-05</text>
<text x="60.2" y="542.2" font-size="12.4" fill="#F01E1E" stroke="#F01E1E" text-anchor="start"  textLength="37.8" lengthAdjust="spacingAndGlyphs">&#955;=1.04</text>
<text x="54.4" y="698.9" font-size="12.4" fill="#2A9A9A" stroke="#2A9A9A" text-anchor="start"  textLength="55.8" lengthAdjust="spacingAndGlyphs">&#955;=7.5e-05</text>
<rect x="18.8" y="484" width="10.5" height="110" fill="url(#cbar)" stroke="#000" stroke-width="1"/>
<text x="24.5" y="479.0" font-size="11.5" fill="#111" stroke="#111" text-anchor="middle" >4.74</text>
<text x="23.5" y="606.0" font-size="11.5" fill="#111" stroke="#111" text-anchor="middle" >0.77</text>
<text x="12.8" y="537.7" font-size="11.6" fill="#111" stroke="#111" text-anchor="middle" transform="rotate(-90 12.8 537.7)"  textLength="101.0" lengthAdjust="spacingAndGlyphs">Body mass (log10)</text>
<line x1="35.9" y1="764.5" x2="287.5" y2="764.5" stroke="#333" stroke-width="1.6"/>
<line x1="88.1" y1="764.5" x2="88.1" y2="767.2" stroke="#333" stroke-width="1"/>
<text x="82.5" y="777.1" font-size="12.6" fill="#111" stroke="#111" text-anchor="start"  textLength="14.0" lengthAdjust="spacingAndGlyphs">60</text>
<line x1="153.6" y1="764.5" x2="153.6" y2="767.2" stroke="#333" stroke-width="1"/>
<text x="145.4" y="777.1" font-size="12.6" fill="#111" stroke="#111" text-anchor="start"  textLength="13.5" lengthAdjust="spacingAndGlyphs">40</text>
<line x1="219.7" y1="764.5" x2="219.7" y2="767.2" stroke="#333" stroke-width="1"/>
<text x="211.0" y="777.1" font-size="12.6" fill="#111" stroke="#111" text-anchor="start"  textLength="14.5" lengthAdjust="spacingAndGlyphs">20</text>
<line x1="285.8" y1="764.5" x2="285.8" y2="767.2" stroke="#333" stroke-width="1"/>
<text x="283.0" y="777.1" font-size="12.6" fill="#111" stroke="#111" text-anchor="start"  textLength="6.6" lengthAdjust="spacingAndGlyphs">0</text>
<text x="73.6" y="796.0" font-size="16.5" fill="#111" stroke="#111" text-anchor="start"  textLength="191.2" lengthAdjust="spacingAndGlyphs">Time from present (Mya)</text></g>
<g class="cal"><path d="M456,280.7 V276.9 H625.4 V280.7 M482.3,276.9 V280.7 M537.2,276.9 V280.7 M568.5,276.9 V280.7 M618.7,276.9 V280.7" fill="none" stroke="#111" stroke-width="1.5"/>
<text x="462.3" y="270.4" font-size="11.6" fill="#111" stroke="#111" text-anchor="start"  textLength="16.2" lengthAdjust="spacingAndGlyphs">Pal</text>
<text x="503.1" y="270.4" font-size="11.6" fill="#111" stroke="#111" text-anchor="start"  textLength="19.7" lengthAdjust="spacingAndGlyphs">Eoc</text>
<text x="546.1" y="270.4" font-size="11.6" fill="#111" stroke="#111" text-anchor="start"  textLength="15.6" lengthAdjust="spacingAndGlyphs">Oli</text>
<text x="582.5" y="270.4" font-size="11.6" fill="#111" stroke="#111" text-anchor="start"  textLength="23.0" lengthAdjust="spacingAndGlyphs">Mio</text>
<text x="614.1" y="270.4" font-size="11.6" fill="#111" stroke="#111" text-anchor="start"  textLength="13.3" lengthAdjust="spacingAndGlyphs">Pli</text>
<rect x="473" y="282.0" width="2" height="158.0" fill="url(#gt0)"/>
<rect x="475" y="282.0" width="2" height="158.0" fill="url(#gt1)"/>
<rect x="477" y="282.0" width="2" height="158.0" fill="url(#gt2)"/>
<rect x="479" y="282.0" width="2" height="158.0" fill="url(#gt3)"/>
<rect x="481" y="282.0" width="2" height="158.0" fill="url(#gt4)"/>
<rect x="483" y="282.0" width="2" height="158.0" fill="url(#gt5)"/>
<rect x="485" y="282.0" width="2" height="158.0" fill="url(#gt6)"/>
<rect x="487" y="282.0" width="2" height="158.0" fill="url(#gt7)"/>
<rect x="489" y="282.0" width="2" height="158.0" fill="url(#gt8)"/>
<rect x="491" y="282.0" width="2" height="158.0" fill="url(#gt9)"/>
<rect x="493" y="282.0" width="2" height="158.0" fill="url(#gt10)"/>
<rect x="495" y="282.0" width="2" height="158.0" fill="url(#gt11)"/>
<rect x="497" y="282.0" width="2" height="158.0" fill="url(#gt12)"/>
<rect x="499" y="282.0" width="2" height="158.0" fill="url(#gt13)"/>
<rect x="501" y="282.0" width="2" height="158.0" fill="url(#gt14)"/>
<rect x="503" y="282.0" width="2" height="158.0" fill="url(#gt15)"/>
<rect x="505" y="282.0" width="2" height="158.0" fill="url(#gt16)"/>
<rect x="507" y="282.0" width="2" height="158.0" fill="url(#gt17)"/>
<rect x="509" y="282.0" width="2" height="158.0" fill="url(#gt18)"/>
<rect x="511" y="282.0" width="2" height="158.0" fill="url(#gt19)"/>
<rect x="513" y="282.0" width="2" height="158.0" fill="url(#gt20)"/>
<rect x="515" y="282.0" width="2" height="158.0" fill="url(#gt21)"/>
<rect x="517" y="282.0" width="2" height="158.0" fill="url(#gt22)"/>
<rect x="519" y="282.0" width="2" height="158.0" fill="url(#gt23)"/>
<rect x="521" y="282.0" width="2" height="158.0" fill="url(#gt24)"/>
<rect x="523" y="282.0" width="2" height="158.0" fill="url(#gt25)"/>
<rect x="525" y="282.0" width="2" height="158.0" fill="url(#gt26)"/>
<rect x="527" y="282.0" width="2" height="158.0" fill="url(#gt27)"/>
<rect x="529" y="282.0" width="2" height="158.0" fill="url(#gt28)"/>
<rect x="531" y="282.0" width="2" height="158.0" fill="url(#gt29)"/>
<rect x="533" y="282.0" width="2" height="158.0" fill="url(#gt30)"/>
<rect x="535" y="282.0" width="2" height="158.0" fill="url(#gt31)"/>
<rect x="537" y="282.0" width="2" height="158.0" fill="url(#gt32)"/>
<rect x="539" y="282.0" width="2" height="158.0" fill="url(#gt33)"/>
<rect x="541" y="282.0" width="2" height="158.0" fill="url(#gt34)"/>
<rect x="543" y="282.0" width="2" height="158.0" fill="url(#gt35)"/>
<rect x="545" y="282.0" width="2" height="158.0" fill="url(#gt36)"/>
<rect x="547" y="282.0" width="2" height="158.0" fill="url(#gt37)"/>
<rect x="549" y="282.0" width="2" height="158.0" fill="url(#gt38)"/>
<rect x="551" y="282.0" width="2" height="158.0" fill="url(#gt39)"/>
<rect x="553" y="282.0" width="2" height="158.0" fill="url(#gt40)"/>
<rect x="555" y="282.0" width="2" height="158.0" fill="url(#gt41)"/>
<rect x="557" y="282.0" width="2" height="158.0" fill="url(#gt42)"/>
<rect x="559" y="282.0" width="2" height="158.0" fill="url(#gt43)"/>
<rect x="561" y="282.0" width="2" height="158.0" fill="url(#gt44)"/>
<rect x="563" y="282.0" width="2" height="158.0" fill="url(#gt45)"/>
<rect x="565" y="282.0" width="2" height="158.0" fill="url(#gt46)"/>
<rect x="567" y="282.0" width="2" height="158.0" fill="url(#gt47)"/>
<rect x="569" y="282.0" width="2" height="158.0" fill="url(#gt48)"/>
<rect x="571" y="282.0" width="2" height="158.0" fill="url(#gt49)"/>
<rect x="573" y="282.0" width="2" height="158.0" fill="url(#gt50)"/>
<rect x="575" y="282.0" width="2" height="158.0" fill="url(#gt51)"/>
<rect x="577" y="282.0" width="2" height="158.0" fill="url(#gt52)"/>
<rect x="579" y="282.0" width="2" height="158.0" fill="url(#gt53)"/>
<rect x="581" y="282.0" width="2" height="158.0" fill="url(#gt54)"/>
<rect x="583" y="282.0" width="2" height="158.0" fill="url(#gt55)"/>
<rect x="585" y="282.0" width="2" height="158.0" fill="url(#gt56)"/>
<rect x="587" y="282.0" width="2" height="158.0" fill="url(#gt57)"/>
<rect x="589" y="282.0" width="2" height="158.0" fill="url(#gt58)"/>
<rect x="591" y="282.0" width="2" height="158.0" fill="url(#gt59)"/>
<rect x="593" y="282.0" width="2" height="158.0" fill="url(#gt60)"/>
<rect x="595" y="282.0" width="2" height="158.0" fill="url(#gt61)"/>
<rect x="597" y="282.0" width="2" height="158.0" fill="url(#gt62)"/>
<rect x="599" y="282.0" width="2" height="158.0" fill="url(#gt63)"/>
<rect x="601" y="282.0" width="2" height="158.0" fill="url(#gt64)"/>
<rect x="603" y="282.0" width="2" height="158.0" fill="url(#gt65)"/>
<rect x="605" y="282.0" width="2" height="158.0" fill="url(#gt66)"/>
<rect x="607" y="282.0" width="2" height="158.0" fill="url(#gt67)"/>
<rect x="609" y="282.0" width="2" height="158.0" fill="url(#gt68)"/>
<rect x="611" y="282.0" width="2" height="158.0" fill="url(#gt69)"/>
<rect x="613" y="282.0" width="2" height="158.0" fill="url(#gt70)"/>
<rect x="615" y="282.0" width="2" height="158.0" fill="url(#gt71)"/>
<rect x="617" y="282.0" width="2" height="158.0" fill="url(#gt72)"/>
<rect x="619" y="282.0" width="2" height="158.0" fill="url(#gt73)"/>
<rect x="621" y="282.0" width="2" height="158.0" fill="url(#gt74)"/>
<rect x="623" y="282.0" width="2" height="158.0" fill="url(#gt75)"/>
<rect x="625" y="282.0" width="2" height="158.0" fill="url(#gt76)"/>
<rect x="627" y="282.0" width="2" height="158.0" fill="url(#gt77)"/>
<rect x="629" y="282.0" width="2" height="158.0" fill="url(#gt78)"/>
<rect x="631" y="282.0" width="2" height="158.0" fill="url(#gt79)"/>
<rect x="445" y="448.0" width="2" height="152.0" fill="url(#gm0)"/>
<rect x="447" y="448.0" width="2" height="152.0" fill="url(#gm1)"/>
<rect x="449" y="448.0" width="2" height="152.0" fill="url(#gm2)"/>
<rect x="451" y="448.0" width="2" height="152.0" fill="url(#gm3)"/>
<rect x="453" y="448.0" width="2" height="152.0" fill="url(#gm4)"/>
<rect x="455" y="448.0" width="2" height="152.0" fill="url(#gm5)"/>
<rect x="457" y="448.0" width="2" height="152.0" fill="url(#gm6)"/>
<rect x="459" y="448.0" width="2" height="152.0" fill="url(#gm7)"/>
<rect x="461" y="448.0" width="2" height="152.0" fill="url(#gm8)"/>
<rect x="463" y="448.0" width="2" height="152.0" fill="url(#gm9)"/>
<rect x="465" y="448.0" width="2" height="152.0" fill="url(#gm10)"/>
<rect x="467" y="448.0" width="2" height="152.0" fill="url(#gm11)"/>
<rect x="469" y="448.0" width="2" height="152.0" fill="url(#gm12)"/>
<rect x="471" y="448.0" width="2" height="152.0" fill="url(#gm13)"/>
<rect x="473" y="448.0" width="2" height="152.0" fill="url(#gm14)"/>
<rect x="475" y="448.0" width="2" height="152.0" fill="url(#gm15)"/>
<rect x="477" y="448.0" width="2" height="152.0" fill="url(#gm16)"/>
<rect x="479" y="448.0" width="2" height="152.0" fill="url(#gm17)"/>
<rect x="481" y="448.0" width="2" height="152.0" fill="url(#gm18)"/>
<rect x="483" y="448.0" width="2" height="152.0" fill="url(#gm19)"/>
<rect x="485" y="448.0" width="2" height="152.0" fill="url(#gm20)"/>
<rect x="487" y="448.0" width="2" height="152.0" fill="url(#gm21)"/>
<rect x="489" y="448.0" width="2" height="152.0" fill="url(#gm22)"/>
<rect x="491" y="448.0" width="2" height="152.0" fill="url(#gm23)"/>
<rect x="493" y="448.0" width="2" height="152.0" fill="url(#gm24)"/>
<rect x="495" y="448.0" width="2" height="152.0" fill="url(#gm25)"/>
<rect x="497" y="448.0" width="2" height="152.0" fill="url(#gm26)"/>
<rect x="499" y="448.0" width="2" height="152.0" fill="url(#gm27)"/>
<rect x="501" y="448.0" width="2" height="152.0" fill="url(#gm28)"/>
<rect x="503" y="448.0" width="2" height="152.0" fill="url(#gm29)"/>
<rect x="505" y="448.0" width="2" height="152.0" fill="url(#gm30)"/>
<rect x="507" y="448.0" width="2" height="152.0" fill="url(#gm31)"/>
<rect x="509" y="448.0" width="2" height="152.0" fill="url(#gm32)"/>
<rect x="511" y="448.0" width="2" height="152.0" fill="url(#gm33)"/>
<rect x="513" y="448.0" width="2" height="152.0" fill="url(#gm34)"/>
<rect x="515" y="448.0" width="2" height="152.0" fill="url(#gm35)"/>
<rect x="517" y="448.0" width="2" height="152.0" fill="url(#gm36)"/>
<rect x="519" y="448.0" width="2" height="152.0" fill="url(#gm37)"/>
<rect x="521" y="448.0" width="2" height="152.0" fill="url(#gm38)"/>
<rect x="523" y="448.0" width="2" height="152.0" fill="url(#gm39)"/>
<rect x="525" y="448.0" width="2" height="152.0" fill="url(#gm40)"/>
<rect x="527" y="448.0" width="2" height="152.0" fill="url(#gm41)"/>
<rect x="529" y="448.0" width="2" height="152.0" fill="url(#gm42)"/>
<rect x="531" y="448.0" width="2" height="152.0" fill="url(#gm43)"/>
<rect x="533" y="448.0" width="2" height="152.0" fill="url(#gm44)"/>
<rect x="535" y="448.0" width="2" height="152.0" fill="url(#gm45)"/>
<rect x="537" y="448.0" width="2" height="152.0" fill="url(#gm46)"/>
<rect x="539" y="448.0" width="2" height="152.0" fill="url(#gm47)"/>
<rect x="541" y="448.0" width="2" height="152.0" fill="url(#gm48)"/>
<rect x="543" y="448.0" width="2" height="152.0" fill="url(#gm49)"/>
<rect x="545" y="448.0" width="2" height="152.0" fill="url(#gm50)"/>
<rect x="547" y="448.0" width="2" height="152.0" fill="url(#gm51)"/>
<rect x="549" y="448.0" width="2" height="152.0" fill="url(#gm52)"/>
<rect x="551" y="448.0" width="2" height="152.0" fill="url(#gm53)"/>
<rect x="553" y="448.0" width="2" height="152.0" fill="url(#gm54)"/>
<rect x="555" y="448.0" width="2" height="152.0" fill="url(#gm55)"/>
<rect x="557" y="448.0" width="2" height="152.0" fill="url(#gm56)"/>
<rect x="559" y="448.0" width="2" height="152.0" fill="url(#gm57)"/>
<rect x="561" y="448.0" width="2" height="152.0" fill="url(#gm58)"/>
<rect x="563" y="448.0" width="2" height="152.0" fill="url(#gm59)"/>
<rect x="565" y="448.0" width="2" height="152.0" fill="url(#gm60)"/>
<rect x="567" y="448.0" width="2" height="152.0" fill="url(#gm61)"/>
<rect x="569" y="448.0" width="2" height="152.0" fill="url(#gm62)"/>
<rect x="571" y="448.0" width="2" height="152.0" fill="url(#gm63)"/>
<rect x="573" y="448.0" width="2" height="152.0" fill="url(#gm64)"/>
<rect x="575" y="448.0" width="2" height="152.0" fill="url(#gm65)"/>
<rect x="577" y="448.0" width="2" height="152.0" fill="url(#gm66)"/>
<rect x="579" y="448.0" width="2" height="152.0" fill="url(#gm67)"/>
<rect x="581" y="448.0" width="2" height="152.0" fill="url(#gm68)"/>
<rect x="583" y="448.0" width="2" height="152.0" fill="url(#gm69)"/>
<rect x="585" y="448.0" width="2" height="152.0" fill="url(#gm70)"/>
<rect x="587" y="448.0" width="2" height="152.0" fill="url(#gm71)"/>
<rect x="589" y="448.0" width="2" height="152.0" fill="url(#gm72)"/>
<rect x="591" y="448.0" width="2" height="152.0" fill="url(#gm73)"/>
<rect x="593" y="448.0" width="2" height="152.0" fill="url(#gm74)"/>
<rect x="595" y="448.0" width="2" height="152.0" fill="url(#gm75)"/>
<rect x="597" y="448.0" width="2" height="152.0" fill="url(#gm76)"/>
<rect x="599" y="448.0" width="2" height="152.0" fill="url(#gm77)"/>
<rect x="601" y="448.0" width="2" height="152.0" fill="url(#gm78)"/>
<rect x="603" y="448.0" width="2" height="152.0" fill="url(#gm79)"/>
<rect x="605" y="448.0" width="2" height="152.0" fill="url(#gm80)"/>
<rect x="607" y="448.0" width="2" height="152.0" fill="url(#gm81)"/>
<rect x="609" y="448.0" width="2" height="152.0" fill="url(#gm82)"/>
<rect x="611" y="448.0" width="2" height="152.0" fill="url(#gm83)"/>
<rect x="613" y="448.0" width="2" height="152.0" fill="url(#gm84)"/>
<rect x="615" y="448.0" width="2" height="152.0" fill="url(#gm85)"/>
<rect x="617" y="448.0" width="2" height="152.0" fill="url(#gm86)"/>
<rect x="619" y="448.0" width="2" height="152.0" fill="url(#gm87)"/>
<rect x="621" y="448.0" width="2" height="152.0" fill="url(#gm88)"/>
<rect x="623" y="448.0" width="2" height="152.0" fill="url(#gm89)"/>
<rect x="625" y="448.0" width="2" height="152.0" fill="url(#gm90)"/>
<rect x="627" y="448.0" width="2" height="152.0" fill="url(#gm91)"/>
<rect x="629" y="448.0" width="2" height="152.0" fill="url(#gm92)"/>
<rect x="631" y="448.0" width="2" height="152.0" fill="url(#gm93)"/>
<rect x="633" y="448.0" width="2" height="152.0" fill="url(#gm94)"/>
<rect x="480" y="610.5" width="2" height="154.5" fill="url(#gb0)"/>
<rect x="482" y="610.5" width="2" height="154.5" fill="url(#gb1)"/>
<rect x="484" y="610.5" width="2" height="154.5" fill="url(#gb2)"/>
<rect x="486" y="610.5" width="2" height="154.5" fill="url(#gb3)"/>
<rect x="488" y="610.5" width="2" height="154.5" fill="url(#gb4)"/>
<rect x="490" y="610.5" width="2" height="154.5" fill="url(#gb5)"/>
<rect x="492" y="610.5" width="2" height="154.5" fill="url(#gb6)"/>
<rect x="494" y="610.5" width="2" height="154.5" fill="url(#gb7)"/>
<rect x="496" y="610.5" width="2" height="154.5" fill="url(#gb8)"/>
<rect x="498" y="610.5" width="2" height="154.5" fill="url(#gb9)"/>
<rect x="500" y="610.5" width="2" height="154.5" fill="url(#gb10)"/>
<rect x="502" y="610.5" width="2" height="154.5" fill="url(#gb11)"/>
<rect x="504" y="610.5" width="2" height="154.5" fill="url(#gb12)"/>
<rect x="506" y="610.5" width="2" height="154.5" fill="url(#gb13)"/>
<rect x="508" y="610.5" width="2" height="154.5" fill="url(#gb14)"/>
<rect x="510" y="610.5" width="2" height="154.5" fill="url(#gb15)"/>
<rect x="512" y="610.5" width="2" height="154.5" fill="url(#gb16)"/>
<rect x="514" y="610.5" width="2" height="154.5" fill="url(#gb17)"/>
<rect x="516" y="610.5" width="2" height="154.5" fill="url(#gb18)"/>
<rect x="518" y="610.5" width="2" height="154.5" fill="url(#gb19)"/>
<rect x="520" y="610.5" width="2" height="154.5" fill="url(#gb20)"/>
<rect x="522" y="610.5" width="2" height="154.5" fill="url(#gb21)"/>
<rect x="524" y="610.5" width="2" height="154.5" fill="url(#gb22)"/>
<rect x="526" y="610.5" width="2" height="154.5" fill="url(#gb23)"/>
<rect x="528" y="610.5" width="2" height="154.5" fill="url(#gb24)"/>
<rect x="530" y="610.5" width="2" height="154.5" fill="url(#gb25)"/>
<rect x="532" y="610.5" width="2" height="154.5" fill="url(#gb26)"/>
<rect x="534" y="610.5" width="2" height="154.5" fill="url(#gb27)"/>
<rect x="536" y="610.5" width="2" height="154.5" fill="url(#gb28)"/>
<rect x="538" y="610.5" width="2" height="154.5" fill="url(#gb29)"/>
<rect x="540" y="610.5" width="2" height="154.5" fill="url(#gb30)"/>
<rect x="542" y="610.5" width="2" height="154.5" fill="url(#gb31)"/>
<rect x="544" y="610.5" width="2" height="154.5" fill="url(#gb32)"/>
<rect x="546" y="610.5" width="2" height="154.5" fill="url(#gb33)"/>
<rect x="548" y="610.5" width="2" height="154.5" fill="url(#gb34)"/>
<rect x="550" y="610.5" width="2" height="154.5" fill="url(#gb35)"/>
<rect x="552" y="610.5" width="2" height="154.5" fill="url(#gb36)"/>
<rect x="554" y="610.5" width="2" height="154.5" fill="url(#gb37)"/>
<rect x="556" y="610.5" width="2" height="154.5" fill="url(#gb38)"/>
<rect x="558" y="610.5" width="2" height="154.5" fill="url(#gb39)"/>
<rect x="560" y="610.5" width="2" height="154.5" fill="url(#gb40)"/>
<rect x="562" y="610.5" width="2" height="154.5" fill="url(#gb41)"/>
<rect x="564" y="610.5" width="2" height="154.5" fill="url(#gb42)"/>
<rect x="566" y="610.5" width="2" height="154.5" fill="url(#gb43)"/>
<rect x="568" y="610.5" width="2" height="154.5" fill="url(#gb44)"/>
<rect x="570" y="610.5" width="2" height="154.5" fill="url(#gb45)"/>
<rect x="572" y="610.5" width="2" height="154.5" fill="url(#gb46)"/>
<rect x="574" y="610.5" width="2" height="154.5" fill="url(#gb47)"/>
<rect x="576" y="610.5" width="2" height="154.5" fill="url(#gb48)"/>
<rect x="578" y="610.5" width="2" height="154.5" fill="url(#gb49)"/>
<rect x="580" y="610.5" width="2" height="154.5" fill="url(#gb50)"/>
<rect x="582" y="610.5" width="2" height="154.5" fill="url(#gb51)"/>
<rect x="584" y="610.5" width="2" height="154.5" fill="url(#gb52)"/>
<rect x="586" y="610.5" width="2" height="154.5" fill="url(#gb53)"/>
<rect x="588" y="610.5" width="2" height="154.5" fill="url(#gb54)"/>
<rect x="590" y="610.5" width="2" height="154.5" fill="url(#gb55)"/>
<rect x="592" y="610.5" width="2" height="154.5" fill="url(#gb56)"/>
<rect x="594" y="610.5" width="2" height="154.5" fill="url(#gb57)"/>
<rect x="596" y="610.5" width="2" height="154.5" fill="url(#gb58)"/>
<rect x="598" y="610.5" width="2" height="154.5" fill="url(#gb59)"/>
<rect x="600" y="610.5" width="2" height="154.5" fill="url(#gb60)"/>
<rect x="602" y="610.5" width="2" height="154.5" fill="url(#gb61)"/>
<rect x="604" y="610.5" width="2" height="154.5" fill="url(#gb62)"/>
<rect x="606" y="610.5" width="2" height="154.5" fill="url(#gb63)"/>
<rect x="608" y="610.5" width="2" height="154.5" fill="url(#gb64)"/>
<rect x="610" y="610.5" width="2" height="154.5" fill="url(#gb65)"/>
<rect x="612" y="610.5" width="2" height="154.5" fill="url(#gb66)"/>
<rect x="614" y="610.5" width="2" height="154.5" fill="url(#gb67)"/>
<rect x="616" y="610.5" width="2" height="154.5" fill="url(#gb68)"/>
<rect x="618" y="610.5" width="2" height="154.5" fill="url(#gb69)"/>
<rect x="620" y="610.5" width="2" height="154.5" fill="url(#gb70)"/>
<rect x="622" y="610.5" width="2" height="154.5" fill="url(#gb71)"/>
<rect x="624" y="610.5" width="2" height="154.5" fill="url(#gb72)"/>
<rect x="626" y="610.5" width="2" height="154.5" fill="url(#gb73)"/>
<rect x="628" y="610.5" width="2" height="154.5" fill="url(#gb74)"/>
<rect x="630" y="610.5" width="2" height="154.5" fill="url(#gb75)"/>
<rect x="632" y="610.5" width="2" height="154.5" fill="url(#gb76)"/>
<rect x="634" y="610.5" width="1" height="154.5" fill="url(#gb77)"/>
<line x1="455.9" y1="277.0" x2="455.9" y2="443.3" stroke="#9a9a9a" stroke-width="0.8"/>
<line x1="482.4" y1="277.0" x2="482.4" y2="443.3" stroke="#9a9a9a" stroke-width="0.8"/>
<line x1="538.8" y1="277.0" x2="538.8" y2="443.3" stroke="#9a9a9a" stroke-width="0.8"/>
<line x1="569.5" y1="277.0" x2="569.5" y2="443.3" stroke="#9a9a9a" stroke-width="0.8"/>
<line x1="618.6" y1="277.0" x2="618.6" y2="443.3" stroke="#9a9a9a" stroke-width="0.8"/>
<line x1="627.6" y1="277.0" x2="627.6" y2="443.3" stroke="#9a9a9a" stroke-width="0.8"/>
<line x1="456.6" y1="443.3" x2="456.6" y2="605.8" stroke="#8c9ca8" stroke-width="0.8"/>
<line x1="483.6" y1="443.3" x2="483.6" y2="605.8" stroke="#8c9ca8" stroke-width="0.8"/>
<line x1="540.3" y1="443.3" x2="540.3" y2="605.8" stroke="#8c9ca8" stroke-width="0.8"/>
<line x1="570.8" y1="443.3" x2="570.8" y2="605.8" stroke="#8c9ca8" stroke-width="0.8"/>
<line x1="618.8" y1="443.3" x2="618.8" y2="605.8" stroke="#8c9ca8" stroke-width="0.8"/>
<line x1="628.6" y1="443.3" x2="628.6" y2="605.8" stroke="#8c9ca8" stroke-width="0.8"/>
<line x1="457.5" y1="605.8" x2="457.5" y2="770.3" stroke="#8c9ca8" stroke-width="0.8"/>
<line x1="484.5" y1="605.8" x2="484.5" y2="770.3" stroke="#8c9ca8" stroke-width="0.8"/>
<line x1="540.9" y1="605.8" x2="540.9" y2="770.3" stroke="#8c9ca8" stroke-width="0.8"/>
<line x1="571.7" y1="605.8" x2="571.7" y2="770.3" stroke="#8c9ca8" stroke-width="0.8"/>
<line x1="620.3" y1="605.8" x2="620.3" y2="770.3" stroke="#8c9ca8" stroke-width="0.8"/>
<line x1="629.2" y1="605.8" x2="629.2" y2="770.3" stroke="#8c9ca8" stroke-width="0.8"/>
<path d="M472.0,314.6 L475.3,329.9 L481.9,326.3 L484.1,337.2 L494.3,335.0 L498.7,355.5 L501.6,355.5 L502.3,334.3 L506.0,339.4 L522.0,336.5 L524.2,343.0 L531.5,343.8 L533.7,330.7 L538.1,328.5 L540.0,342.3 L542.0,331.4 L544.7,335.0 L548.8,353.4 L550.2,368.0 L553.1,378.2 L556.1,386.9 L558.2,387.7 L560.4,375.3 L561.9,381.8 L565.5,384.7 L568.5,388.4 L571.4,392.0 L575.0,393.5 L578.0,397.9 L582.3,397.9 L586.0,405.2 L591.1,406.6 L594.0,405.2 L597.7,411.8 L601.3,414.7 L604.2,419.0 L607.2,420.5 L610.1,419.3 L614.5,420.5 L617.4,423.4 L621.8,420.5 L626.1,424.2 L632.0,424.9" fill="none" stroke="#000" stroke-width="3.9" stroke-linejoin="round" stroke-linecap="round"/>
<path d="M443.9,507.4 L447.4,506.4 L450.5,521.7 L453.5,517.6 L458.6,518.7 L462.7,536.1 L469.9,535.0 L476.0,534.0 L480.1,536.1 L484.2,522.8 L486.3,536.1 L491.4,538.1 L495.5,542.8 L500.6,541.2 L505.7,540.1 L509.8,544.2 L515.9,545.3 L523.1,547.3 L526.2,549.4 L529.2,558.6 L534.4,550.4 L538.5,556.5 L542.2,570.7 L545.2,563.6 L548.3,567.7 L552.4,566.7 L555.4,555.4 L559.5,553.4 L565.7,555.4 L571.8,556.4 L575.9,557.5 L579.0,556.4 L582.0,561.5 L585.1,557.5 L589.2,563.6 L593.3,568.7 L596.3,574.8 L602.5,574.8 L606.6,578.9 L610.6,574.8 L616.8,575.9 L625.0,575.9 L634.2,577.5" fill="none" stroke="#9E2222" stroke-width="3.8" stroke-linejoin="round" stroke-linecap="round"/>
<path d="M479.5,630.7 L484.8,627.1 L493.2,622.9 L499.5,620.8 L502.7,630.3 L506.9,626.1 L511.1,625.0 L516.4,627.1 L519.5,647.1 L521.6,658.7 L523.7,660.8 L525.8,679.8 L534.3,679.8 L537.8,669.2 L540.7,669.2 L542.9,683.8 L545.5,669.0 L548.2,669.0 L552.0,685.7 L557.1,677.7 L562.4,683.0 L566.6,693.5 L569.8,704.1 L572.9,709.3 L576.1,707.2 L578.2,716.7 L582.4,718.8 L586.6,722.0 L590.8,716.7 L595.1,717.7 L598.2,725.1 L602.4,728.3 L605.6,724.1 L609.8,725.1 L615.1,731.4 L619.3,736.7 L625.6,737.8 L634.1,739.9" fill="none" stroke="#3A9C9C" stroke-width="4" stroke-linejoin="round" stroke-linecap="round"/>
<line x1="426.2" y1="285.4" x2="426.2" y2="438.5" stroke="#222" stroke-width="1.6"/>
<line x1="422.2" y1="285.4" x2="426.2" y2="285.4" stroke="#222" stroke-width="1.4"/>
<line x1="422.2" y1="310.9" x2="426.2" y2="310.9" stroke="#222" stroke-width="1.4"/>
<line x1="422.2" y1="336.4" x2="426.2" y2="336.4" stroke="#222" stroke-width="1.4"/>
<line x1="422.2" y1="361.9" x2="426.2" y2="361.9" stroke="#222" stroke-width="1.4"/>
<line x1="422.2" y1="387.5" x2="426.2" y2="387.5" stroke="#222" stroke-width="1.4"/>
<line x1="422.2" y1="413.0" x2="426.2" y2="413.0" stroke="#222" stroke-width="1.4"/>
<line x1="422.2" y1="438.5" x2="426.2" y2="438.5" stroke="#222" stroke-width="1.4"/>
<text x="401.8" y="291.0" font-size="12.2" fill="#111" stroke="#111" text-anchor="start"  textLength="20.4" lengthAdjust="spacingAndGlyphs">120</text>
<text x="421.8" y="440.0" font-size="12.4" fill="#111" stroke="#111" text-anchor="end" >0</text>
<line x1="426.4" y1="443.3" x2="634.5" y2="443.3" stroke="#222" stroke-width="1.6"/>
<line x1="470.5" y1="443.3" x2="470.5" y2="446.8" stroke="#222" stroke-width="1.3"/>
<line x1="524.8" y1="443.3" x2="524.8" y2="446.8" stroke="#222" stroke-width="1.3"/>
<line x1="578.6" y1="443.3" x2="578.6" y2="446.8" stroke="#222" stroke-width="1.3"/>
<line x1="632.5" y1="443.3" x2="632.5" y2="446.8" stroke="#222" stroke-width="1.3"/>
<line x1="427.0" y1="448.3" x2="427.0" y2="600.6" stroke="#222" stroke-width="1.6"/>
<line x1="423.0" y1="448.3" x2="427.0" y2="448.3" stroke="#222" stroke-width="1.4"/>
<line x1="423.0" y1="473.7" x2="427.0" y2="473.7" stroke="#222" stroke-width="1.4"/>
<line x1="423.0" y1="499.1" x2="427.0" y2="499.1" stroke="#222" stroke-width="1.4"/>
<line x1="423.0" y1="524.5" x2="427.0" y2="524.5" stroke="#222" stroke-width="1.4"/>
<line x1="423.0" y1="549.8" x2="427.0" y2="549.8" stroke="#222" stroke-width="1.4"/>
<line x1="423.0" y1="575.2" x2="427.0" y2="575.2" stroke="#222" stroke-width="1.4"/>
<line x1="423.0" y1="600.6" x2="427.0" y2="600.6" stroke="#222" stroke-width="1.4"/>
<text x="401.8" y="453.9" font-size="12.2" fill="#111" stroke="#111" text-anchor="start"  textLength="20.4" lengthAdjust="spacingAndGlyphs">120</text>
<text x="421.8" y="602.1" font-size="12.4" fill="#111" stroke="#111" text-anchor="end" >0</text>
<line x1="426.4" y1="605.8" x2="634.5" y2="605.8" stroke="#222" stroke-width="1.6"/>
<line x1="470.5" y1="605.8" x2="470.5" y2="609.3" stroke="#222" stroke-width="1.3"/>
<line x1="524.8" y1="605.8" x2="524.8" y2="609.3" stroke="#222" stroke-width="1.3"/>
<line x1="578.6" y1="605.8" x2="578.6" y2="609.3" stroke="#222" stroke-width="1.3"/>
<line x1="632.5" y1="605.8" x2="632.5" y2="609.3" stroke="#222" stroke-width="1.3"/>
<line x1="427.0" y1="612.7" x2="427.0" y2="765.0" stroke="#222" stroke-width="1.6"/>
<line x1="423.0" y1="612.7" x2="427.0" y2="612.7" stroke="#222" stroke-width="1.4"/>
<line x1="423.0" y1="638.1" x2="427.0" y2="638.1" stroke="#222" stroke-width="1.4"/>
<line x1="423.0" y1="663.5" x2="427.0" y2="663.5" stroke="#222" stroke-width="1.4"/>
<line x1="423.0" y1="688.9" x2="427.0" y2="688.9" stroke="#222" stroke-width="1.4"/>
<line x1="423.0" y1="714.2" x2="427.0" y2="714.2" stroke="#222" stroke-width="1.4"/>
<line x1="423.0" y1="739.6" x2="427.0" y2="739.6" stroke="#222" stroke-width="1.4"/>
<line x1="423.0" y1="765.0" x2="427.0" y2="765.0" stroke="#222" stroke-width="1.4"/>
<text x="401.8" y="618.3" font-size="12.2" fill="#111" stroke="#111" text-anchor="start"  textLength="20.4" lengthAdjust="spacingAndGlyphs">120</text>
<text x="421.8" y="769.0" font-size="12.4" fill="#111" stroke="#111" text-anchor="end" >0</text>
<line x1="426.4" y1="770.3" x2="634.5" y2="770.3" stroke="#222" stroke-width="1.6"/>
<line x1="470.5" y1="770.3" x2="470.5" y2="773.8" stroke="#222" stroke-width="1.3"/>
<line x1="524.8" y1="770.3" x2="524.8" y2="773.8" stroke="#222" stroke-width="1.3"/>
<line x1="578.6" y1="770.3" x2="578.6" y2="773.8" stroke="#222" stroke-width="1.3"/>
<line x1="632.5" y1="770.3" x2="632.5" y2="773.8" stroke="#222" stroke-width="1.3"/>
<text x="464.6" y="783.4" font-size="12.4" fill="#111" stroke="#111" text-anchor="start"  textLength="14.3" lengthAdjust="spacingAndGlyphs">60</text>
<text x="518.1" y="783.4" font-size="12.4" fill="#111" stroke="#111" text-anchor="start"  textLength="14.3" lengthAdjust="spacingAndGlyphs">40</text>
<text x="568.9" y="783.4" font-size="12.4" fill="#111" stroke="#111" text-anchor="start"  textLength="14.2" lengthAdjust="spacingAndGlyphs">20</text>
<text x="628.0" y="783.4" font-size="12.4" fill="#111" stroke="#111" text-anchor="start"  textLength="7.7" lengthAdjust="spacingAndGlyphs">0</text>
<text x="436.7" y="803.4" font-size="16.5" fill="#111" stroke="#111" text-anchor="start"  textLength="191.7" lengthAdjust="spacingAndGlyphs">Time from present (Mya)</text>
<text x="414.0" y="687.6" font-size="16.5" fill="#111" stroke="#111" text-anchor="middle" transform="rotate(-90 414.0 687.6)"  textLength="118.7" lengthAdjust="spacingAndGlyphs">Body mass rate</text>
<path d="M639.9,354.3 H645.9 V495.2 H639.9 M639.9,556.4 H645.9 V699 H639.9" fill="none" stroke="#222" stroke-width="1.3"/>
<text x="667.0" y="422.4" font-size="14.0" fill="#111" stroke="#111" text-anchor="middle" transform="rotate(-90 667.0 422.4)"  textLength="66.8" lengthAdjust="spacingAndGlyphs">P=2.2e-16</text>
<text x="667.0" y="623.5" font-size="14.0" fill="#111" stroke="#111" text-anchor="middle" transform="rotate(-90 667.0 623.5)"  textLength="67.4" lengthAdjust="spacingAndGlyphs">P=2.2e-16</text></g>
<svg x="68.0" y="35.0" width="42.0" height="23.0" viewBox="50 60 600 300" preserveAspectRatio="none" overflow="visible"><g fill="#fff" stroke="#1a1a1a" stroke-width="0.8" stroke-linecap="round" stroke-linejoin="round">
<path vector-effect="non-scaling-stroke" d="M490,72 C520,85 560,90 600,100 C620,115 615,140 590,155 C560,170 530,190 460,225 L470,190 C480,195 495,195 510,192 C560,180 610,160 630,130 C640,110 630,90 600,80 C570,72 530,68 490,68 Z" fill="#fff"/>
<path vector-effect="non-scaling-stroke" d="M140,165 C150,155 165,158 172,168 C190,162 220,158 245,160 C280,120 330,105 370,108 C410,112 440,150 470,190 L460,225 C420,250 380,270 330,290 C310,300 270,320 235,345 L215,335 C200,318 190,305 190,300 C175,305 160,312 135,310 C118,305 115,290 120,270 C125,230 130,190 140,165 Z"/>
<path vector-effect="non-scaling-stroke" d="M330,290 C360,275 400,255 440,250 C450,270 430,290 400,310 C380,325 350,330 340,320 C335,310 335,300 340,295 Z"/>
<path vector-effect="non-scaling-stroke" d="M215,185 C225,172 245,172 255,180 C262,195 258,215 245,222 C232,218 220,205 215,195 Z"/>
<path vector-effect="non-scaling-stroke" d="M205,300 C220,300 235,290 245,280" fill="none"/>
<path vector-effect="non-scaling-stroke" d="M325,200 C330,220 335,240 320,260" fill="none"/>
<path vector-effect="non-scaling-stroke" d="M60,265 L118,260 M70,235 L120,252 M65,290 L118,275" fill="none"/>
<ellipse cx="192" cy="245" rx="20" ry="20" fill="#000" stroke="none"/>
</g></svg>
<svg x="164.9" y="41.9" width="43.1" height="24.1" viewBox="45 50 605 280" preserveAspectRatio="none" overflow="visible"><g fill="#fff" stroke="#1a1a1a" stroke-width="0.8" stroke-linecap="round" stroke-linejoin="round">
<path vector-effect="non-scaling-stroke" d="M55,105 C65,80 100,62 140,60 C180,58 210,75 235,95 C280,92 330,88 380,92 C440,98 480,130 495,180 C505,220 505,270 500,310"/>
<path vector-effect="non-scaling-stroke" d="M55,105 C50,112 55,122 65,125 C90,135 130,160 160,200 C175,230 185,270 190,300" fill="none"/>
<path vector-effect="non-scaling-stroke" d="M165,305 C175,295 200,300 215,305" fill="none"/>
<path vector-effect="non-scaling-stroke" d="M245,170 C265,200 275,240 265,275 C260,290 250,300 240,305" fill="none"/>
<path vector-effect="non-scaling-stroke" d="M380,170 C345,170 320,200 318,240 C318,275 330,300 345,310" fill="none"/>
<path vector-effect="non-scaling-stroke" d="M160,312 L500,315" fill="none"/>
<path vector-effect="non-scaling-stroke" d="M500,262 C540,255 590,255 620,270 C645,285 640,305 620,312 C590,320 540,318 500,315"/>
<circle cx="122" cy="97" r="11" fill="#222" stroke="none"/>
<ellipse cx="185" cy="95" rx="12" ry="15" fill="#888" stroke="none"/>
</g></svg>
<svg x="214.6" y="95.3" width="45.3" height="22.5" viewBox="40 45 610 290" preserveAspectRatio="none" overflow="visible"><g fill="#fff" stroke="#1a1a1a" stroke-width="0.8" stroke-linecap="round" stroke-linejoin="round">
<path vector-effect="non-scaling-stroke" d="M60,160 C80,135 130,120 200,110 C240,80 300,60 370,58 C450,58 510,100 550,160 C575,200 600,230 625,250 C640,262 640,275 620,278 C600,280 570,275 550,265 C500,250 430,240 380,250 C350,260 330,275 300,290 C270,305 240,315 210,318 C180,315 150,300 95,295 C75,285 58,265 50,240 C42,210 45,180 60,160 Z"/>
<path vector-effect="non-scaling-stroke" d="M75,290 C80,300 100,305 115,298 M180,300 C185,315 205,322 225,318" fill="none"/>
<path vector-effect="non-scaling-stroke" d="M195,120 C220,125 245,150 260,175 C270,200 265,230 250,250" fill="none"/>
<path vector-effect="non-scaling-stroke" d="M110,210 C125,205 140,215 145,230 C140,245 125,250 115,240" fill="none"/>
<path vector-effect="non-scaling-stroke" d="M380,150 C395,180 400,210 390,240 M460,150 C475,180 480,210 470,235 M510,170 C520,195 520,215 510,235 M300,200 C310,230 305,260 290,280" fill="none"/>
<ellipse cx="225" cy="150" rx="20" ry="28" fill="#bbb" stroke="none"/>
<path vector-effect="non-scaling-stroke" d="M330,270 C345,262 365,262 380,270" fill="none"/>
</g></svg>
<svg x="565.2" y="25.0" width="55.4" height="29.7" viewBox="50 60 600 300" preserveAspectRatio="none" overflow="visible"><g fill="#fff" stroke="#1a1a1a" stroke-width="0.8" stroke-linecap="round" stroke-linejoin="round">
<path vector-effect="non-scaling-stroke" d="M490,72 C520,85 560,90 600,100 C620,115 615,140 590,155 C560,170 530,190 460,225 L470,190 C480,195 495,195 510,192 C560,180 610,160 630,130 C640,110 630,90 600,80 C570,72 530,68 490,68 Z" fill="#fff"/>
<path vector-effect="non-scaling-stroke" d="M140,165 C150,155 165,158 172,168 C190,162 220,158 245,160 C280,120 330,105 370,108 C410,112 440,150 470,190 L460,225 C420,250 380,270 330,290 C310,300 270,320 235,345 L215,335 C200,318 190,305 190,300 C175,305 160,312 135,310 C118,305 115,290 120,270 C125,230 130,190 140,165 Z"/>
<path vector-effect="non-scaling-stroke" d="M330,290 C360,275 400,255 440,250 C450,270 430,290 400,310 C380,325 350,330 340,320 C335,310 335,300 340,295 Z"/>
<path vector-effect="non-scaling-stroke" d="M215,185 C225,172 245,172 255,180 C262,195 258,215 245,222 C232,218 220,205 215,195 Z"/>
<path vector-effect="non-scaling-stroke" d="M205,300 C220,300 235,290 245,280" fill="none"/>
<path vector-effect="non-scaling-stroke" d="M325,200 C330,220 335,240 320,260" fill="none"/>
<path vector-effect="non-scaling-stroke" d="M60,265 L118,260 M70,235 L120,252 M65,290 L118,275" fill="none"/>
<ellipse cx="192" cy="245" rx="20" ry="20" fill="#000" stroke="none"/>
</g></svg>
<svg x="602.7" y="71.5" width="60.8" height="27.9" viewBox="45 50 605 280" preserveAspectRatio="none" overflow="visible"><g fill="#fff" stroke="#1a1a1a" stroke-width="0.8" stroke-linecap="round" stroke-linejoin="round">
<path vector-effect="non-scaling-stroke" d="M55,105 C65,80 100,62 140,60 C180,58 210,75 235,95 C280,92 330,88 380,92 C440,98 480,130 495,180 C505,220 505,270 500,310"/>
<path vector-effect="non-scaling-stroke" d="M55,105 C50,112 55,122 65,125 C90,135 130,160 160,200 C175,230 185,270 190,300" fill="none"/>
<path vector-effect="non-scaling-stroke" d="M165,305 C175,295 200,300 215,305" fill="none"/>
<path vector-effect="non-scaling-stroke" d="M245,170 C265,200 275,240 265,275 C260,290 250,300 240,305" fill="none"/>
<path vector-effect="non-scaling-stroke" d="M380,170 C345,170 320,200 318,240 C318,275 330,300 345,310" fill="none"/>
<path vector-effect="non-scaling-stroke" d="M160,312 L500,315" fill="none"/>
<path vector-effect="non-scaling-stroke" d="M500,262 C540,255 590,255 620,270 C645,285 640,305 620,312 C590,320 540,318 500,315"/>
<circle cx="122" cy="97" r="11" fill="#222" stroke="none"/>
<ellipse cx="185" cy="95" rx="12" ry="15" fill="#888" stroke="none"/>
</g></svg>
<svg x="639.7" y="121.8" width="52.0" height="25.4" viewBox="40 45 610 290" preserveAspectRatio="none" overflow="visible"><g fill="#fff" stroke="#1a1a1a" stroke-width="0.8" stroke-linecap="round" stroke-linejoin="round">
<path vector-effect="non-scaling-stroke" d="M60,160 C80,135 130,120 200,110 C240,80 300,60 370,58 C450,58 510,100 550,160 C575,200 600,230 625,250 C640,262 640,275 620,278 C600,280 570,275 550,265 C500,250 430,240 380,250 C350,260 330,275 300,290 C270,305 240,315 210,318 C180,315 150,300 95,295 C75,285 58,265 50,240 C42,210 45,180 60,160 Z"/>
<path vector-effect="non-scaling-stroke" d="M75,290 C80,300 100,305 115,298 M180,300 C185,315 205,322 225,318" fill="none"/>
<path vector-effect="non-scaling-stroke" d="M195,120 C220,125 245,150 260,175 C270,200 265,230 250,250" fill="none"/>
<path vector-effect="non-scaling-stroke" d="M110,210 C125,205 140,215 145,230 C140,245 125,250 115,240" fill="none"/>
<path vector-effect="non-scaling-stroke" d="M380,150 C395,180 400,210 390,240 M460,150 C475,180 480,210 470,235 M510,170 C520,195 520,215 510,235 M300,200 C310,230 305,260 290,280" fill="none"/>
<ellipse cx="225" cy="150" rx="20" ry="28" fill="#bbb" stroke="none"/>
<path vector-effect="non-scaling-stroke" d="M330,270 C345,262 365,262 380,270" fill="none"/>
</g></svg>
<svg x="325.8" y="339.7" width="68.9" height="30.9" viewBox="45 50 605 280" preserveAspectRatio="none" overflow="visible"><g fill="#fff" stroke="#1a1a1a" stroke-width="0.8" stroke-linecap="round" stroke-linejoin="round">
<path vector-effect="non-scaling-stroke" d="M55,105 C65,80 100,62 140,60 C180,58 210,75 235,95 C280,92 330,88 380,92 C440,98 480,130 495,180 C505,220 505,270 500,310"/>
<path vector-effect="non-scaling-stroke" d="M55,105 C50,112 55,122 65,125 C90,135 130,160 160,200 C175,230 185,270 190,300" fill="none"/>
<path vector-effect="non-scaling-stroke" d="M165,305 C175,295 200,300 215,305" fill="none"/>
<path vector-effect="non-scaling-stroke" d="M245,170 C265,200 275,240 265,275 C260,290 250,300 240,305" fill="none"/>
<path vector-effect="non-scaling-stroke" d="M380,170 C345,170 320,200 318,240 C318,275 330,300 345,310" fill="none"/>
<path vector-effect="non-scaling-stroke" d="M160,312 L500,315" fill="none"/>
<path vector-effect="non-scaling-stroke" d="M500,262 C540,255 590,255 620,270 C645,285 640,305 620,312 C590,320 540,318 500,315"/>
<circle cx="122" cy="97" r="11" fill="#222" stroke="none"/>
<ellipse cx="185" cy="95" rx="12" ry="15" fill="#888" stroke="none"/>
</g></svg>
<svg x="322.9" y="508.4" width="70.9" height="32.2" viewBox="50 60 600 300" preserveAspectRatio="none" overflow="visible"><g fill="#fff" stroke="#1a1a1a" stroke-width="0.8" stroke-linecap="round" stroke-linejoin="round">
<path vector-effect="non-scaling-stroke" d="M490,72 C520,85 560,90 600,100 C620,115 615,140 590,155 C560,170 530,190 460,225 L470,190 C480,195 495,195 510,192 C560,180 610,160 630,130 C640,110 630,90 600,80 C570,72 530,68 490,68 Z" fill="#fff"/>
<path vector-effect="non-scaling-stroke" d="M140,165 C150,155 165,158 172,168 C190,162 220,158 245,160 C280,120 330,105 370,108 C410,112 440,150 470,190 L460,225 C420,250 380,270 330,290 C310,300 270,320 235,345 L215,335 C200,318 190,305 190,300 C175,305 160,312 135,310 C118,305 115,290 120,270 C125,230 130,190 140,165 Z"/>
<path vector-effect="non-scaling-stroke" d="M330,290 C360,275 400,255 440,250 C450,270 430,290 400,310 C380,325 350,330 340,320 C335,310 335,300 340,295 Z"/>
<path vector-effect="non-scaling-stroke" d="M215,185 C225,172 245,172 255,180 C262,195 258,215 245,222 C232,218 220,205 215,195 Z"/>
<path vector-effect="non-scaling-stroke" d="M205,300 C220,300 235,290 245,280" fill="none"/>
<path vector-effect="non-scaling-stroke" d="M325,200 C330,220 335,240 320,260" fill="none"/>
<path vector-effect="non-scaling-stroke" d="M60,265 L118,260 M70,235 L120,252 M65,290 L118,275" fill="none"/>
<ellipse cx="192" cy="245" rx="20" ry="20" fill="#000" stroke="none"/>
</g></svg>
<svg x="326.1" y="690.7" width="59.8" height="28.1" viewBox="40 45 610 290" preserveAspectRatio="none" overflow="visible"><g fill="#fff" stroke="#1a1a1a" stroke-width="0.8" stroke-linecap="round" stroke-linejoin="round">
<path vector-effect="non-scaling-stroke" d="M60,160 C80,135 130,120 200,110 C240,80 300,60 370,58 C450,58 510,100 550,160 C575,200 600,230 625,250 C640,262 640,275 620,278 C600,280 570,275 550,265 C500,250 430,240 380,250 C350,260 330,275 300,290 C270,305 240,315 210,318 C180,315 150,300 95,295 C75,285 58,265 50,240 C42,210 45,180 60,160 Z"/>
<path vector-effect="non-scaling-stroke" d="M75,290 C80,300 100,305 115,298 M180,300 C185,315 205,322 225,318" fill="none"/>
<path vector-effect="non-scaling-stroke" d="M195,120 C220,125 245,150 260,175 C270,200 265,230 250,250" fill="none"/>
<path vector-effect="non-scaling-stroke" d="M110,210 C125,205 140,215 145,230 C140,245 125,250 115,240" fill="none"/>
<path vector-effect="non-scaling-stroke" d="M380,150 C395,180 400,210 390,240 M460,150 C475,180 480,210 470,235 M510,170 C520,195 520,215 510,235 M300,200 C310,230 305,260 290,280" fill="none"/>
<ellipse cx="225" cy="150" rx="20" ry="28" fill="#bbb" stroke="none"/>
<path vector-effect="non-scaling-stroke" d="M330,270 C345,262 365,262 380,270" fill="none"/>
</g></svg>
<text transform="translate(-3.5 19.2) scale(1.07 1)" font-size="31.3" font-weight="bold" fill="#000">a</text>
<text transform="translate(-1.2 264.0) scale(1.07 1)" font-size="31.3" font-weight="bold" fill="#000">b</text>
<text transform="translate(377.5 17.0) scale(1.07 1)" font-size="31.3" font-weight="bold" fill="#000">c</text>
<text transform="translate(378.5 259.3) scale(1.07 1)" font-size="31.3" font-weight="bold" fill="#000">d</text>
</svg>
</body></html>
